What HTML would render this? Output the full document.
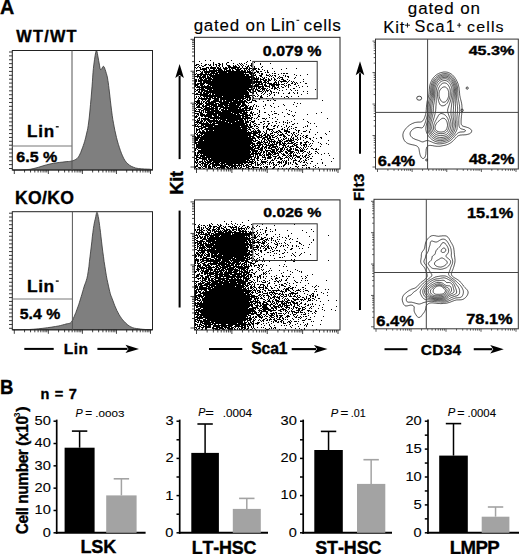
<!DOCTYPE html>
<html><head><meta charset="utf-8"><style>
html,body{margin:0;padding:0;background:#fff;width:520px;height:554px;overflow:hidden}
svg{display:block}
text{font-family:"Liberation Sans", sans-serif;fill:#000;font-kerning:none}
</style></head><body>
<svg width="520" height="554" viewBox="0 0 520 554">
<rect width="520" height="554" fill="#fff"/>
<path d="M205 60h1v1h-1zM210 60h1v1h-1zM231 60h1v1h-1zM250 60h1v1h-1zM199 61h1v1h-1zM247 61h1v1h-1zM213 62h1v1h-1zM227 62h2v1h-2zM246 62h1v1h-1zM254 62h1v1h-1zM201 63h1v1h-1zM213 63h1v1h-1zM218 63h2v1h-2zM222 63h1v1h-1zM226 63h1v1h-1zM233 63h1v1h-1zM239 63h1v1h-1zM241 63h1v1h-1zM244 63h1v1h-1zM251 63h1v1h-1zM260 63h1v1h-1zM270 63h1v1h-1zM196 64h3v1h-3zM205 64h2v1h-2zM208 64h1v1h-1zM210 64h1v1h-1zM213 64h1v1h-1zM215 64h2v1h-2zM219 64h2v1h-2zM222 64h1v1h-1zM226 64h1v1h-1zM237 64h1v1h-1zM240 64h1v1h-1zM242 64h1v1h-1zM246 64h1v1h-1zM251 64h1v1h-1zM260 64h1v1h-1zM195 65h2v1h-2zM199 65h1v1h-1zM201 65h1v1h-1zM204 65h2v1h-2zM209 65h2v1h-2zM213 65h1v1h-1zM216 65h1v1h-1zM218 65h2v1h-2zM222 65h1v1h-1zM227 65h3v1h-3zM233 65h1v1h-1zM235 65h1v1h-1zM238 65h1v1h-1zM241 65h1v1h-1zM243 65h1v1h-1zM248 65h1v1h-1zM250 65h2v1h-2zM198 66h1v1h-1zM202 66h2v1h-2zM211 66h1v1h-1zM216 66h1v1h-1zM219 66h1v1h-1zM222 66h1v1h-1zM228 66h3v1h-3zM233 66h4v1h-4zM239 66h1v1h-1zM242 66h1v1h-1zM245 66h1v1h-1zM247 66h2v1h-2zM251 66h1v1h-1zM254 66h1v1h-1zM262 66h1v1h-1zM195 67h1v1h-1zM197 67h1v1h-1zM199 67h2v1h-2zM206 67h3v1h-3zM210 67h6v1h-6zM217 67h2v1h-2zM220 67h1v1h-1zM223 67h1v1h-1zM225 67h2v1h-2zM228 67h12v1h-12zM242 67h1v1h-1zM246 67h2v1h-2zM249 67h1v1h-1zM254 67h1v1h-1zM261 67h1v1h-1zM196 68h1v1h-1zM200 68h1v1h-1zM202 68h5v1h-5zM208 68h1v1h-1zM210 68h6v1h-6zM217 68h4v1h-4zM223 68h5v1h-5zM229 68h1v1h-1zM231 68h5v1h-5zM237 68h2v1h-2zM240 68h2v1h-2zM243 68h5v1h-5zM249 68h3v1h-3zM253 68h4v1h-4zM258 68h1v1h-1zM272 68h1v1h-1zM286 68h1v1h-1zM296 68h1v1h-1zM200 69h7v1h-7zM209 69h1v1h-1zM213 69h2v1h-2zM216 69h1v1h-1zM218 69h4v1h-4zM224 69h3v1h-3zM229 69h2v1h-2zM232 69h1v1h-1zM235 69h6v1h-6zM244 69h1v1h-1zM246 69h1v1h-1zM248 69h2v1h-2zM252 69h4v1h-4zM258 69h2v1h-2zM262 69h1v1h-1zM281 69h1v1h-1zM196 70h4v1h-4zM203 70h2v1h-2zM206 70h1v1h-1zM209 70h14v1h-14zM224 70h1v1h-1zM226 70h5v1h-5zM232 70h2v1h-2zM236 70h4v1h-4zM241 70h2v1h-2zM244 70h2v1h-2zM247 70h1v1h-1zM249 70h1v1h-1zM251 70h1v1h-1zM253 70h1v1h-1zM256 70h1v1h-1zM264 70h1v1h-1zM267 70h1v1h-1zM196 71h1v1h-1zM200 71h1v1h-1zM202 71h1v1h-1zM204 71h13v1h-13zM218 71h28v1h-28zM247 71h4v1h-4zM256 71h3v1h-3zM260 71h2v1h-2zM267 71h1v1h-1zM274 71h1v1h-1zM201 72h2v1h-2zM204 72h6v1h-6zM211 72h4v1h-4zM216 72h11v1h-11zM228 72h25v1h-25zM254 72h2v1h-2zM257 72h2v1h-2zM265 72h1v1h-1zM267 72h2v1h-2zM196 73h1v1h-1zM200 73h3v1h-3zM205 73h2v1h-2zM208 73h1v1h-1zM210 73h8v1h-8zM219 73h25v1h-25zM245 73h1v1h-1zM249 73h6v1h-6zM259 73h1v1h-1zM261 73h2v1h-2zM272 73h1v1h-1zM274 73h2v1h-2zM281 73h1v1h-1zM283 73h2v1h-2zM286 73h2v1h-2zM195 74h1v1h-1zM197 74h15v1h-15zM213 74h1v1h-1zM215 74h34v1h-34zM250 74h2v1h-2zM253 74h1v1h-1zM255 74h1v1h-1zM261 74h2v1h-2zM266 74h1v1h-1zM269 74h1v1h-1zM278 74h1v1h-1zM294 74h1v1h-1zM307 74h1v1h-1zM197 75h2v1h-2zM200 75h2v1h-2zM203 75h3v1h-3zM207 75h1v1h-1zM209 75h36v1h-36zM246 75h3v1h-3zM251 75h5v1h-5zM259 75h3v1h-3zM266 75h3v1h-3zM270 75h1v1h-1zM272 75h1v1h-1zM274 75h2v1h-2zM283 75h1v1h-1zM285 75h1v1h-1zM296 75h1v1h-1zM300 75h1v1h-1zM195 76h6v1h-6zM202 76h4v1h-4zM207 76h2v1h-2zM210 76h44v1h-44zM256 76h1v1h-1zM260 76h2v1h-2zM269 76h1v1h-1zM271 76h1v1h-1zM275 76h1v1h-1zM279 76h1v1h-1zM285 76h1v1h-1zM287 76h2v1h-2zM197 77h1v1h-1zM199 77h7v1h-7zM207 77h4v1h-4zM212 77h43v1h-43zM256 77h1v1h-1zM258 77h1v1h-1zM262 77h1v1h-1zM264 77h1v1h-1zM266 77h1v1h-1zM273 77h1v1h-1zM278 77h1v1h-1zM280 77h3v1h-3zM288 77h1v1h-1zM295 77h1v1h-1zM199 78h3v1h-3zM203 78h1v1h-1zM205 78h7v1h-7zM213 78h37v1h-37zM251 78h8v1h-8zM260 78h1v1h-1zM263 78h2v1h-2zM268 78h1v1h-1zM271 78h1v1h-1zM274 78h1v1h-1zM277 78h1v1h-1zM279 78h1v1h-1zM282 78h1v1h-1zM294 78h1v1h-1zM195 79h2v1h-2zM198 79h1v1h-1zM200 79h3v1h-3zM204 79h3v1h-3zM208 79h51v1h-51zM260 79h4v1h-4zM265 79h2v1h-2zM268 79h2v1h-2zM271 79h1v1h-1zM274 79h2v1h-2zM281 79h3v1h-3zM287 79h1v1h-1zM303 79h1v1h-1zM195 80h2v1h-2zM198 80h13v1h-13zM212 80h41v1h-41zM254 80h1v1h-1zM256 80h2v1h-2zM260 80h1v1h-1zM263 80h4v1h-4zM268 80h3v1h-3zM274 80h1v1h-1zM276 80h1v1h-1zM279 80h1v1h-1zM283 80h3v1h-3zM289 80h1v1h-1zM195 81h2v1h-2zM198 81h4v1h-4zM203 81h59v1h-59zM264 81h2v1h-2zM267 81h2v1h-2zM275 81h1v1h-1zM278 81h1v1h-1zM280 81h7v1h-7zM288 81h1v1h-1zM291 81h1v1h-1zM293 81h1v1h-1zM303 81h1v1h-1zM195 82h1v1h-1zM200 82h2v1h-2zM203 82h59v1h-59zM263 82h4v1h-4zM268 82h1v1h-1zM274 82h3v1h-3zM278 82h1v1h-1zM281 82h1v1h-1zM287 82h1v1h-1zM292 82h1v1h-1zM294 82h1v1h-1zM296 82h1v1h-1zM300 82h1v1h-1zM195 83h1v1h-1zM197 83h8v1h-8zM206 83h49v1h-49zM256 83h1v1h-1zM258 83h2v1h-2zM261 83h2v1h-2zM265 83h1v1h-1zM267 83h5v1h-5zM273 83h2v1h-2zM276 83h1v1h-1zM278 83h1v1h-1zM284 83h1v1h-1zM286 83h1v1h-1zM291 83h2v1h-2zM295 83h1v1h-1zM297 83h1v1h-1zM305 83h2v1h-2zM195 84h4v1h-4zM200 84h4v1h-4zM208 84h43v1h-43zM252 84h1v1h-1zM255 84h8v1h-8zM264 84h2v1h-2zM269 84h11v1h-11zM281 84h3v1h-3zM288 84h2v1h-2zM294 84h2v1h-2zM195 85h3v1h-3zM200 85h3v1h-3zM204 85h1v1h-1zM207 85h2v1h-2zM210 85h43v1h-43zM254 85h5v1h-5zM262 85h1v1h-1zM264 85h3v1h-3zM269 85h1v1h-1zM271 85h4v1h-4zM276 85h3v1h-3zM284 85h1v1h-1zM286 85h1v1h-1zM288 85h1v1h-1zM290 85h1v1h-1zM298 85h1v1h-1zM195 86h1v1h-1zM197 86h3v1h-3zM201 86h10v1h-10zM212 86h52v1h-52zM265 86h5v1h-5zM272 86h3v1h-3zM278 86h1v1h-1zM281 86h1v1h-1zM285 86h1v1h-1zM288 86h1v1h-1zM296 86h1v1h-1zM302 86h1v1h-1zM307 86h1v1h-1zM196 87h57v1h-57zM254 87h1v1h-1zM256 87h1v1h-1zM258 87h3v1h-3zM262 87h2v1h-2zM269 87h1v1h-1zM272 87h1v1h-1zM274 87h2v1h-2zM277 87h2v1h-2zM282 87h2v1h-2zM288 87h1v1h-1zM299 87h1v1h-1zM199 88h1v1h-1zM201 88h3v1h-3zM205 88h44v1h-44zM251 88h1v1h-1zM253 88h2v1h-2zM256 88h1v1h-1zM258 88h2v1h-2zM261 88h5v1h-5zM267 88h1v1h-1zM271 88h2v1h-2zM274 88h3v1h-3zM279 88h1v1h-1zM293 88h2v1h-2zM195 89h1v1h-1zM197 89h8v1h-8zM207 89h5v1h-5zM213 89h41v1h-41zM255 89h3v1h-3zM260 89h1v1h-1zM262 89h3v1h-3zM266 89h1v1h-1zM269 89h1v1h-1zM274 89h1v1h-1zM277 89h1v1h-1zM286 89h1v1h-1zM290 89h1v1h-1zM315 89h1v1h-1zM196 90h2v1h-2zM199 90h1v1h-1zM201 90h7v1h-7zM209 90h38v1h-38zM248 90h3v1h-3zM252 90h2v1h-2zM255 90h1v1h-1zM257 90h3v1h-3zM262 90h1v1h-1zM264 90h1v1h-1zM266 90h3v1h-3zM270 90h1v1h-1zM279 90h1v1h-1zM282 90h1v1h-1zM291 90h1v1h-1zM295 90h1v1h-1zM297 90h1v1h-1zM195 91h1v1h-1zM198 91h2v1h-2zM201 91h2v1h-2zM204 91h44v1h-44zM249 91h2v1h-2zM253 91h3v1h-3zM258 91h4v1h-4zM263 91h1v1h-1zM265 91h1v1h-1zM267 91h1v1h-1zM270 91h2v1h-2zM303 91h1v1h-1zM307 91h1v1h-1zM198 92h4v1h-4zM203 92h2v1h-2zM206 92h43v1h-43zM250 92h4v1h-4zM256 92h1v1h-1zM262 92h1v1h-1zM265 92h1v1h-1zM271 92h1v1h-1zM273 92h2v1h-2zM276 92h1v1h-1zM278 92h1v1h-1zM289 92h1v1h-1zM293 92h1v1h-1zM297 92h1v1h-1zM196 93h2v1h-2zM200 93h2v1h-2zM203 93h6v1h-6zM210 93h1v1h-1zM212 93h37v1h-37zM252 93h2v1h-2zM256 93h1v1h-1zM261 93h1v1h-1zM264 93h1v1h-1zM269 93h1v1h-1zM271 93h1v1h-1zM278 93h1v1h-1zM283 93h1v1h-1zM288 93h2v1h-2zM294 93h1v1h-1zM297 93h1v1h-1zM307 93h1v1h-1zM195 94h13v1h-13zM209 94h2v1h-2zM212 94h2v1h-2zM215 94h34v1h-34zM257 94h1v1h-1zM263 94h1v1h-1zM267 94h1v1h-1zM270 94h1v1h-1zM274 94h1v1h-1zM301 94h1v1h-1zM200 95h44v1h-44zM245 95h7v1h-7zM253 95h2v1h-2zM258 95h1v1h-1zM261 95h1v1h-1zM269 95h1v1h-1zM274 95h1v1h-1zM196 96h1v1h-1zM198 96h1v1h-1zM200 96h1v1h-1zM203 96h19v1h-19zM223 96h27v1h-27zM252 96h1v1h-1zM255 96h1v1h-1zM257 96h1v1h-1zM260 96h2v1h-2zM267 96h1v1h-1zM281 96h1v1h-1zM286 96h2v1h-2zM291 96h1v1h-1zM298 96h1v1h-1zM196 97h1v1h-1zM199 97h1v1h-1zM201 97h1v1h-1zM204 97h1v1h-1zM206 97h2v1h-2zM209 97h4v1h-4zM214 97h2v1h-2zM217 97h27v1h-27zM245 97h6v1h-6zM253 97h1v1h-1zM260 97h3v1h-3zM272 97h1v1h-1zM284 97h1v1h-1zM288 97h1v1h-1zM195 98h1v1h-1zM198 98h13v1h-13zM212 98h7v1h-7zM220 98h26v1h-26zM247 98h1v1h-1zM249 98h2v1h-2zM253 98h1v1h-1zM259 98h1v1h-1zM266 98h1v1h-1zM198 99h1v1h-1zM201 99h6v1h-6zM208 99h3v1h-3zM214 99h5v1h-5zM220 99h14v1h-14zM235 99h6v1h-6zM242 99h2v1h-2zM246 99h2v1h-2zM249 99h2v1h-2zM252 99h1v1h-1zM259 99h1v1h-1zM273 99h1v1h-1zM197 100h3v1h-3zM202 100h1v1h-1zM205 100h1v1h-1zM207 100h3v1h-3zM213 100h6v1h-6zM220 100h2v1h-2zM223 100h2v1h-2zM226 100h12v1h-12zM239 100h4v1h-4zM244 100h2v1h-2zM247 100h3v1h-3zM252 100h4v1h-4zM267 100h2v1h-2zM270 100h1v1h-1zM274 100h2v1h-2zM322 100h1v1h-1zM195 101h5v1h-5zM201 101h1v1h-1zM203 101h2v1h-2zM206 101h4v1h-4zM211 101h11v1h-11zM223 101h9v1h-9zM233 101h14v1h-14zM251 101h1v1h-1zM255 101h2v1h-2zM263 101h1v1h-1zM196 102h4v1h-4zM201 102h1v1h-1zM203 102h1v1h-1zM205 102h2v1h-2zM208 102h8v1h-8zM219 102h10v1h-10zM230 102h15v1h-15zM246 102h2v1h-2zM249 102h3v1h-3zM294 102h1v1h-1zM195 103h1v1h-1zM197 103h6v1h-6zM205 103h9v1h-9zM215 103h4v1h-4zM220 103h21v1h-21zM242 103h3v1h-3zM248 103h1v1h-1zM273 103h1v1h-1zM297 103h1v1h-1zM300 103h1v1h-1zM196 104h2v1h-2zM199 104h3v1h-3zM203 104h1v1h-1zM206 104h11v1h-11zM218 104h10v1h-10zM229 104h7v1h-7zM237 104h4v1h-4zM242 104h4v1h-4zM254 104h1v1h-1zM265 104h1v1h-1zM283 104h1v1h-1zM293 104h1v1h-1zM196 105h1v1h-1zM198 105h2v1h-2zM202 105h2v1h-2zM205 105h5v1h-5zM211 105h6v1h-6zM218 105h5v1h-5zM224 105h16v1h-16zM241 105h6v1h-6zM248 105h1v1h-1zM253 105h1v1h-1zM256 105h1v1h-1zM265 105h1v1h-1zM270 105h1v1h-1zM284 105h1v1h-1zM197 106h3v1h-3zM202 106h5v1h-5zM209 106h3v1h-3zM213 106h11v1h-11zM225 106h3v1h-3zM229 106h10v1h-10zM240 106h4v1h-4zM245 106h3v1h-3zM250 106h2v1h-2zM253 106h1v1h-1zM256 106h1v1h-1zM258 106h1v1h-1zM263 106h1v1h-1zM271 106h1v1h-1zM278 106h1v1h-1zM296 106h1v1h-1zM196 107h6v1h-6zM203 107h1v1h-1zM205 107h5v1h-5zM211 107h3v1h-3zM215 107h3v1h-3zM220 107h21v1h-21zM244 107h4v1h-4zM249 107h2v1h-2zM252 107h1v1h-1zM274 107h1v1h-1zM195 108h1v1h-1zM201 108h2v1h-2zM204 108h14v1h-14zM219 108h2v1h-2zM223 108h15v1h-15zM239 108h2v1h-2zM242 108h9v1h-9zM252 108h1v1h-1zM255 108h1v1h-1zM264 108h1v1h-1zM196 109h1v1h-1zM198 109h3v1h-3zM203 109h11v1h-11zM215 109h3v1h-3zM219 109h1v1h-1zM221 109h3v1h-3zM225 109h2v1h-2zM228 109h16v1h-16zM245 109h2v1h-2zM249 109h4v1h-4zM257 109h1v1h-1zM286 109h1v1h-1zM195 110h1v1h-1zM199 110h1v1h-1zM201 110h3v1h-3zM205 110h5v1h-5zM211 110h8v1h-8zM221 110h29v1h-29zM259 110h1v1h-1zM289 110h1v1h-1zM195 111h5v1h-5zM201 111h1v1h-1zM203 111h1v1h-1zM205 111h1v1h-1zM207 111h14v1h-14zM222 111h23v1h-23zM246 111h1v1h-1zM251 111h1v1h-1zM259 111h1v1h-1zM271 111h1v1h-1zM274 111h1v1h-1zM291 111h1v1h-1zM199 112h3v1h-3zM203 112h1v1h-1zM205 112h9v1h-9zM215 112h16v1h-16zM232 112h10v1h-10zM243 112h5v1h-5zM250 112h2v1h-2zM253 112h1v1h-1zM259 112h1v1h-1zM264 112h2v1h-2zM282 112h1v1h-1zM295 112h1v1h-1zM321 112h1v1h-1zM195 113h4v1h-4zM200 113h3v1h-3zM207 113h26v1h-26zM234 113h5v1h-5zM240 113h7v1h-7zM250 113h3v1h-3zM257 113h1v1h-1zM274 113h3v1h-3zM287 113h1v1h-1zM316 113h1v1h-1zM197 114h2v1h-2zM200 114h5v1h-5zM206 114h11v1h-11zM218 114h18v1h-18zM237 114h3v1h-3zM242 114h6v1h-6zM249 114h1v1h-1zM252 114h1v1h-1zM254 114h2v1h-2zM259 114h1v1h-1zM268 114h1v1h-1zM272 114h1v1h-1zM278 114h1v1h-1zM288 114h2v1h-2zM307 114h1v1h-1zM196 115h1v1h-1zM198 115h1v1h-1zM200 115h12v1h-12zM213 115h4v1h-4zM218 115h26v1h-26zM245 115h6v1h-6zM252 115h1v1h-1zM258 115h1v1h-1zM269 115h1v1h-1zM292 115h1v1h-1zM294 115h1v1h-1zM195 116h3v1h-3zM201 116h2v1h-2zM204 116h8v1h-8zM214 116h5v1h-5zM220 116h21v1h-21zM242 116h6v1h-6zM250 116h1v1h-1zM258 116h2v1h-2zM284 116h1v1h-1zM293 116h1v1h-1zM195 117h2v1h-2zM199 117h1v1h-1zM205 117h1v1h-1zM208 117h33v1h-33zM242 117h2v1h-2zM245 117h5v1h-5zM251 117h2v1h-2zM257 117h1v1h-1zM269 117h1v1h-1zM275 117h1v1h-1zM198 118h2v1h-2zM201 118h8v1h-8zM210 118h42v1h-42zM254 118h1v1h-1zM256 118h1v1h-1zM262 118h3v1h-3zM266 118h1v1h-1zM272 118h1v1h-1zM327 118h1v1h-1zM197 119h1v1h-1zM199 119h1v1h-1zM201 119h1v1h-1zM203 119h7v1h-7zM213 119h2v1h-2zM216 119h1v1h-1zM218 119h1v1h-1zM220 119h6v1h-6zM227 119h16v1h-16zM244 119h2v1h-2zM247 119h1v1h-1zM251 119h1v1h-1zM258 119h1v1h-1zM265 119h1v1h-1zM277 119h1v1h-1zM294 119h1v1h-1zM303 119h1v1h-1zM195 120h1v1h-1zM197 120h3v1h-3zM201 120h2v1h-2zM204 120h2v1h-2zM207 120h11v1h-11zM219 120h2v1h-2zM222 120h16v1h-16zM239 120h5v1h-5zM245 120h1v1h-1zM247 120h1v1h-1zM249 120h2v1h-2zM254 120h1v1h-1zM287 120h1v1h-1zM196 121h3v1h-3zM200 121h3v1h-3zM204 121h1v1h-1zM206 121h1v1h-1zM208 121h17v1h-17zM226 121h9v1h-9zM236 121h8v1h-8zM245 121h4v1h-4zM251 121h4v1h-4zM263 121h2v1h-2zM267 121h2v1h-2zM275 121h2v1h-2zM283 121h1v1h-1zM291 121h1v1h-1zM307 121h1v1h-1zM195 122h7v1h-7zM203 122h1v1h-1zM206 122h2v1h-2zM209 122h3v1h-3zM213 122h2v1h-2zM216 122h12v1h-12zM229 122h15v1h-15zM245 122h4v1h-4zM250 122h1v1h-1zM252 122h2v1h-2zM260 122h2v1h-2zM272 122h1v1h-1zM279 122h1v1h-1zM283 122h1v1h-1zM285 122h1v1h-1zM287 122h1v1h-1zM289 122h1v1h-1zM308 122h1v1h-1zM197 123h1v1h-1zM199 123h10v1h-10zM210 123h1v1h-1zM212 123h19v1h-19zM232 123h15v1h-15zM250 123h1v1h-1zM254 123h2v1h-2zM264 123h1v1h-1zM268 123h2v1h-2zM276 123h1v1h-1zM287 123h1v1h-1zM294 123h1v1h-1zM297 123h1v1h-1zM310 123h1v1h-1zM314 123h1v1h-1zM195 124h2v1h-2zM198 124h1v1h-1zM201 124h14v1h-14zM218 124h27v1h-27zM246 124h2v1h-2zM249 124h2v1h-2zM253 124h1v1h-1zM256 124h1v1h-1zM258 124h2v1h-2zM263 124h1v1h-1zM268 124h1v1h-1zM283 124h1v1h-1zM292 124h2v1h-2zM195 125h1v1h-1zM197 125h1v1h-1zM201 125h3v1h-3zM205 125h43v1h-43zM249 125h2v1h-2zM254 125h2v1h-2zM267 125h1v1h-1zM271 125h1v1h-1zM274 125h2v1h-2zM278 125h1v1h-1zM286 125h1v1h-1zM307 125h1v1h-1zM195 126h7v1h-7zM203 126h10v1h-10zM214 126h26v1h-26zM241 126h8v1h-8zM250 126h3v1h-3zM254 126h1v1h-1zM256 126h2v1h-2zM263 126h2v1h-2zM266 126h2v1h-2zM273 126h2v1h-2zM277 126h1v1h-1zM281 126h1v1h-1zM286 126h1v1h-1zM289 126h1v1h-1zM291 126h1v1h-1zM305 126h1v1h-1zM307 126h1v1h-1zM316 126h1v1h-1zM198 127h1v1h-1zM201 127h5v1h-5zM208 127h39v1h-39zM248 127h4v1h-4zM258 127h1v1h-1zM263 127h1v1h-1zM266 127h1v1h-1zM277 127h1v1h-1zM284 127h1v1h-1zM288 127h1v1h-1zM295 127h2v1h-2zM303 127h1v1h-1zM196 128h1v1h-1zM199 128h4v1h-4zM205 128h36v1h-36zM242 128h6v1h-6zM249 128h1v1h-1zM252 128h2v1h-2zM256 128h2v1h-2zM263 128h1v1h-1zM267 128h2v1h-2zM273 128h2v1h-2zM282 128h1v1h-1zM287 128h1v1h-1zM291 128h1v1h-1zM293 128h1v1h-1zM196 129h4v1h-4zM201 129h1v1h-1zM204 129h43v1h-43zM248 129h3v1h-3zM254 129h1v1h-1zM258 129h1v1h-1zM267 129h6v1h-6zM281 129h2v1h-2zM284 129h1v1h-1zM287 129h1v1h-1zM289 129h1v1h-1zM295 129h1v1h-1zM310 129h1v1h-1zM196 130h2v1h-2zM199 130h1v1h-1zM202 130h2v1h-2zM206 130h2v1h-2zM209 130h4v1h-4zM214 130h34v1h-34zM250 130h1v1h-1zM253 130h1v1h-1zM255 130h1v1h-1zM257 130h3v1h-3zM266 130h1v1h-1zM269 130h1v1h-1zM272 130h1v1h-1zM278 130h2v1h-2zM284 130h4v1h-4zM296 130h1v1h-1zM298 130h2v1h-2zM306 130h1v1h-1zM196 131h1v1h-1zM199 131h2v1h-2zM202 131h3v1h-3zM206 131h41v1h-41zM248 131h1v1h-1zM251 131h6v1h-6zM258 131h3v1h-3zM263 131h1v1h-1zM266 131h1v1h-1zM271 131h1v1h-1zM273 131h1v1h-1zM276 131h2v1h-2zM279 131h2v1h-2zM284 131h6v1h-6zM298 131h1v1h-1zM303 131h3v1h-3zM309 131h1v1h-1zM329 131h1v1h-1zM196 132h1v1h-1zM198 132h54v1h-54zM253 132h8v1h-8zM264 132h1v1h-1zM266 132h1v1h-1zM272 132h1v1h-1zM274 132h3v1h-3zM278 132h1v1h-1zM280 132h2v1h-2zM286 132h1v1h-1zM288 132h2v1h-2zM293 132h2v1h-2zM298 132h1v1h-1zM309 132h1v1h-1zM317 132h1v1h-1zM195 133h1v1h-1zM197 133h1v1h-1zM200 133h58v1h-58zM259 133h1v1h-1zM262 133h1v1h-1zM265 133h2v1h-2zM270 133h3v1h-3zM277 133h1v1h-1zM282 133h1v1h-1zM285 133h2v1h-2zM291 133h1v1h-1zM293 133h1v1h-1zM296 133h1v1h-1zM301 133h1v1h-1zM325 133h1v1h-1zM196 134h2v1h-2zM199 134h1v1h-1zM201 134h2v1h-2zM204 134h47v1h-47zM253 134h3v1h-3zM258 134h2v1h-2zM261 134h1v1h-1zM264 134h2v1h-2zM267 134h2v1h-2zM270 134h1v1h-1zM274 134h1v1h-1zM278 134h1v1h-1zM280 134h4v1h-4zM287 134h1v1h-1zM292 134h1v1h-1zM294 134h1v1h-1zM298 134h1v1h-1zM315 134h1v1h-1zM326 134h1v1h-1zM197 135h5v1h-5zM203 135h48v1h-48zM253 135h4v1h-4zM259 135h3v1h-3zM263 135h3v1h-3zM267 135h3v1h-3zM271 135h3v1h-3zM277 135h1v1h-1zM279 135h3v1h-3zM283 135h2v1h-2zM288 135h2v1h-2zM292 135h1v1h-1zM295 135h1v1h-1zM297 135h1v1h-1zM300 135h1v1h-1zM303 135h1v1h-1zM306 135h2v1h-2zM195 136h1v1h-1zM197 136h3v1h-3zM201 136h47v1h-47zM249 136h5v1h-5zM256 136h4v1h-4zM261 136h2v1h-2zM265 136h3v1h-3zM269 136h2v1h-2zM272 136h1v1h-1zM275 136h2v1h-2zM283 136h3v1h-3zM291 136h1v1h-1zM295 136h2v1h-2zM302 136h1v1h-1zM305 136h2v1h-2zM195 137h56v1h-56zM252 137h3v1h-3zM257 137h5v1h-5zM263 137h5v1h-5zM269 137h2v1h-2zM272 137h3v1h-3zM277 137h1v1h-1zM280 137h1v1h-1zM284 137h1v1h-1zM286 137h1v1h-1zM291 137h1v1h-1zM293 137h1v1h-1zM297 137h1v1h-1zM300 137h1v1h-1zM303 137h1v1h-1zM306 137h2v1h-2zM313 137h1v1h-1zM320 137h2v1h-2zM195 138h4v1h-4zM200 138h56v1h-56zM258 138h1v1h-1zM262 138h3v1h-3zM267 138h4v1h-4zM276 138h1v1h-1zM278 138h1v1h-1zM283 138h1v1h-1zM285 138h2v1h-2zM288 138h1v1h-1zM290 138h1v1h-1zM292 138h2v1h-2zM297 138h1v1h-1zM300 138h1v1h-1zM305 138h1v1h-1zM309 138h2v1h-2zM316 138h1v1h-1zM321 138h1v1h-1zM195 139h3v1h-3zM199 139h54v1h-54zM255 139h1v1h-1zM259 139h1v1h-1zM262 139h1v1h-1zM264 139h2v1h-2zM267 139h2v1h-2zM270 139h4v1h-4zM278 139h1v1h-1zM281 139h1v1h-1zM283 139h2v1h-2zM288 139h1v1h-1zM290 139h2v1h-2zM293 139h1v1h-1zM295 139h2v1h-2zM298 139h1v1h-1zM300 139h1v1h-1zM310 139h1v1h-1zM195 140h3v1h-3zM199 140h4v1h-4zM204 140h50v1h-50zM255 140h3v1h-3zM261 140h1v1h-1zM264 140h1v1h-1zM266 140h1v1h-1zM268 140h2v1h-2zM271 140h1v1h-1zM274 140h1v1h-1zM278 140h3v1h-3zM282 140h1v1h-1zM286 140h8v1h-8zM297 140h1v1h-1zM303 140h1v1h-1zM312 140h1v1h-1zM328 140h1v1h-1zM195 141h1v1h-1zM198 141h54v1h-54zM253 141h3v1h-3zM258 141h2v1h-2zM261 141h1v1h-1zM263 141h2v1h-2zM267 141h1v1h-1zM269 141h7v1h-7zM277 141h1v1h-1zM279 141h3v1h-3zM284 141h4v1h-4zM289 141h3v1h-3zM294 141h1v1h-1zM306 141h2v1h-2zM313 141h1v1h-1zM195 142h58v1h-58zM257 142h6v1h-6zM264 142h4v1h-4zM269 142h1v1h-1zM271 142h1v1h-1zM273 142h2v1h-2zM276 142h5v1h-5zM282 142h1v1h-1zM284 142h1v1h-1zM288 142h1v1h-1zM291 142h3v1h-3zM296 142h2v1h-2zM300 142h2v1h-2zM304 142h3v1h-3zM308 142h1v1h-1zM318 142h1v1h-1zM195 143h2v1h-2zM198 143h57v1h-57zM256 143h5v1h-5zM263 143h1v1h-1zM265 143h1v1h-1zM268 143h2v1h-2zM272 143h1v1h-1zM274 143h1v1h-1zM276 143h2v1h-2zM279 143h2v1h-2zM282 143h4v1h-4zM287 143h6v1h-6zM294 143h2v1h-2zM300 143h2v1h-2zM305 143h1v1h-1zM310 143h1v1h-1zM312 143h1v1h-1zM320 143h1v1h-1zM326 143h1v1h-1zM196 144h55v1h-55zM252 144h3v1h-3zM257 144h1v1h-1zM259 144h4v1h-4zM264 144h3v1h-3zM268 144h1v1h-1zM270 144h7v1h-7zM279 144h3v1h-3zM283 144h2v1h-2zM286 144h1v1h-1zM293 144h2v1h-2zM296 144h2v1h-2zM300 144h1v1h-1zM303 144h4v1h-4zM309 144h1v1h-1zM321 144h1v1h-1zM328 144h1v1h-1zM196 145h54v1h-54zM251 145h2v1h-2zM254 145h7v1h-7zM262 145h1v1h-1zM266 145h8v1h-8zM276 145h1v1h-1zM279 145h1v1h-1zM282 145h4v1h-4zM288 145h1v1h-1zM292 145h1v1h-1zM294 145h3v1h-3zM301 145h1v1h-1zM303 145h2v1h-2zM306 145h1v1h-1zM311 145h1v1h-1zM196 146h55v1h-55zM252 146h4v1h-4zM258 146h2v1h-2zM262 146h2v1h-2zM265 146h2v1h-2zM269 146h2v1h-2zM272 146h6v1h-6zM283 146h1v1h-1zM285 146h1v1h-1zM287 146h2v1h-2zM290 146h4v1h-4zM296 146h2v1h-2zM304 146h1v1h-1zM306 146h1v1h-1zM308 146h1v1h-1zM310 146h1v1h-1zM320 146h1v1h-1zM196 147h58v1h-58zM255 147h1v1h-1zM257 147h3v1h-3zM261 147h2v1h-2zM264 147h3v1h-3zM268 147h2v1h-2zM271 147h5v1h-5zM277 147h1v1h-1zM279 147h1v1h-1zM282 147h2v1h-2zM285 147h2v1h-2zM289 147h2v1h-2zM296 147h3v1h-3zM300 147h1v1h-1zM303 147h1v1h-1zM305 147h1v1h-1zM195 148h2v1h-2zM198 148h55v1h-55zM254 148h5v1h-5zM260 148h3v1h-3zM264 148h1v1h-1zM266 148h1v1h-1zM268 148h4v1h-4zM275 148h2v1h-2zM278 148h1v1h-1zM280 148h3v1h-3zM284 148h1v1h-1zM287 148h1v1h-1zM290 148h2v1h-2zM293 148h1v1h-1zM295 148h1v1h-1zM299 148h1v1h-1zM301 148h1v1h-1zM303 148h1v1h-1zM307 148h1v1h-1zM311 148h2v1h-2zM316 148h1v1h-1zM195 149h1v1h-1zM197 149h1v1h-1zM201 149h54v1h-54zM258 149h5v1h-5zM265 149h1v1h-1zM271 149h4v1h-4zM276 149h3v1h-3zM280 149h3v1h-3zM284 149h1v1h-1zM286 149h2v1h-2zM289 149h3v1h-3zM293 149h1v1h-1zM295 149h3v1h-3zM300 149h1v1h-1zM302 149h1v1h-1zM304 149h1v1h-1zM306 149h1v1h-1zM313 149h1v1h-1zM315 149h2v1h-2zM318 149h1v1h-1zM195 150h1v1h-1zM198 150h52v1h-52zM251 150h7v1h-7zM260 150h3v1h-3zM265 150h6v1h-6zM272 150h3v1h-3zM276 150h2v1h-2zM280 150h2v1h-2zM283 150h1v1h-1zM287 150h4v1h-4zM295 150h4v1h-4zM300 150h4v1h-4zM198 151h53v1h-53zM252 151h6v1h-6zM259 151h1v1h-1zM261 151h1v1h-1zM263 151h2v1h-2zM266 151h2v1h-2zM270 151h5v1h-5zM276 151h1v1h-1zM278 151h5v1h-5zM285 151h2v1h-2zM288 151h6v1h-6zM298 151h1v1h-1zM300 151h3v1h-3zM304 151h2v1h-2zM309 151h1v1h-1zM315 151h2v1h-2zM195 152h1v1h-1zM197 152h54v1h-54zM252 152h2v1h-2zM255 152h2v1h-2zM258 152h1v1h-1zM260 152h2v1h-2zM263 152h2v1h-2zM266 152h1v1h-1zM268 152h2v1h-2zM271 152h5v1h-5zM277 152h1v1h-1zM279 152h2v1h-2zM285 152h3v1h-3zM290 152h3v1h-3zM294 152h1v1h-1zM296 152h1v1h-1zM298 152h1v1h-1zM303 152h1v1h-1zM307 152h1v1h-1zM309 152h1v1h-1zM317 152h1v1h-1zM195 153h1v1h-1zM197 153h2v1h-2zM200 153h50v1h-50zM251 153h10v1h-10zM263 153h1v1h-1zM266 153h1v1h-1zM268 153h3v1h-3zM272 153h1v1h-1zM274 153h5v1h-5zM281 153h1v1h-1zM283 153h1v1h-1zM286 153h2v1h-2zM289 153h3v1h-3zM293 153h1v1h-1zM297 153h1v1h-1zM299 153h1v1h-1zM302 153h1v1h-1zM308 153h1v1h-1zM311 153h1v1h-1zM315 153h1v1h-1zM318 153h1v1h-1zM324 153h1v1h-1zM328 153h1v1h-1zM195 154h1v1h-1zM197 154h1v1h-1zM199 154h1v1h-1zM201 154h1v1h-1zM203 154h51v1h-51zM255 154h3v1h-3zM259 154h2v1h-2zM262 154h1v1h-1zM264 154h1v1h-1zM266 154h6v1h-6zM273 154h3v1h-3zM278 154h1v1h-1zM282 154h3v1h-3zM288 154h1v1h-1zM290 154h1v1h-1zM293 154h1v1h-1zM295 154h1v1h-1zM306 154h1v1h-1zM309 154h2v1h-2zM321 154h1v1h-1zM195 155h4v1h-4zM200 155h51v1h-51zM253 155h1v1h-1zM255 155h1v1h-1zM257 155h1v1h-1zM259 155h3v1h-3zM263 155h2v1h-2zM266 155h3v1h-3zM270 155h1v1h-1zM272 155h1v1h-1zM277 155h2v1h-2zM283 155h3v1h-3zM287 155h1v1h-1zM289 155h3v1h-3zM293 155h4v1h-4zM300 155h1v1h-1zM302 155h1v1h-1zM305 155h2v1h-2zM308 155h1v1h-1zM329 155h1v1h-1zM196 156h2v1h-2zM200 156h5v1h-5zM206 156h48v1h-48zM255 156h1v1h-1zM257 156h2v1h-2zM262 156h1v1h-1zM264 156h1v1h-1zM268 156h3v1h-3zM273 156h4v1h-4zM279 156h1v1h-1zM282 156h1v1h-1zM286 156h1v1h-1zM288 156h1v1h-1zM290 156h2v1h-2zM293 156h1v1h-1zM296 156h4v1h-4zM302 156h1v1h-1zM304 156h2v1h-2zM309 156h1v1h-1zM312 156h1v1h-1zM196 157h5v1h-5zM202 157h50v1h-50zM254 157h2v1h-2zM257 157h2v1h-2zM262 157h4v1h-4zM267 157h5v1h-5zM275 157h1v1h-1zM278 157h3v1h-3zM285 157h3v1h-3zM289 157h1v1h-1zM292 157h1v1h-1zM295 157h1v1h-1zM297 157h3v1h-3zM303 157h1v1h-1zM305 157h1v1h-1zM307 157h2v1h-2zM195 158h2v1h-2zM199 158h8v1h-8zM208 158h2v1h-2zM211 158h39v1h-39zM251 158h1v1h-1zM254 158h1v1h-1zM256 158h3v1h-3zM265 158h1v1h-1zM267 158h4v1h-4zM274 158h2v1h-2zM277 158h2v1h-2zM280 158h3v1h-3zM284 158h1v1h-1zM288 158h1v1h-1zM290 158h1v1h-1zM292 158h1v1h-1zM294 158h1v1h-1zM300 158h2v1h-2zM306 158h1v1h-1zM310 158h2v1h-2zM333 158h1v1h-1zM196 159h3v1h-3zM202 159h5v1h-5zM208 159h41v1h-41zM250 159h5v1h-5zM257 159h1v1h-1zM260 159h1v1h-1zM262 159h1v1h-1zM264 159h2v1h-2zM272 159h1v1h-1zM274 159h1v1h-1zM280 159h2v1h-2zM288 159h1v1h-1zM291 159h1v1h-1zM295 159h1v1h-1zM300 159h1v1h-1zM305 159h1v1h-1zM308 159h1v1h-1zM321 159h1v1h-1zM196 160h2v1h-2zM202 160h1v1h-1zM204 160h1v1h-1zM206 160h2v1h-2zM209 160h37v1h-37zM247 160h3v1h-3zM252 160h1v1h-1zM254 160h1v1h-1zM257 160h2v1h-2zM261 160h1v1h-1zM267 160h1v1h-1zM271 160h3v1h-3zM276 160h1v1h-1zM282 160h1v1h-1zM284 160h1v1h-1zM286 160h1v1h-1zM288 160h1v1h-1zM293 160h4v1h-4zM299 160h1v1h-1zM303 160h1v1h-1zM305 160h2v1h-2zM195 161h1v1h-1zM197 161h1v1h-1zM199 161h4v1h-4zM204 161h2v1h-2zM207 161h5v1h-5zM213 161h35v1h-35zM249 161h5v1h-5zM255 161h1v1h-1zM261 161h6v1h-6zM270 161h1v1h-1zM278 161h2v1h-2zM281 161h1v1h-1zM283 161h1v1h-1zM285 161h2v1h-2zM293 161h1v1h-1zM298 161h2v1h-2zM301 161h1v1h-1zM304 161h1v1h-1zM311 161h2v1h-2zM331 161h1v1h-1zM195 162h3v1h-3zM199 162h2v1h-2zM202 162h2v1h-2zM205 162h6v1h-6zM212 162h8v1h-8zM221 162h32v1h-32zM254 162h2v1h-2zM257 162h1v1h-1zM261 162h5v1h-5zM267 162h1v1h-1zM269 162h2v1h-2zM272 162h2v1h-2zM277 162h5v1h-5zM283 162h1v1h-1zM285 162h2v1h-2zM288 162h1v1h-1zM290 162h1v1h-1zM293 162h1v1h-1zM295 162h1v1h-1zM300 162h1v1h-1zM303 162h2v1h-2zM306 162h1v1h-1zM322 162h1v1h-1zM196 163h1v1h-1zM198 163h1v1h-1zM201 163h5v1h-5zM207 163h2v1h-2zM210 163h4v1h-4zM215 163h4v1h-4zM220 163h5v1h-5zM226 163h17v1h-17zM244 163h2v1h-2zM248 163h1v1h-1zM251 163h3v1h-3zM255 163h1v1h-1zM257 163h1v1h-1zM260 163h1v1h-1zM262 163h1v1h-1zM265 163h1v1h-1zM269 163h1v1h-1zM271 163h1v1h-1zM273 163h1v1h-1zM279 163h1v1h-1zM281 163h1v1h-1zM285 163h2v1h-2zM288 163h1v1h-1zM290 163h1v1h-1zM295 163h2v1h-2zM307 163h1v1h-1zM310 163h1v1h-1zM317 163h1v1h-1zM322 163h1v1h-1zM197 164h1v1h-1zM199 164h2v1h-2zM202 164h1v1h-1zM204 164h4v1h-4zM209 164h2v1h-2zM212 164h8v1h-8zM221 164h2v1h-2zM224 164h9v1h-9zM234 164h2v1h-2zM238 164h2v1h-2zM241 164h3v1h-3zM246 164h2v1h-2zM249 164h3v1h-3zM255 164h1v1h-1zM257 164h3v1h-3zM261 164h1v1h-1zM263 164h1v1h-1zM267 164h1v1h-1zM269 164h1v1h-1zM273 164h2v1h-2zM276 164h1v1h-1zM278 164h1v1h-1zM284 164h2v1h-2zM288 164h1v1h-1zM292 164h1v1h-1zM296 164h2v1h-2zM305 164h1v1h-1zM196 165h2v1h-2zM200 165h1v1h-1zM202 165h1v1h-1zM204 165h3v1h-3zM208 165h2v1h-2zM212 165h14v1h-14zM228 165h14v1h-14zM243 165h1v1h-1zM245 165h4v1h-4zM251 165h1v1h-1zM255 165h1v1h-1zM257 165h2v1h-2zM260 165h1v1h-1zM273 165h1v1h-1zM275 165h2v1h-2zM283 165h2v1h-2zM302 165h3v1h-3zM306 165h1v1h-1zM315 165h1v1h-1zM325 165h1v1h-1zM195 166h3v1h-3zM201 166h1v1h-1zM203 166h4v1h-4zM208 166h3v1h-3zM212 166h3v1h-3zM216 166h1v1h-1zM220 166h8v1h-8zM229 166h1v1h-1zM231 166h5v1h-5zM237 166h1v1h-1zM239 166h1v1h-1zM241 166h1v1h-1zM243 166h2v1h-2zM246 166h1v1h-1zM248 166h3v1h-3zM252 166h2v1h-2zM263 166h1v1h-1zM265 166h3v1h-3zM270 166h1v1h-1zM274 166h1v1h-1zM279 166h1v1h-1zM281 166h1v1h-1zM283 166h1v1h-1zM295 166h2v1h-2zM298 166h1v1h-1zM313 166h1v1h-1zM195 167h1v1h-1zM198 167h3v1h-3zM202 167h1v1h-1zM205 167h2v1h-2zM208 167h3v1h-3zM212 167h1v1h-1zM214 167h2v1h-2zM217 167h8v1h-8zM226 167h3v1h-3zM230 167h3v1h-3zM234 167h3v1h-3zM238 167h1v1h-1zM240 167h2v1h-2zM246 167h3v1h-3zM252 167h7v1h-7zM260 167h2v1h-2zM264 167h1v1h-1zM266 167h2v1h-2zM273 167h2v1h-2zM290 167h1v1h-1zM297 167h1v1h-1zM302 167h1v1h-1zM306 167h1v1h-1zM308 167h2v1h-2zM315 167h1v1h-1zM318 167h1v1h-1zM196 168h1v1h-1zM199 168h2v1h-2zM203 168h2v1h-2zM208 168h5v1h-5zM216 168h2v1h-2zM219 168h1v1h-1zM221 168h4v1h-4zM227 168h4v1h-4zM232 168h1v1h-1zM234 168h3v1h-3zM238 168h3v1h-3zM242 168h2v1h-2zM245 168h1v1h-1zM248 168h2v1h-2zM251 168h1v1h-1zM253 168h1v1h-1zM260 168h2v1h-2zM266 168h1v1h-1zM272 168h2v1h-2zM278 168h1v1h-1zM282 168h1v1h-1zM286 168h1v1h-1zM289 168h1v1h-1zM292 168h2v1h-2zM298 168h1v1h-1zM306 168h1v1h-1zM309 168h1v1h-1z" fill="#000" shape-rendering="crispEdges"/>
<path d="M248 220h1v1h-1zM224 221h1v1h-1zM231 221h1v1h-1zM242 222h1v1h-1zM211 223h1v1h-1zM226 223h1v1h-1zM231 223h1v1h-1zM235 223h1v1h-1zM195 224h1v1h-1zM199 224h1v1h-1zM209 224h1v1h-1zM212 224h1v1h-1zM217 224h1v1h-1zM220 224h1v1h-1zM226 224h1v1h-1zM228 224h1v1h-1zM232 224h1v1h-1zM237 224h1v1h-1zM240 224h1v1h-1zM251 224h1v1h-1zM262 224h1v1h-1zM294 224h1v1h-1zM198 225h1v1h-1zM201 225h1v1h-1zM203 225h2v1h-2zM207 225h1v1h-1zM209 225h2v1h-2zM218 225h1v1h-1zM220 225h2v1h-2zM234 225h1v1h-1zM243 225h2v1h-2zM257 225h1v1h-1zM274 225h1v1h-1zM198 226h2v1h-2zM205 226h1v1h-1zM209 226h3v1h-3zM213 226h4v1h-4zM219 226h2v1h-2zM223 226h1v1h-1zM225 226h1v1h-1zM228 226h3v1h-3zM232 226h1v1h-1zM235 226h2v1h-2zM239 226h1v1h-1zM242 226h1v1h-1zM247 226h2v1h-2zM252 226h1v1h-1zM256 226h1v1h-1zM259 226h1v1h-1zM197 227h3v1h-3zM201 227h1v1h-1zM203 227h1v1h-1zM205 227h1v1h-1zM208 227h1v1h-1zM210 227h1v1h-1zM213 227h2v1h-2zM217 227h3v1h-3zM221 227h1v1h-1zM224 227h2v1h-2zM230 227h7v1h-7zM238 227h1v1h-1zM241 227h1v1h-1zM245 227h1v1h-1zM247 227h1v1h-1zM249 227h1v1h-1zM252 227h2v1h-2zM266 227h1v1h-1zM199 228h1v1h-1zM201 228h1v1h-1zM203 228h1v1h-1zM206 228h2v1h-2zM209 228h2v1h-2zM213 228h1v1h-1zM216 228h1v1h-1zM218 228h2v1h-2zM221 228h3v1h-3zM226 228h1v1h-1zM231 228h1v1h-1zM233 228h1v1h-1zM236 228h1v1h-1zM238 228h7v1h-7zM246 228h1v1h-1zM248 228h1v1h-1zM251 228h1v1h-1zM254 228h1v1h-1zM266 228h1v1h-1zM195 229h1v1h-1zM197 229h3v1h-3zM201 229h2v1h-2zM207 229h3v1h-3zM212 229h4v1h-4zM217 229h3v1h-3zM223 229h2v1h-2zM226 229h4v1h-4zM232 229h5v1h-5zM238 229h2v1h-2zM241 229h1v1h-1zM244 229h1v1h-1zM246 229h1v1h-1zM251 229h1v1h-1zM260 229h1v1h-1zM262 229h1v1h-1zM270 229h1v1h-1zM275 229h1v1h-1zM311 229h1v1h-1zM195 230h1v1h-1zM197 230h1v1h-1zM199 230h3v1h-3zM203 230h2v1h-2zM206 230h1v1h-1zM208 230h3v1h-3zM212 230h3v1h-3zM216 230h1v1h-1zM218 230h1v1h-1zM220 230h1v1h-1zM222 230h1v1h-1zM224 230h4v1h-4zM229 230h2v1h-2zM232 230h2v1h-2zM236 230h1v1h-1zM238 230h3v1h-3zM242 230h2v1h-2zM245 230h1v1h-1zM257 230h1v1h-1zM265 230h2v1h-2zM275 230h1v1h-1zM287 230h1v1h-1zM302 230h1v1h-1zM196 231h1v1h-1zM199 231h1v1h-1zM201 231h2v1h-2zM207 231h1v1h-1zM210 231h1v1h-1zM212 231h1v1h-1zM214 231h8v1h-8zM223 231h4v1h-4zM228 231h4v1h-4zM234 231h2v1h-2zM239 231h8v1h-8zM248 231h1v1h-1zM250 231h1v1h-1zM256 231h1v1h-1zM265 231h1v1h-1zM270 231h1v1h-1zM272 231h1v1h-1zM313 231h1v1h-1zM196 232h8v1h-8zM207 232h4v1h-4zM214 232h2v1h-2zM218 232h6v1h-6zM225 232h16v1h-16zM242 232h2v1h-2zM245 232h2v1h-2zM249 232h6v1h-6zM257 232h1v1h-1zM260 232h1v1h-1zM265 232h1v1h-1zM306 232h1v1h-1zM198 233h2v1h-2zM201 233h1v1h-1zM203 233h1v1h-1zM205 233h2v1h-2zM208 233h2v1h-2zM211 233h3v1h-3zM215 233h16v1h-16zM232 233h1v1h-1zM234 233h18v1h-18zM253 233h1v1h-1zM257 233h1v1h-1zM263 233h1v1h-1zM291 233h1v1h-1zM196 234h1v1h-1zM198 234h1v1h-1zM200 234h10v1h-10zM211 234h1v1h-1zM213 234h18v1h-18zM232 234h20v1h-20zM254 234h1v1h-1zM256 234h1v1h-1zM259 234h1v1h-1zM261 234h1v1h-1zM266 234h2v1h-2zM275 234h1v1h-1zM279 234h1v1h-1zM195 235h3v1h-3zM199 235h1v1h-1zM205 235h3v1h-3zM209 235h11v1h-11zM221 235h29v1h-29zM251 235h1v1h-1zM254 235h2v1h-2zM258 235h1v1h-1zM266 235h1v1h-1zM288 235h1v1h-1zM328 235h1v1h-1zM197 236h1v1h-1zM199 236h2v1h-2zM202 236h1v1h-1zM204 236h2v1h-2zM207 236h2v1h-2zM210 236h4v1h-4zM215 236h4v1h-4zM220 236h25v1h-25zM246 236h1v1h-1zM248 236h2v1h-2zM254 236h2v1h-2zM257 236h1v1h-1zM259 236h1v1h-1zM273 236h1v1h-1zM279 236h1v1h-1zM288 236h1v1h-1zM309 236h1v1h-1zM195 237h1v1h-1zM197 237h2v1h-2zM200 237h3v1h-3zM204 237h2v1h-2zM207 237h1v1h-1zM209 237h39v1h-39zM249 237h1v1h-1zM251 237h6v1h-6zM261 237h1v1h-1zM264 237h2v1h-2zM271 237h1v1h-1zM277 237h1v1h-1zM282 237h1v1h-1zM285 237h1v1h-1zM196 238h2v1h-2zM200 238h2v1h-2zM203 238h3v1h-3zM207 238h44v1h-44zM254 238h2v1h-2zM261 238h3v1h-3zM267 238h1v1h-1zM269 238h1v1h-1zM271 238h2v1h-2zM286 238h1v1h-1zM290 238h1v1h-1zM297 238h1v1h-1zM195 239h1v1h-1zM202 239h5v1h-5zM208 239h42v1h-42zM251 239h3v1h-3zM257 239h2v1h-2zM260 239h3v1h-3zM265 239h3v1h-3zM271 239h1v1h-1zM277 239h1v1h-1zM279 239h1v1h-1zM289 239h1v1h-1zM292 239h1v1h-1zM313 239h1v1h-1zM196 240h2v1h-2zM200 240h3v1h-3zM206 240h9v1h-9zM216 240h31v1h-31zM248 240h3v1h-3zM252 240h1v1h-1zM254 240h1v1h-1zM256 240h1v1h-1zM259 240h1v1h-1zM263 240h2v1h-2zM266 240h1v1h-1zM268 240h1v1h-1zM271 240h1v1h-1zM273 240h1v1h-1zM275 240h1v1h-1zM285 240h1v1h-1zM313 240h1v1h-1zM197 241h8v1h-8zM206 241h42v1h-42zM249 241h2v1h-2zM252 241h3v1h-3zM257 241h2v1h-2zM262 241h1v1h-1zM264 241h2v1h-2zM275 241h1v1h-1zM278 241h1v1h-1zM296 241h2v1h-2zM195 242h3v1h-3zM199 242h3v1h-3zM203 242h1v1h-1zM205 242h1v1h-1zM208 242h3v1h-3zM212 242h33v1h-33zM246 242h2v1h-2zM249 242h12v1h-12zM262 242h3v1h-3zM266 242h1v1h-1zM271 242h1v1h-1zM276 242h1v1h-1zM284 242h1v1h-1zM290 242h1v1h-1zM299 242h1v1h-1zM311 242h1v1h-1zM195 243h1v1h-1zM197 243h5v1h-5zM203 243h4v1h-4zM208 243h1v1h-1zM210 243h39v1h-39zM250 243h1v1h-1zM252 243h3v1h-3zM258 243h1v1h-1zM261 243h4v1h-4zM268 243h1v1h-1zM274 243h1v1h-1zM277 243h1v1h-1zM279 243h1v1h-1zM281 243h1v1h-1zM285 243h1v1h-1zM299 243h2v1h-2zM197 244h2v1h-2zM200 244h4v1h-4zM205 244h9v1h-9zM215 244h37v1h-37zM259 244h1v1h-1zM263 244h1v1h-1zM267 244h1v1h-1zM275 244h3v1h-3zM287 244h1v1h-1zM301 244h1v1h-1zM309 244h1v1h-1zM195 245h1v1h-1zM197 245h1v1h-1zM199 245h5v1h-5zM205 245h43v1h-43zM249 245h3v1h-3zM253 245h2v1h-2zM256 245h2v1h-2zM259 245h1v1h-1zM261 245h1v1h-1zM264 245h1v1h-1zM266 245h1v1h-1zM268 245h1v1h-1zM277 245h1v1h-1zM281 245h1v1h-1zM283 245h1v1h-1zM285 245h1v1h-1zM288 245h1v1h-1zM292 245h1v1h-1zM296 245h1v1h-1zM303 245h1v1h-1zM197 246h2v1h-2zM200 246h1v1h-1zM202 246h3v1h-3zM206 246h6v1h-6zM213 246h33v1h-33zM247 246h2v1h-2zM250 246h3v1h-3zM256 246h3v1h-3zM261 246h3v1h-3zM265 246h1v1h-1zM267 246h2v1h-2zM270 246h1v1h-1zM276 246h1v1h-1zM280 246h1v1h-1zM283 246h1v1h-1zM292 246h1v1h-1zM296 246h1v1h-1zM298 246h1v1h-1zM195 247h1v1h-1zM197 247h1v1h-1zM199 247h7v1h-7zM207 247h42v1h-42zM250 247h2v1h-2zM253 247h6v1h-6zM260 247h1v1h-1zM264 247h1v1h-1zM267 247h2v1h-2zM271 247h1v1h-1zM273 247h1v1h-1zM276 247h1v1h-1zM287 247h1v1h-1zM308 247h1v1h-1zM197 248h1v1h-1zM199 248h6v1h-6zM206 248h1v1h-1zM209 248h1v1h-1zM211 248h37v1h-37zM250 248h2v1h-2zM253 248h1v1h-1zM257 248h1v1h-1zM260 248h1v1h-1zM263 248h1v1h-1zM265 248h2v1h-2zM268 248h2v1h-2zM271 248h1v1h-1zM275 248h1v1h-1zM291 248h2v1h-2zM299 248h1v1h-1zM302 248h1v1h-1zM195 249h2v1h-2zM199 249h1v1h-1zM201 249h2v1h-2zM204 249h2v1h-2zM207 249h8v1h-8zM216 249h32v1h-32zM253 249h4v1h-4zM258 249h1v1h-1zM265 249h2v1h-2zM272 249h1v1h-1zM284 249h1v1h-1zM290 249h2v1h-2zM197 250h53v1h-53zM251 250h1v1h-1zM254 250h1v1h-1zM258 250h1v1h-1zM260 250h2v1h-2zM264 250h2v1h-2zM270 250h1v1h-1zM274 250h1v1h-1zM276 250h2v1h-2zM279 250h1v1h-1zM285 250h1v1h-1zM198 251h1v1h-1zM201 251h4v1h-4zM207 251h41v1h-41zM249 251h4v1h-4zM255 251h1v1h-1zM260 251h2v1h-2zM272 251h2v1h-2zM279 251h1v1h-1zM196 252h2v1h-2zM199 252h6v1h-6zM207 252h2v1h-2zM210 252h37v1h-37zM248 252h2v1h-2zM251 252h2v1h-2zM261 252h1v1h-1zM267 252h2v1h-2zM270 252h1v1h-1zM284 252h1v1h-1zM287 252h1v1h-1zM295 252h1v1h-1zM304 252h1v1h-1zM196 253h3v1h-3zM200 253h1v1h-1zM202 253h2v1h-2zM205 253h1v1h-1zM208 253h2v1h-2zM211 253h7v1h-7zM219 253h31v1h-31zM255 253h1v1h-1zM258 253h1v1h-1zM274 253h1v1h-1zM276 253h1v1h-1zM282 253h2v1h-2zM292 253h1v1h-1zM301 253h1v1h-1zM195 254h1v1h-1zM197 254h3v1h-3zM201 254h2v1h-2zM204 254h1v1h-1zM206 254h4v1h-4zM211 254h2v1h-2zM214 254h3v1h-3zM218 254h35v1h-35zM256 254h2v1h-2zM264 254h1v1h-1zM279 254h1v1h-1zM293 254h1v1h-1zM300 254h1v1h-1zM310 254h1v1h-1zM195 255h2v1h-2zM198 255h5v1h-5zM204 255h2v1h-2zM207 255h3v1h-3zM211 255h11v1h-11zM223 255h26v1h-26zM250 255h2v1h-2zM258 255h1v1h-1zM270 255h1v1h-1zM273 255h1v1h-1zM291 255h1v1h-1zM294 255h1v1h-1zM299 255h1v1h-1zM195 256h2v1h-2zM198 256h1v1h-1zM200 256h2v1h-2zM203 256h1v1h-1zM206 256h4v1h-4zM211 256h33v1h-33zM245 256h3v1h-3zM249 256h1v1h-1zM254 256h1v1h-1zM261 256h1v1h-1zM284 256h1v1h-1zM295 256h1v1h-1zM195 257h1v1h-1zM200 257h2v1h-2zM203 257h4v1h-4zM211 257h4v1h-4zM216 257h17v1h-17zM234 257h12v1h-12zM247 257h3v1h-3zM251 257h1v1h-1zM259 257h1v1h-1zM279 257h2v1h-2zM282 257h1v1h-1zM196 258h1v1h-1zM202 258h9v1h-9zM214 258h3v1h-3zM218 258h17v1h-17zM236 258h12v1h-12zM249 258h3v1h-3zM253 258h1v1h-1zM257 258h1v1h-1zM263 258h1v1h-1zM274 258h1v1h-1zM195 259h4v1h-4zM200 259h4v1h-4zM206 259h3v1h-3zM210 259h4v1h-4zM215 259h6v1h-6zM222 259h9v1h-9zM232 259h13v1h-13zM246 259h4v1h-4zM254 259h1v1h-1zM256 259h1v1h-1zM259 259h1v1h-1zM263 259h1v1h-1zM291 259h1v1h-1zM294 259h1v1h-1zM195 260h4v1h-4zM200 260h1v1h-1zM202 260h19v1h-19zM222 260h7v1h-7zM230 260h18v1h-18zM251 260h2v1h-2zM258 260h1v1h-1zM266 260h1v1h-1zM269 260h2v1h-2zM280 260h1v1h-1zM286 260h1v1h-1zM328 260h1v1h-1zM195 261h1v1h-1zM197 261h2v1h-2zM201 261h3v1h-3zM206 261h14v1h-14zM221 261h9v1h-9zM231 261h1v1h-1zM233 261h7v1h-7zM241 261h3v1h-3zM245 261h4v1h-4zM252 261h1v1h-1zM255 261h3v1h-3zM262 261h1v1h-1zM264 261h1v1h-1zM269 261h1v1h-1zM285 261h1v1h-1zM293 261h2v1h-2zM195 262h1v1h-1zM197 262h1v1h-1zM200 262h2v1h-2zM204 262h3v1h-3zM210 262h1v1h-1zM213 262h5v1h-5zM219 262h6v1h-6zM226 262h5v1h-5zM232 262h7v1h-7zM240 262h1v1h-1zM244 262h3v1h-3zM248 262h4v1h-4zM255 262h1v1h-1zM195 263h1v1h-1zM197 263h3v1h-3zM202 263h3v1h-3zM208 263h19v1h-19zM228 263h7v1h-7zM236 263h5v1h-5zM242 263h3v1h-3zM246 263h1v1h-1zM250 263h5v1h-5zM198 264h1v1h-1zM200 264h1v1h-1zM203 264h3v1h-3zM207 264h2v1h-2zM210 264h7v1h-7zM218 264h12v1h-12zM231 264h3v1h-3zM235 264h5v1h-5zM241 264h2v1h-2zM244 264h3v1h-3zM248 264h1v1h-1zM250 264h1v1h-1zM253 264h1v1h-1zM258 264h1v1h-1zM260 264h2v1h-2zM263 264h1v1h-1zM284 264h1v1h-1zM195 265h1v1h-1zM197 265h4v1h-4zM203 265h7v1h-7zM211 265h1v1h-1zM216 265h4v1h-4zM221 265h4v1h-4zM226 265h8v1h-8zM235 265h2v1h-2zM238 265h1v1h-1zM241 265h1v1h-1zM243 265h2v1h-2zM246 265h1v1h-1zM248 265h1v1h-1zM250 265h2v1h-2zM254 265h3v1h-3zM258 265h2v1h-2zM262 265h1v1h-1zM266 265h1v1h-1zM279 265h1v1h-1zM197 266h4v1h-4zM202 266h1v1h-1zM205 266h2v1h-2zM208 266h3v1h-3zM213 266h1v1h-1zM215 266h3v1h-3zM219 266h2v1h-2zM222 266h9v1h-9zM233 266h10v1h-10zM244 266h6v1h-6zM251 266h1v1h-1zM254 266h1v1h-1zM259 266h1v1h-1zM262 266h1v1h-1zM283 266h1v1h-1zM286 266h1v1h-1zM197 267h1v1h-1zM199 267h6v1h-6zM206 267h9v1h-9zM216 267h3v1h-3zM220 267h8v1h-8zM229 267h6v1h-6zM236 267h13v1h-13zM257 267h2v1h-2zM261 267h1v1h-1zM197 268h2v1h-2zM200 268h7v1h-7zM208 268h4v1h-4zM215 268h2v1h-2zM218 268h3v1h-3zM222 268h4v1h-4zM227 268h7v1h-7zM235 268h1v1h-1zM238 268h8v1h-8zM247 268h2v1h-2zM259 268h1v1h-1zM270 268h1v1h-1zM196 269h4v1h-4zM201 269h1v1h-1zM203 269h1v1h-1zM206 269h7v1h-7zM214 269h6v1h-6zM221 269h3v1h-3zM225 269h13v1h-13zM239 269h1v1h-1zM241 269h4v1h-4zM246 269h2v1h-2zM251 269h2v1h-2zM258 269h1v1h-1zM261 269h1v1h-1zM263 269h1v1h-1zM295 269h1v1h-1zM197 270h2v1h-2zM201 270h3v1h-3zM205 270h4v1h-4zM210 270h3v1h-3zM214 270h2v1h-2zM217 270h1v1h-1zM219 270h6v1h-6zM226 270h1v1h-1zM228 270h5v1h-5zM234 270h6v1h-6zM241 270h1v1h-1zM243 270h3v1h-3zM247 270h1v1h-1zM249 270h2v1h-2zM252 270h1v1h-1zM259 270h1v1h-1zM262 270h1v1h-1zM269 270h1v1h-1zM271 270h1v1h-1zM279 270h1v1h-1zM287 270h1v1h-1zM297 270h1v1h-1zM195 271h2v1h-2zM198 271h1v1h-1zM200 271h1v1h-1zM202 271h7v1h-7zM210 271h1v1h-1zM213 271h9v1h-9zM223 271h1v1h-1zM225 271h2v1h-2zM228 271h4v1h-4zM233 271h5v1h-5zM239 271h4v1h-4zM244 271h4v1h-4zM249 271h1v1h-1zM256 271h1v1h-1zM266 271h1v1h-1zM268 271h1v1h-1zM290 271h1v1h-1zM299 271h1v1h-1zM301 271h1v1h-1zM195 272h1v1h-1zM201 272h2v1h-2zM204 272h4v1h-4zM209 272h5v1h-5zM215 272h4v1h-4zM220 272h3v1h-3zM224 272h13v1h-13zM239 272h1v1h-1zM241 272h9v1h-9zM251 272h2v1h-2zM255 272h1v1h-1zM263 272h1v1h-1zM265 272h1v1h-1zM283 272h1v1h-1zM292 272h1v1h-1zM301 272h1v1h-1zM199 273h1v1h-1zM201 273h2v1h-2zM204 273h14v1h-14zM219 273h4v1h-4zM224 273h8v1h-8zM234 273h8v1h-8zM243 273h2v1h-2zM246 273h3v1h-3zM253 273h2v1h-2zM263 273h2v1h-2zM266 273h1v1h-1zM269 273h1v1h-1zM281 273h1v1h-1zM197 274h3v1h-3zM204 274h2v1h-2zM207 274h1v1h-1zM209 274h5v1h-5zM215 274h14v1h-14zM230 274h12v1h-12zM243 274h4v1h-4zM248 274h4v1h-4zM254 274h1v1h-1zM261 274h1v1h-1zM263 274h1v1h-1zM265 274h1v1h-1zM290 274h1v1h-1zM312 274h1v1h-1zM196 275h3v1h-3zM200 275h3v1h-3zM207 275h4v1h-4zM214 275h4v1h-4zM219 275h4v1h-4zM224 275h6v1h-6zM232 275h4v1h-4zM237 275h3v1h-3zM241 275h5v1h-5zM247 275h2v1h-2zM250 275h2v1h-2zM259 275h2v1h-2zM276 275h1v1h-1zM282 275h1v1h-1zM307 275h1v1h-1zM196 276h3v1h-3zM201 276h2v1h-2zM205 276h4v1h-4zM210 276h4v1h-4zM215 276h3v1h-3zM219 276h26v1h-26zM246 276h3v1h-3zM250 276h2v1h-2zM254 276h2v1h-2zM257 276h1v1h-1zM259 276h2v1h-2zM263 276h1v1h-1zM266 276h1v1h-1zM271 276h1v1h-1zM274 276h1v1h-1zM282 276h2v1h-2zM286 276h1v1h-1zM288 276h2v1h-2zM301 276h1v1h-1zM305 276h1v1h-1zM195 277h2v1h-2zM200 277h1v1h-1zM202 277h2v1h-2zM205 277h4v1h-4zM210 277h1v1h-1zM214 277h7v1h-7zM223 277h1v1h-1zM226 277h9v1h-9zM236 277h6v1h-6zM243 277h4v1h-4zM248 277h1v1h-1zM250 277h1v1h-1zM252 277h1v1h-1zM257 277h2v1h-2zM260 277h1v1h-1zM263 277h1v1h-1zM276 277h1v1h-1zM279 277h1v1h-1zM293 277h1v1h-1zM306 277h1v1h-1zM197 278h4v1h-4zM202 278h5v1h-5zM208 278h2v1h-2zM211 278h3v1h-3zM215 278h14v1h-14zM231 278h2v1h-2zM234 278h2v1h-2zM237 278h2v1h-2zM240 278h1v1h-1zM243 278h7v1h-7zM257 278h1v1h-1zM260 278h1v1h-1zM265 278h1v1h-1zM271 278h1v1h-1zM275 278h3v1h-3zM287 278h1v1h-1zM302 278h1v1h-1zM305 278h1v1h-1zM198 279h1v1h-1zM202 279h1v1h-1zM204 279h3v1h-3zM208 279h2v1h-2zM211 279h2v1h-2zM214 279h2v1h-2zM218 279h7v1h-7zM226 279h16v1h-16zM243 279h1v1h-1zM245 279h4v1h-4zM253 279h1v1h-1zM257 279h1v1h-1zM272 279h1v1h-1zM275 279h1v1h-1zM281 279h1v1h-1zM286 279h1v1h-1zM200 280h1v1h-1zM202 280h4v1h-4zM208 280h6v1h-6zM215 280h6v1h-6zM222 280h6v1h-6zM229 280h15v1h-15zM245 280h3v1h-3zM249 280h2v1h-2zM254 280h1v1h-1zM257 280h1v1h-1zM263 280h2v1h-2zM269 280h1v1h-1zM276 280h1v1h-1zM279 280h1v1h-1zM281 280h1v1h-1zM285 280h2v1h-2zM294 280h1v1h-1zM301 280h1v1h-1zM305 280h1v1h-1zM307 280h1v1h-1zM326 280h1v1h-1zM195 281h4v1h-4zM201 281h2v1h-2zM205 281h3v1h-3zM209 281h1v1h-1zM211 281h12v1h-12zM224 281h12v1h-12zM237 281h11v1h-11zM251 281h2v1h-2zM257 281h1v1h-1zM259 281h1v1h-1zM261 281h1v1h-1zM265 281h1v1h-1zM267 281h1v1h-1zM274 281h2v1h-2zM277 281h2v1h-2zM280 281h1v1h-1zM295 281h1v1h-1zM196 282h1v1h-1zM200 282h1v1h-1zM202 282h3v1h-3zM207 282h4v1h-4zM212 282h6v1h-6zM219 282h10v1h-10zM230 282h16v1h-16zM248 282h4v1h-4zM253 282h1v1h-1zM255 282h1v1h-1zM262 282h4v1h-4zM269 282h1v1h-1zM278 282h1v1h-1zM287 282h1v1h-1zM296 282h2v1h-2zM300 282h1v1h-1zM195 283h1v1h-1zM198 283h6v1h-6zM205 283h5v1h-5zM211 283h26v1h-26zM238 283h8v1h-8zM247 283h3v1h-3zM254 283h1v1h-1zM268 283h2v1h-2zM274 283h1v1h-1zM284 283h2v1h-2zM289 283h1v1h-1zM293 283h1v1h-1zM308 283h1v1h-1zM196 284h1v1h-1zM198 284h4v1h-4zM204 284h18v1h-18zM223 284h18v1h-18zM242 284h4v1h-4zM247 284h1v1h-1zM249 284h2v1h-2zM252 284h1v1h-1zM254 284h1v1h-1zM257 284h2v1h-2zM260 284h4v1h-4zM267 284h1v1h-1zM279 284h1v1h-1zM281 284h2v1h-2zM286 284h1v1h-1zM195 285h2v1h-2zM198 285h1v1h-1zM200 285h8v1h-8zM209 285h6v1h-6zM216 285h28v1h-28zM245 285h4v1h-4zM251 285h1v1h-1zM254 285h1v1h-1zM260 285h1v1h-1zM263 285h2v1h-2zM267 285h1v1h-1zM275 285h2v1h-2zM281 285h3v1h-3zM289 285h1v1h-1zM296 285h1v1h-1zM305 285h1v1h-1zM316 285h1v1h-1zM195 286h3v1h-3zM199 286h4v1h-4zM206 286h4v1h-4zM211 286h24v1h-24zM236 286h9v1h-9zM246 286h2v1h-2zM250 286h2v1h-2zM253 286h2v1h-2zM259 286h1v1h-1zM263 286h1v1h-1zM265 286h1v1h-1zM267 286h1v1h-1zM270 286h1v1h-1zM279 286h1v1h-1zM284 286h2v1h-2zM290 286h1v1h-1zM312 286h1v1h-1zM315 286h1v1h-1zM318 286h1v1h-1zM195 287h3v1h-3zM199 287h8v1h-8zM208 287h5v1h-5zM214 287h30v1h-30zM245 287h1v1h-1zM248 287h1v1h-1zM250 287h3v1h-3zM254 287h2v1h-2zM258 287h6v1h-6zM265 287h2v1h-2zM271 287h1v1h-1zM274 287h1v1h-1zM279 287h1v1h-1zM288 287h2v1h-2zM292 287h2v1h-2zM295 287h1v1h-1zM302 287h2v1h-2zM314 287h1v1h-1zM195 288h1v1h-1zM197 288h1v1h-1zM199 288h12v1h-12zM212 288h30v1h-30zM243 288h3v1h-3zM247 288h2v1h-2zM250 288h2v1h-2zM253 288h1v1h-1zM256 288h1v1h-1zM259 288h1v1h-1zM263 288h1v1h-1zM265 288h3v1h-3zM271 288h2v1h-2zM277 288h1v1h-1zM284 288h1v1h-1zM286 288h3v1h-3zM290 288h3v1h-3zM305 288h1v1h-1zM196 289h11v1h-11zM208 289h39v1h-39zM248 289h1v1h-1zM252 289h1v1h-1zM254 289h1v1h-1zM256 289h1v1h-1zM260 289h1v1h-1zM262 289h2v1h-2zM268 289h1v1h-1zM278 289h1v1h-1zM283 289h1v1h-1zM285 289h4v1h-4zM292 289h1v1h-1zM298 289h1v1h-1zM300 289h1v1h-1zM303 289h1v1h-1zM315 289h2v1h-2zM325 289h1v1h-1zM328 289h1v1h-1zM195 290h2v1h-2zM198 290h1v1h-1zM201 290h1v1h-1zM204 290h3v1h-3zM209 290h43v1h-43zM253 290h3v1h-3zM257 290h3v1h-3zM264 290h2v1h-2zM268 290h3v1h-3zM272 290h8v1h-8zM281 290h1v1h-1zM285 290h2v1h-2zM288 290h2v1h-2zM293 290h1v1h-1zM296 290h4v1h-4zM305 290h3v1h-3zM195 291h2v1h-2zM198 291h3v1h-3zM203 291h1v1h-1zM205 291h46v1h-46zM252 291h1v1h-1zM255 291h1v1h-1zM257 291h1v1h-1zM259 291h2v1h-2zM262 291h1v1h-1zM265 291h1v1h-1zM271 291h1v1h-1zM273 291h1v1h-1zM276 291h1v1h-1zM280 291h4v1h-4zM285 291h2v1h-2zM290 291h1v1h-1zM295 291h1v1h-1zM300 291h1v1h-1zM303 291h1v1h-1zM308 291h1v1h-1zM314 291h1v1h-1zM316 291h1v1h-1zM195 292h3v1h-3zM199 292h2v1h-2zM202 292h42v1h-42zM245 292h5v1h-5zM251 292h3v1h-3zM255 292h1v1h-1zM258 292h3v1h-3zM262 292h1v1h-1zM267 292h1v1h-1zM269 292h6v1h-6zM282 292h1v1h-1zM284 292h1v1h-1zM291 292h3v1h-3zM297 292h1v1h-1zM321 292h1v1h-1zM327 292h1v1h-1zM195 293h2v1h-2zM200 293h49v1h-49zM250 293h1v1h-1zM252 293h1v1h-1zM256 293h2v1h-2zM263 293h5v1h-5zM269 293h1v1h-1zM272 293h1v1h-1zM274 293h4v1h-4zM279 293h2v1h-2zM282 293h1v1h-1zM289 293h9v1h-9zM304 293h1v1h-1zM312 293h2v1h-2zM323 293h1v1h-1zM195 294h1v1h-1zM198 294h3v1h-3zM203 294h43v1h-43zM247 294h5v1h-5zM259 294h2v1h-2zM262 294h1v1h-1zM267 294h1v1h-1zM270 294h2v1h-2zM273 294h1v1h-1zM275 294h1v1h-1zM278 294h2v1h-2zM281 294h3v1h-3zM285 294h2v1h-2zM288 294h1v1h-1zM290 294h1v1h-1zM292 294h1v1h-1zM295 294h1v1h-1zM307 294h1v1h-1zM311 294h1v1h-1zM313 294h1v1h-1zM317 294h1v1h-1zM195 295h7v1h-7zM203 295h47v1h-47zM251 295h4v1h-4zM258 295h2v1h-2zM261 295h1v1h-1zM263 295h2v1h-2zM266 295h3v1h-3zM271 295h1v1h-1zM274 295h1v1h-1zM280 295h1v1h-1zM283 295h1v1h-1zM286 295h1v1h-1zM288 295h1v1h-1zM290 295h1v1h-1zM294 295h1v1h-1zM297 295h1v1h-1zM299 295h1v1h-1zM309 295h2v1h-2zM312 295h2v1h-2zM317 295h1v1h-1zM327 295h1v1h-1zM195 296h2v1h-2zM198 296h6v1h-6zM205 296h53v1h-53zM260 296h1v1h-1zM263 296h1v1h-1zM268 296h2v1h-2zM273 296h3v1h-3zM277 296h1v1h-1zM279 296h1v1h-1zM281 296h2v1h-2zM284 296h3v1h-3zM289 296h3v1h-3zM293 296h3v1h-3zM297 296h1v1h-1zM300 296h1v1h-1zM306 296h1v1h-1zM310 296h1v1h-1zM312 296h2v1h-2zM315 296h1v1h-1zM195 297h3v1h-3zM199 297h1v1h-1zM201 297h2v1h-2zM204 297h46v1h-46zM251 297h4v1h-4zM256 297h1v1h-1zM258 297h1v1h-1zM261 297h1v1h-1zM264 297h1v1h-1zM268 297h1v1h-1zM270 297h1v1h-1zM272 297h3v1h-3zM276 297h4v1h-4zM283 297h1v1h-1zM296 297h1v1h-1zM298 297h2v1h-2zM302 297h2v1h-2zM306 297h1v1h-1zM310 297h1v1h-1zM315 297h1v1h-1zM195 298h1v1h-1zM197 298h3v1h-3zM202 298h50v1h-50zM254 298h5v1h-5zM260 298h3v1h-3zM268 298h1v1h-1zM270 298h2v1h-2zM274 298h1v1h-1zM278 298h2v1h-2zM282 298h1v1h-1zM285 298h1v1h-1zM287 298h1v1h-1zM292 298h2v1h-2zM297 298h1v1h-1zM304 298h1v1h-1zM306 298h1v1h-1zM308 298h2v1h-2zM312 298h2v1h-2zM318 298h2v1h-2zM195 299h3v1h-3zM200 299h1v1h-1zM202 299h50v1h-50zM254 299h2v1h-2zM257 299h1v1h-1zM263 299h2v1h-2zM267 299h1v1h-1zM269 299h1v1h-1zM273 299h1v1h-1zM275 299h2v1h-2zM279 299h1v1h-1zM284 299h1v1h-1zM286 299h1v1h-1zM288 299h1v1h-1zM293 299h6v1h-6zM300 299h3v1h-3zM304 299h2v1h-2zM308 299h1v1h-1zM310 299h1v1h-1zM314 299h1v1h-1zM195 300h1v1h-1zM197 300h4v1h-4zM202 300h49v1h-49zM253 300h1v1h-1zM255 300h1v1h-1zM257 300h2v1h-2zM265 300h1v1h-1zM268 300h2v1h-2zM272 300h1v1h-1zM275 300h4v1h-4zM282 300h1v1h-1zM284 300h1v1h-1zM287 300h3v1h-3zM291 300h1v1h-1zM294 300h2v1h-2zM301 300h1v1h-1zM303 300h1v1h-1zM308 300h3v1h-3zM312 300h1v1h-1zM316 300h1v1h-1zM328 300h1v1h-1zM336 300h1v1h-1zM199 301h1v1h-1zM201 301h1v1h-1zM203 301h46v1h-46zM250 301h8v1h-8zM259 301h1v1h-1zM263 301h2v1h-2zM267 301h4v1h-4zM272 301h2v1h-2zM276 301h8v1h-8zM285 301h3v1h-3zM291 301h3v1h-3zM299 301h1v1h-1zM307 301h1v1h-1zM320 301h1v1h-1zM195 302h1v1h-1zM197 302h2v1h-2zM200 302h2v1h-2zM203 302h50v1h-50zM255 302h6v1h-6zM263 302h4v1h-4zM270 302h1v1h-1zM272 302h1v1h-1zM274 302h1v1h-1zM276 302h1v1h-1zM278 302h1v1h-1zM281 302h2v1h-2zM284 302h1v1h-1zM286 302h5v1h-5zM292 302h3v1h-3zM296 302h2v1h-2zM301 302h1v1h-1zM195 303h55v1h-55zM251 303h1v1h-1zM253 303h3v1h-3zM257 303h1v1h-1zM259 303h2v1h-2zM262 303h2v1h-2zM266 303h2v1h-2zM271 303h1v1h-1zM273 303h2v1h-2zM276 303h2v1h-2zM281 303h6v1h-6zM288 303h1v1h-1zM290 303h1v1h-1zM293 303h5v1h-5zM300 303h2v1h-2zM305 303h1v1h-1zM312 303h1v1h-1zM195 304h1v1h-1zM197 304h56v1h-56zM254 304h1v1h-1zM257 304h1v1h-1zM260 304h1v1h-1zM262 304h7v1h-7zM270 304h3v1h-3zM275 304h1v1h-1zM277 304h1v1h-1zM279 304h2v1h-2zM282 304h3v1h-3zM286 304h1v1h-1zM290 304h2v1h-2zM294 304h1v1h-1zM297 304h1v1h-1zM299 304h1v1h-1zM304 304h2v1h-2zM308 304h1v1h-1zM310 304h1v1h-1zM312 304h1v1h-1zM315 304h1v1h-1zM323 304h1v1h-1zM195 305h3v1h-3zM199 305h54v1h-54zM255 305h4v1h-4zM260 305h2v1h-2zM263 305h4v1h-4zM269 305h2v1h-2zM273 305h2v1h-2zM278 305h3v1h-3zM282 305h1v1h-1zM284 305h6v1h-6zM291 305h1v1h-1zM294 305h1v1h-1zM297 305h2v1h-2zM307 305h2v1h-2zM319 305h1v1h-1zM196 306h54v1h-54zM251 306h2v1h-2zM256 306h2v1h-2zM259 306h2v1h-2zM262 306h5v1h-5zM270 306h1v1h-1zM273 306h6v1h-6zM280 306h3v1h-3zM284 306h1v1h-1zM286 306h2v1h-2zM293 306h2v1h-2zM299 306h1v1h-1zM301 306h1v1h-1zM305 306h1v1h-1zM311 306h1v1h-1zM313 306h1v1h-1zM336 306h1v1h-1zM196 307h2v1h-2zM200 307h49v1h-49zM252 307h6v1h-6zM262 307h6v1h-6zM271 307h2v1h-2zM274 307h3v1h-3zM278 307h2v1h-2zM281 307h1v1h-1zM285 307h5v1h-5zM293 307h1v1h-1zM295 307h3v1h-3zM302 307h3v1h-3zM310 307h1v1h-1zM322 307h1v1h-1zM198 308h3v1h-3zM203 308h45v1h-45zM249 308h7v1h-7zM257 308h2v1h-2zM260 308h2v1h-2zM263 308h6v1h-6zM271 308h3v1h-3zM275 308h2v1h-2zM282 308h2v1h-2zM286 308h1v1h-1zM289 308h1v1h-1zM291 308h1v1h-1zM293 308h1v1h-1zM296 308h1v1h-1zM298 308h3v1h-3zM302 308h1v1h-1zM305 308h1v1h-1zM309 308h1v1h-1zM311 308h1v1h-1zM318 308h1v1h-1zM196 309h4v1h-4zM201 309h53v1h-53zM255 309h1v1h-1zM259 309h1v1h-1zM262 309h9v1h-9zM273 309h1v1h-1zM276 309h1v1h-1zM280 309h6v1h-6zM288 309h1v1h-1zM292 309h1v1h-1zM298 309h2v1h-2zM302 309h3v1h-3zM322 309h1v1h-1zM331 309h1v1h-1zM195 310h60v1h-60zM258 310h4v1h-4zM263 310h3v1h-3zM268 310h8v1h-8zM278 310h3v1h-3zM283 310h1v1h-1zM285 310h2v1h-2zM291 310h1v1h-1zM296 310h4v1h-4zM301 310h2v1h-2zM307 310h3v1h-3zM315 310h1v1h-1zM324 310h1v1h-1zM335 310h1v1h-1zM196 311h1v1h-1zM198 311h58v1h-58zM259 311h1v1h-1zM261 311h7v1h-7zM270 311h2v1h-2zM280 311h2v1h-2zM285 311h1v1h-1zM287 311h1v1h-1zM289 311h1v1h-1zM291 311h4v1h-4zM298 311h1v1h-1zM300 311h1v1h-1zM308 311h1v1h-1zM310 311h2v1h-2zM315 311h2v1h-2zM195 312h4v1h-4zM200 312h51v1h-51zM252 312h1v1h-1zM254 312h3v1h-3zM258 312h1v1h-1zM260 312h2v1h-2zM266 312h2v1h-2zM273 312h1v1h-1zM275 312h2v1h-2zM286 312h1v1h-1zM288 312h1v1h-1zM292 312h1v1h-1zM294 312h5v1h-5zM300 312h3v1h-3zM304 312h1v1h-1zM314 312h1v1h-1zM195 313h1v1h-1zM197 313h2v1h-2zM201 313h56v1h-56zM260 313h2v1h-2zM266 313h2v1h-2zM270 313h5v1h-5zM276 313h1v1h-1zM278 313h4v1h-4zM283 313h1v1h-1zM285 313h1v1h-1zM288 313h1v1h-1zM292 313h1v1h-1zM296 313h1v1h-1zM305 313h1v1h-1zM308 313h1v1h-1zM312 313h1v1h-1zM315 313h1v1h-1zM195 314h54v1h-54zM251 314h3v1h-3zM256 314h5v1h-5zM263 314h2v1h-2zM266 314h1v1h-1zM268 314h1v1h-1zM271 314h2v1h-2zM274 314h1v1h-1zM276 314h1v1h-1zM284 314h1v1h-1zM290 314h1v1h-1zM293 314h3v1h-3zM301 314h1v1h-1zM303 314h3v1h-3zM197 315h2v1h-2zM200 315h47v1h-47zM248 315h3v1h-3zM257 315h3v1h-3zM261 315h1v1h-1zM265 315h1v1h-1zM269 315h5v1h-5zM276 315h2v1h-2zM279 315h4v1h-4zM287 315h2v1h-2zM293 315h1v1h-1zM297 315h1v1h-1zM308 315h1v1h-1zM196 316h2v1h-2zM199 316h3v1h-3zM203 316h45v1h-45zM250 316h1v1h-1zM253 316h1v1h-1zM255 316h2v1h-2zM258 316h3v1h-3zM262 316h1v1h-1zM264 316h1v1h-1zM266 316h2v1h-2zM270 316h2v1h-2zM274 316h1v1h-1zM276 316h2v1h-2zM280 316h2v1h-2zM286 316h4v1h-4zM294 316h1v1h-1zM296 316h1v1h-1zM300 316h1v1h-1zM303 316h1v1h-1zM305 316h2v1h-2zM314 316h1v1h-1zM323 316h1v1h-1zM195 317h51v1h-51zM247 317h1v1h-1zM249 317h2v1h-2zM252 317h2v1h-2zM255 317h2v1h-2zM259 317h4v1h-4zM269 317h1v1h-1zM271 317h3v1h-3zM277 317h1v1h-1zM279 317h2v1h-2zM282 317h1v1h-1zM285 317h1v1h-1zM287 317h1v1h-1zM295 317h2v1h-2zM298 317h2v1h-2zM301 317h1v1h-1zM310 317h1v1h-1zM197 318h6v1h-6zM205 318h47v1h-47zM254 318h1v1h-1zM261 318h1v1h-1zM265 318h2v1h-2zM270 318h1v1h-1zM274 318h1v1h-1zM276 318h1v1h-1zM279 318h1v1h-1zM282 318h2v1h-2zM292 318h1v1h-1zM300 318h1v1h-1zM306 318h1v1h-1zM195 319h3v1h-3zM199 319h1v1h-1zM203 319h3v1h-3zM207 319h41v1h-41zM249 319h3v1h-3zM253 319h1v1h-1zM255 319h1v1h-1zM259 319h1v1h-1zM263 319h2v1h-2zM267 319h1v1h-1zM269 319h3v1h-3zM273 319h2v1h-2zM277 319h4v1h-4zM283 319h1v1h-1zM285 319h1v1h-1zM287 319h1v1h-1zM293 319h1v1h-1zM298 319h1v1h-1zM305 319h1v1h-1zM308 319h3v1h-3zM195 320h1v1h-1zM197 320h5v1h-5zM203 320h43v1h-43zM247 320h4v1h-4zM253 320h2v1h-2zM258 320h1v1h-1zM260 320h1v1h-1zM262 320h2v1h-2zM266 320h2v1h-2zM269 320h1v1h-1zM274 320h3v1h-3zM281 320h2v1h-2zM290 320h1v1h-1zM302 320h3v1h-3zM321 320h1v1h-1zM195 321h2v1h-2zM198 321h1v1h-1zM200 321h10v1h-10zM211 321h32v1h-32zM244 321h1v1h-1zM247 321h1v1h-1zM250 321h1v1h-1zM252 321h2v1h-2zM261 321h1v1h-1zM263 321h1v1h-1zM271 321h1v1h-1zM273 321h1v1h-1zM275 321h2v1h-2zM278 321h1v1h-1zM280 321h2v1h-2zM283 321h1v1h-1zM288 321h2v1h-2zM291 321h1v1h-1zM294 321h3v1h-3zM298 321h1v1h-1zM311 321h1v1h-1zM313 321h1v1h-1zM197 322h2v1h-2zM200 322h3v1h-3zM204 322h10v1h-10zM215 322h28v1h-28zM244 322h3v1h-3zM248 322h1v1h-1zM250 322h2v1h-2zM253 322h1v1h-1zM257 322h3v1h-3zM268 322h1v1h-1zM273 322h1v1h-1zM277 322h2v1h-2zM281 322h1v1h-1zM283 322h1v1h-1zM287 322h1v1h-1zM289 322h2v1h-2zM303 322h1v1h-1zM195 323h1v1h-1zM200 323h1v1h-1zM202 323h9v1h-9zM212 323h25v1h-25zM238 323h8v1h-8zM248 323h2v1h-2zM251 323h3v1h-3zM255 323h4v1h-4zM263 323h1v1h-1zM266 323h1v1h-1zM271 323h1v1h-1zM283 323h3v1h-3zM290 323h1v1h-1zM297 323h1v1h-1zM307 323h1v1h-1zM195 324h3v1h-3zM199 324h3v1h-3zM204 324h9v1h-9zM214 324h2v1h-2zM218 324h1v1h-1zM221 324h5v1h-5zM228 324h23v1h-23zM252 324h2v1h-2zM257 324h1v1h-1zM261 324h1v1h-1zM269 324h1v1h-1zM289 324h1v1h-1zM295 324h1v1h-1zM300 324h1v1h-1zM305 324h1v1h-1zM307 324h1v1h-1zM320 324h1v1h-1zM195 325h1v1h-1zM197 325h1v1h-1zM199 325h1v1h-1zM201 325h3v1h-3zM205 325h2v1h-2zM208 325h3v1h-3zM213 325h20v1h-20zM235 325h5v1h-5zM241 325h5v1h-5zM247 325h1v1h-1zM249 325h2v1h-2zM253 325h1v1h-1zM264 325h1v1h-1zM269 325h1v1h-1zM274 325h1v1h-1zM281 325h1v1h-1zM284 325h1v1h-1zM286 325h1v1h-1zM292 325h1v1h-1zM304 325h1v1h-1zM306 325h1v1h-1zM312 325h1v1h-1zM197 326h4v1h-4zM203 326h8v1h-8zM213 326h7v1h-7zM221 326h6v1h-6zM228 326h4v1h-4zM234 326h9v1h-9zM244 326h2v1h-2zM247 326h2v1h-2zM251 326h1v1h-1zM253 326h1v1h-1zM270 326h1v1h-1zM290 326h1v1h-1zM298 326h1v1h-1zM306 326h1v1h-1zM195 327h2v1h-2zM199 327h1v1h-1zM201 327h3v1h-3zM205 327h6v1h-6zM212 327h2v1h-2zM216 327h7v1h-7zM224 327h6v1h-6zM231 327h3v1h-3zM235 327h1v1h-1zM238 327h1v1h-1zM241 327h5v1h-5zM248 327h1v1h-1zM251 327h1v1h-1zM253 327h1v1h-1zM257 327h1v1h-1zM261 327h1v1h-1zM263 327h1v1h-1zM271 327h1v1h-1zM274 327h2v1h-2zM291 327h1v1h-1zM196 328h1v1h-1zM198 328h2v1h-2zM202 328h1v1h-1zM205 328h2v1h-2zM212 328h6v1h-6zM219 328h5v1h-5zM225 328h1v1h-1zM227 328h6v1h-6zM234 328h1v1h-1zM237 328h1v1h-1zM239 328h1v1h-1zM241 328h2v1h-2zM244 328h2v1h-2zM247 328h2v1h-2zM252 328h1v1h-1zM254 328h1v1h-1zM265 328h1v1h-1zM269 328h1v1h-1zM271 328h1v1h-1zM273 328h1v1h-1zM275 328h1v1h-1zM285 328h1v1h-1zM295 328h1v1h-1zM299 328h1v1h-1zM304 328h1v1h-1zM195 329h1v1h-1zM197 329h1v1h-1zM201 329h2v1h-2zM205 329h2v1h-2zM213 329h1v1h-1zM215 329h5v1h-5zM222 329h3v1h-3zM228 329h5v1h-5zM234 329h2v1h-2zM237 329h1v1h-1zM239 329h3v1h-3zM243 329h2v1h-2zM246 329h2v1h-2zM250 329h2v1h-2zM255 329h1v1h-1zM266 329h3v1h-3zM279 329h1v1h-1zM301 329h1v1h-1zM304 329h1v1h-1zM316 329h1v1h-1z" fill="#000" shape-rendering="crispEdges"/>
<path d="M423.6 158.4 422.8 158.5 422.4 158.3 421.9 158.0 421.5 157.6 421.2 157.2 420.8 156.5 420.6 156.0 420.4 155.6 420.1 154.8 420.0 154.4 419.8 153.6 419.6 152.8 419.6 152.4 419.4 151.6 419.3 150.8 419.2 150.2 419.1 149.6 418.9 148.8 418.8 148.4 418.4 147.6 418.1 147.2 417.8 146.8 417.4 146.4 416.8 146.0 416.4 145.8 415.9 145.6 415.2 145.4 414.5 145.2 414.0 145.1 413.2 144.9 412.7 144.8 412.0 144.7 411.2 144.5 410.8 144.4 410.0 144.2 409.4 144.0 408.8 143.8 408.2 143.6 407.6 143.3 407.2 143.1 406.7 142.8 406.2 142.4 405.7 142.0 405.3 141.6 404.9 141.2 404.6 140.8 404.3 140.4 404.0 139.8 403.7 139.2 403.5 138.8 403.3 138.0 403.2 137.6 403.0 136.8 402.9 136.0 402.9 135.2 402.9 134.4 403.1 133.6 403.2 133.1 403.4 132.4 403.6 132.0 404.0 131.2 404.2 130.8 404.5 130.4 404.8 130.0 405.2 129.4 405.6 128.9 406.0 128.4 406.4 128.0 406.7 127.6 407.1 127.2 407.5 126.8 407.9 126.4 408.4 126.0 408.8 125.7 409.2 125.4 409.6 125.1 410.0 124.8 410.7 124.4 411.2 124.1 411.6 123.9 412.2 123.6 412.8 123.3 413.2 123.2 414.0 122.9 414.4 122.7 415.2 122.5 415.7 122.4 416.4 122.3 417.2 122.2 418.0 122.1 418.8 122.1 419.6 122.1 420.4 122.0 420.8 122.0 421.6 121.7 422.0 121.5 422.4 121.2 422.8 120.8 423.2 120.3 423.6 119.7 423.9 119.2 424.1 118.8 424.4 118.1 424.6 117.6 424.8 117.1 425.0 116.4 425.2 116.0 425.4 115.2 425.6 114.6 425.7 114.0 425.9 113.2 426.0 112.6 426.1 112.0 426.2 111.2 426.2 110.4 426.3 109.6 426.3 108.8 426.4 108.0 426.4 107.6 426.5 106.8 426.5 106.0 426.6 105.2 426.7 104.4 426.8 103.6 426.8 103.2 427.0 102.4 427.1 101.6 427.2 101.2 427.4 100.4 427.6 99.7 427.7 99.2 428.0 98.4 428.1 98.0 428.3 97.2 428.4 96.8 428.6 96.0 428.8 95.2 428.8 94.8 429.0 94.0 429.1 93.2 429.1 92.4 429.2 91.8 429.2 91.2 429.3 90.4 429.3 89.6 429.4 88.8 429.5 88.0 429.5 87.2 429.6 86.8 429.7 86.0 429.9 85.2 430.0 84.7 430.2 84.0 430.4 83.4 430.6 82.8 430.8 82.3 431.1 81.6 431.3 81.2 431.6 80.6 431.9 80.0 432.1 79.6 432.4 79.2 432.8 78.6 433.2 78.0 433.5 77.6 433.8 77.2 434.2 76.8 434.6 76.4 435.0 76.0 435.4 75.6 435.9 75.2 436.4 74.8 436.8 74.6 437.2 74.3 437.7 74.0 438.4 73.7 438.8 73.5 439.4 73.2 440.0 72.9 440.4 72.8 441.2 72.6 441.8 72.4 442.4 72.3 443.2 72.1 444.0 72.0 444.8 72.0 444.9 72.0 445.6 72.0 446.4 72.1 447.2 72.2 447.8 72.4 448.4 72.6 449.0 72.8 449.6 73.1 450.0 73.3 450.6 73.6 451.2 74.0 451.6 74.3 452.0 74.6 452.4 74.9 452.8 75.3 453.2 75.7 453.6 76.2 454.0 76.6 454.4 77.1 454.8 77.6 455.0 78.0 455.3 78.4 455.6 78.9 456.0 79.5 456.3 80.0 456.5 80.4 456.8 81.0 457.1 81.6 457.3 82.0 457.6 82.8 457.8 83.2 458.0 83.8 458.2 84.4 458.4 85.1 458.5 85.6 458.7 86.4 458.8 86.8 459.0 87.6 459.1 88.4 459.2 89.2 459.2 89.6 459.3 90.4 459.4 91.2 459.5 92.0 459.5 92.8 459.6 93.6 459.6 94.0 459.7 94.8 459.8 95.6 460.0 96.4 460.0 96.8 460.2 97.6 460.4 98.4 460.5 98.8 460.7 99.6 460.8 100.0 461.0 100.8 461.2 101.5 461.3 102.0 461.5 102.8 461.6 103.4 461.7 104.0 461.8 104.8 461.9 105.6 461.9 106.4 462.0 107.2 462.0 107.6 462.0 108.4 462.0 109.2 462.0 109.8 462.0 110.4 461.9 111.2 461.9 112.0 461.8 112.8 461.7 113.6 461.7 114.4 461.6 114.9 461.5 115.6 461.4 116.4 461.4 117.2 461.3 118.0 461.2 118.8 461.2 119.2 461.1 120.0 461.1 120.8 461.1 121.6 461.1 122.4 461.1 123.2 461.2 123.8 461.3 124.4 461.6 125.0 462.0 125.5 462.4 125.8 462.8 126.0 463.6 126.4 464.0 126.5 464.8 126.7 465.2 126.8 466.0 127.0 466.5 127.2 467.2 127.4 467.8 127.6 468.4 127.8 468.8 128.0 469.5 128.4 470.0 128.7 470.4 129.0 470.8 129.3 471.2 129.8 471.6 130.4 471.7 130.8 471.6 131.6 471.5 132.0 471.2 132.5 470.8 132.9 470.4 133.2 469.8 133.6 469.2 133.9 468.8 134.0 468.0 134.3 467.5 134.4 466.8 134.6 466.0 134.7 465.2 134.8 464.8 134.8 464.0 134.9 463.2 134.9 462.4 134.9 461.6 135.0 460.8 135.0 460.0 135.2 459.6 135.3 458.8 135.5 458.4 135.7 457.9 136.0 457.4 136.4 456.9 136.8 456.5 137.2 456.1 137.6 455.8 138.0 455.4 138.4 455.0 138.8 454.7 139.2 454.3 139.6 453.9 140.0 453.5 140.4 453.1 140.8 452.7 141.2 452.3 141.6 451.8 142.0 451.3 142.4 450.8 142.7 450.4 143.0 450.0 143.3 449.4 143.6 448.8 143.9 448.4 144.1 447.7 144.4 447.2 144.6 446.6 144.8 446.0 145.0 445.2 145.2 444.8 145.3 444.0 145.5 443.3 145.6 442.8 145.7 442.0 145.9 441.2 146.0 440.8 146.1 440.0 146.2 439.2 146.3 438.4 146.3 437.6 146.3 436.8 146.3 436.0 146.2 435.2 146.1 434.4 146.0 434.0 145.9 433.2 145.8 432.4 145.6 432.0 145.6 431.2 145.5 430.4 145.4 429.6 145.4 428.8 145.6 428.4 145.7 427.9 146.0 427.4 146.4 427.1 146.8 426.8 147.2 426.5 148.0 426.4 148.4 426.2 149.2 426.1 150.0 426.1 150.8 426.0 151.6 426.0 152.0 425.9 152.8 425.9 153.6 425.8 154.4 425.6 155.2 425.5 155.6 425.3 156.4 425.1 156.8 424.8 157.4 424.4 157.9 424.0 158.2 423.6 158.4Z M442.0 143.6 441.2 143.8 440.4 143.8 439.6 143.9 438.8 143.9 438.0 143.8 437.2 143.8 436.4 143.6 436.0 143.5 435.2 143.3 434.8 143.2 434.0 142.9 433.6 142.8 432.8 142.5 432.4 142.3 431.8 142.0 431.2 141.7 430.8 141.6 430.0 141.2 429.6 141.1 428.8 140.8 428.4 140.7 427.6 140.6 426.8 140.6 426.0 140.7 425.6 140.9 424.8 141.2 424.4 141.4 423.9 141.6 423.2 141.8 422.4 141.9 421.6 141.7 421.2 141.6 420.4 141.2 420.0 141.0 419.5 140.8 418.8 140.5 418.4 140.4 417.6 140.1 417.2 140.0 416.4 139.7 416.0 139.6 415.2 139.3 414.8 139.1 414.1 138.8 413.6 138.6 413.2 138.3 412.7 138.0 412.1 137.6 411.7 137.2 411.3 136.8 411.0 136.4 410.7 136.0 410.4 135.4 410.2 134.8 410.1 134.0 410.1 133.2 410.3 132.4 410.5 132.0 410.8 131.5 411.2 130.9 411.6 130.4 412.0 130.0 412.4 129.7 412.8 129.3 413.2 129.1 413.6 128.8 414.3 128.4 414.8 128.1 415.2 128.0 416.0 127.7 416.6 127.6 417.2 127.5 418.0 127.5 418.8 127.5 419.3 127.6 420.0 127.7 420.8 127.8 421.6 127.9 422.4 127.6 422.8 127.4 423.2 127.0 423.6 126.4 423.8 126.0 424.0 125.6 424.4 124.8 424.6 124.4 424.8 123.8 425.0 123.2 425.2 122.7 425.4 122.0 425.6 121.5 425.8 120.8 426.0 120.1 426.1 119.6 426.4 118.8 426.5 118.4 426.7 117.6 426.8 117.2 427.0 116.4 427.2 115.6 427.3 115.2 427.4 114.4 427.5 113.6 427.6 113.0 427.7 112.4 427.7 111.6 427.8 110.8 427.8 110.0 427.9 109.2 427.9 108.4 427.9 107.6 428.0 106.8 428.0 106.4 428.1 105.6 428.1 104.8 428.3 104.0 428.4 103.2 428.5 102.8 428.6 102.0 428.8 101.2 428.9 100.8 429.1 100.0 429.2 99.6 429.4 98.8 429.6 98.2 429.7 97.6 429.9 96.8 430.0 96.4 430.1 95.6 430.3 94.8 430.4 94.0 430.4 93.6 430.5 92.8 430.5 92.0 430.6 91.2 430.6 90.4 430.7 89.6 430.7 88.8 430.8 88.0 430.8 87.6 430.9 86.8 431.1 86.0 431.2 85.5 431.4 84.8 431.6 84.0 431.7 83.6 432.0 82.9 432.2 82.4 432.4 82.0 432.8 81.2 433.0 80.8 433.3 80.4 433.6 79.9 434.0 79.3 434.4 78.8 434.7 78.4 435.1 78.0 435.5 77.6 435.9 77.2 436.4 76.8 436.8 76.5 437.2 76.2 437.6 75.9 438.1 75.6 438.8 75.2 439.2 75.0 439.7 74.8 440.4 74.5 440.8 74.4 441.6 74.1 442.0 74.0 442.8 73.8 443.6 73.7 444.4 73.6 445.2 73.6 446.0 73.6 446.8 73.8 447.6 73.9 448.0 74.1 448.8 74.3 449.2 74.5 449.7 74.8 450.4 75.2 450.8 75.5 451.2 75.8 451.6 76.1 452.0 76.5 452.4 76.9 452.8 77.3 453.2 77.8 453.6 78.3 453.9 78.8 454.2 79.2 454.5 79.6 454.8 80.1 455.2 80.8 455.4 81.2 455.6 81.6 456.0 82.4 456.2 82.8 456.4 83.4 456.6 84.0 456.8 84.6 457.0 85.2 457.2 86.0 457.3 86.4 457.5 87.2 457.6 88.0 457.6 88.4 457.7 89.2 457.8 90.0 457.8 90.8 457.8 91.6 457.9 92.4 457.9 93.2 457.9 94.0 457.9 94.8 457.9 95.6 458.0 96.4 458.0 96.8 458.1 97.6 458.2 98.4 458.3 99.2 458.4 99.6 458.6 100.4 458.7 101.2 458.8 101.6 459.0 102.4 459.1 103.2 459.2 103.6 459.3 104.4 459.5 105.2 459.5 106.0 459.6 106.7 459.6 107.2 459.7 108.0 459.7 108.8 459.7 109.6 459.7 110.4 459.6 111.2 459.6 111.8 459.5 112.4 459.5 113.2 459.4 114.0 459.3 114.8 459.2 115.4 459.1 116.0 459.0 116.8 458.9 117.6 458.9 118.4 458.8 119.2 458.8 119.6 458.8 120.4 458.8 121.2 458.8 122.0 458.8 122.8 458.8 123.6 458.8 124.0 458.9 124.8 459.0 125.6 459.2 126.4 459.3 126.8 459.6 127.5 460.0 128.0 460.4 128.4 460.8 128.6 461.2 128.8 462.0 129.1 462.5 129.2 463.2 129.4 464.0 129.6 464.4 129.7 464.9 130.0 465.4 130.4 465.3 131.2 464.8 131.5 464.4 131.7 463.6 131.9 462.8 131.9 462.0 132.0 461.2 132.0 460.8 132.0 460.0 132.1 459.2 132.4 458.8 132.5 458.3 132.8 457.7 133.2 457.2 133.6 456.8 133.9 456.4 134.3 456.0 134.7 455.6 135.2 455.2 135.6 454.9 136.0 454.5 136.4 454.2 136.8 453.9 137.2 453.5 137.6 453.1 138.0 452.7 138.4 452.3 138.8 451.9 139.2 451.5 139.6 451.0 140.0 450.5 140.4 450.0 140.7 449.6 141.0 449.2 141.3 448.6 141.6 448.0 141.9 447.6 142.1 446.9 142.4 446.4 142.6 445.8 142.8 445.2 143.0 444.4 143.2 444.0 143.3 443.2 143.4 442.4 143.6 442.0 143.6Z M442.0 142.0 441.2 142.1 440.4 142.2 439.6 142.2 438.8 142.2 438.0 142.1 437.4 142.0 436.8 141.9 436.0 141.6 435.6 141.5 434.8 141.2 434.4 141.0 434.0 140.8 433.3 140.4 432.8 140.1 432.4 139.8 432.0 139.5 431.5 139.2 431.1 138.8 430.6 138.4 430.2 138.0 429.8 137.6 429.4 137.2 429.1 136.8 428.8 136.4 428.4 135.9 428.0 135.3 427.7 134.8 427.5 134.4 427.2 133.9 426.9 133.2 426.7 132.8 426.4 132.0 426.3 131.6 426.1 130.8 426.0 130.1 425.9 129.6 425.9 128.8 425.9 128.0 426.0 127.2 426.0 126.8 426.2 126.0 426.3 125.2 426.4 124.8 426.6 124.0 426.8 123.2 426.9 122.8 427.1 122.0 427.2 121.5 427.4 120.8 427.6 120.0 427.7 119.6 427.8 118.8 428.0 118.2 428.1 117.6 428.3 116.8 428.4 116.3 428.5 115.6 428.7 114.8 428.8 114.0 428.8 113.6 428.9 112.8 429.0 112.0 429.0 111.2 429.1 110.4 429.1 109.6 429.1 108.8 429.2 108.0 429.2 107.6 429.2 106.8 429.3 106.0 429.4 105.2 429.5 104.4 429.6 103.6 429.7 103.2 429.8 102.4 430.0 101.6 430.1 101.2 430.3 100.4 430.4 100.0 430.6 99.2 430.8 98.4 430.9 98.0 431.1 97.2 431.2 96.4 431.3 96.0 431.4 95.2 431.4 94.4 431.5 93.6 431.6 92.8 431.6 92.4 431.6 91.6 431.7 90.8 431.7 90.0 431.8 89.2 431.8 88.4 431.9 87.6 432.0 87.1 432.1 86.4 432.3 85.6 432.4 85.2 432.6 84.4 432.8 83.9 433.1 83.2 433.3 82.8 433.6 82.1 433.9 81.6 434.1 81.2 434.4 80.8 434.8 80.2 435.2 79.7 435.6 79.2 436.0 78.8 436.4 78.4 436.8 78.0 437.2 77.7 437.6 77.4 438.0 77.1 438.5 76.8 439.2 76.4 439.6 76.2 440.1 76.0 440.8 75.7 441.2 75.6 442.0 75.3 442.5 75.2 443.2 75.1 444.0 74.9 444.8 74.9 445.6 74.9 446.4 75.0 447.2 75.1 447.6 75.2 448.4 75.5 448.8 75.7 449.4 76.0 450.0 76.4 450.4 76.7 450.8 77.0 451.2 77.3 451.6 77.7 452.0 78.1 452.4 78.6 452.8 79.1 453.2 79.6 453.4 80.0 453.7 80.4 454.0 80.9 454.4 81.6 454.6 82.0 454.8 82.4 455.1 83.2 455.3 83.6 455.6 84.4 455.7 84.8 456.0 85.6 456.1 86.0 456.3 86.8 456.4 87.6 456.5 88.0 456.6 88.8 456.6 89.6 456.6 90.4 456.7 91.2 456.7 92.0 456.6 92.8 456.6 93.6 456.6 94.4 456.6 95.2 456.6 96.0 456.6 96.8 456.6 97.6 456.6 98.4 456.7 99.2 456.7 100.0 456.8 100.6 456.9 101.2 457.0 102.0 457.1 102.8 457.2 103.6 457.2 104.0 457.3 104.8 457.4 105.6 457.5 106.4 457.5 107.2 457.6 108.0 457.6 108.8 457.6 109.6 457.6 110.4 457.5 111.2 457.5 112.0 457.4 112.8 457.3 113.6 457.2 114.4 457.2 114.8 457.1 115.6 457.0 116.4 457.0 117.2 456.9 118.0 456.9 118.8 456.9 119.6 456.9 120.4 457.0 121.2 457.0 122.0 457.0 122.8 457.1 123.6 457.1 124.4 457.1 125.2 457.1 126.0 457.1 126.8 457.1 127.6 457.1 128.4 457.0 129.2 456.8 129.9 456.6 130.4 456.4 130.9 456.0 131.6 455.8 132.0 455.6 132.4 455.2 132.9 454.8 133.5 454.5 134.0 454.2 134.4 453.9 134.8 453.6 135.2 453.2 135.7 452.8 136.2 452.4 136.6 452.0 137.1 451.6 137.5 451.2 137.9 450.8 138.2 450.4 138.6 450.0 138.9 449.6 139.2 449.0 139.6 448.4 140.0 448.0 140.2 447.6 140.4 446.8 140.8 446.4 140.9 445.6 141.2 445.2 141.3 444.4 141.6 444.0 141.7 443.2 141.8 442.4 142.0 442.0 142.0Z M442.8 140.4 442.0 140.5 441.2 140.6 440.4 140.6 439.6 140.6 438.8 140.6 438.0 140.5 437.6 140.4 436.8 140.2 436.2 140.0 435.6 139.8 435.2 139.6 434.5 139.2 434.0 138.9 433.6 138.6 433.2 138.3 432.8 138.0 432.3 137.6 431.9 137.2 431.5 136.8 431.1 136.4 430.8 136.0 430.4 135.5 430.0 135.0 429.6 134.4 429.4 134.0 429.2 133.6 428.8 132.9 428.6 132.4 428.4 132.0 428.1 131.2 428.0 130.8 427.8 130.0 427.6 129.2 427.6 128.8 427.5 128.0 427.5 127.2 427.6 126.4 427.6 126.0 427.8 125.2 427.9 124.4 428.0 123.9 428.1 123.2 428.3 122.4 428.4 122.0 428.6 121.2 428.8 120.4 428.9 120.0 429.1 119.2 429.2 118.6 429.3 118.0 429.5 117.2 429.6 116.7 429.7 116.0 429.9 115.2 430.0 114.4 430.1 114.0 430.1 113.2 430.2 112.4 430.3 111.6 430.3 110.8 430.3 110.0 430.4 109.2 430.4 108.8 430.4 108.0 430.5 107.2 430.5 106.4 430.6 105.6 430.7 104.8 430.8 104.1 430.9 103.6 431.0 102.8 431.2 102.0 431.3 101.6 431.5 100.8 431.6 100.3 431.8 99.6 431.9 98.8 432.0 98.4 432.1 97.6 432.3 96.8 432.4 96.0 432.4 95.6 432.5 94.8 432.5 94.0 432.6 93.2 432.6 92.4 432.6 91.6 432.7 90.8 432.7 90.0 432.8 89.2 432.8 88.8 432.9 88.0 433.0 87.2 433.2 86.4 433.3 86.0 433.5 85.2 433.6 84.8 433.9 84.0 434.1 83.6 434.4 83.0 434.7 82.4 434.9 82.0 435.2 81.6 435.6 81.0 436.0 80.5 436.4 80.0 436.8 79.6 437.2 79.2 437.6 78.9 438.0 78.5 438.4 78.3 438.8 78.0 439.5 77.6 440.0 77.3 440.4 77.2 441.2 76.8 441.6 76.7 442.4 76.5 442.8 76.4 443.6 76.2 444.4 76.1 445.2 76.1 446.0 76.2 446.8 76.3 447.2 76.4 448.0 76.6 448.4 76.8 449.1 77.2 449.6 77.5 450.0 77.8 450.4 78.1 450.8 78.5 451.2 78.9 451.6 79.3 452.0 79.8 452.4 80.4 452.7 80.8 452.9 81.2 453.2 81.6 453.6 82.4 453.8 82.8 454.0 83.2 454.3 84.0 454.5 84.4 454.8 85.2 454.9 85.6 455.1 86.4 455.2 86.9 455.3 87.6 455.5 88.4 455.5 89.2 455.6 90.0 455.6 90.8 455.6 91.6 455.5 92.4 455.5 93.2 455.4 94.0 455.4 94.8 455.3 95.6 455.3 96.4 455.3 97.2 455.2 98.0 455.2 98.8 455.2 99.6 455.2 100.4 455.2 101.2 455.3 102.0 455.3 102.8 455.3 103.6 455.4 104.4 455.4 105.2 455.5 106.0 455.5 106.8 455.5 107.6 455.5 108.4 455.5 109.2 455.5 110.0 455.5 110.8 455.4 111.6 455.3 112.4 455.3 113.2 455.2 113.7 455.1 114.4 455.1 115.2 455.1 116.0 455.0 116.8 455.1 117.6 455.1 118.4 455.2 119.2 455.2 119.6 455.3 120.4 455.4 121.2 455.5 122.0 455.5 122.8 455.6 123.6 455.6 124.4 455.6 125.2 455.5 126.0 455.5 126.8 455.4 127.6 455.2 128.4 455.1 128.8 454.9 129.6 454.8 130.0 454.5 130.8 454.3 131.2 454.0 131.9 453.7 132.4 453.5 132.8 453.2 133.3 452.8 133.9 452.5 134.4 452.2 134.8 451.9 135.2 451.5 135.6 451.2 136.0 450.8 136.4 450.4 136.8 449.9 137.2 449.5 137.6 448.9 138.0 448.4 138.4 448.0 138.6 447.6 138.8 446.9 139.2 446.4 139.4 445.9 139.6 445.2 139.9 444.7 140.0 444.0 140.2 443.2 140.3 442.8 140.4Z M443.6 138.8 442.8 138.9 442.0 139.0 441.2 139.1 440.4 139.1 439.6 139.1 438.8 139.0 438.0 138.9 437.6 138.8 436.8 138.6 436.4 138.4 435.6 138.0 435.2 137.8 434.8 137.6 434.2 137.2 433.7 136.8 433.2 136.4 432.8 136.0 432.4 135.6 432.0 135.2 431.7 134.8 431.4 134.4 431.1 134.0 430.8 133.6 430.4 133.0 430.1 132.4 429.9 132.0 429.6 131.3 429.4 130.8 429.2 130.1 429.1 129.6 429.0 128.8 428.9 128.0 428.9 127.2 428.9 126.4 429.0 125.6 429.1 124.8 429.2 124.3 429.3 123.6 429.5 122.8 429.6 122.4 429.8 121.6 430.0 120.8 430.1 120.4 430.2 119.6 430.4 118.9 430.5 118.4 430.7 117.6 430.8 117.2 431.0 116.4 431.1 115.6 431.2 115.1 431.3 114.4 431.4 113.6 431.5 112.8 431.6 112.0 431.6 111.6 431.7 110.8 431.7 110.0 431.7 109.2 431.8 108.4 431.8 107.6 431.9 106.8 431.9 106.0 432.0 105.3 432.1 104.8 432.2 104.0 432.3 103.2 432.4 102.8 432.6 102.0 432.7 101.2 432.8 100.8 433.0 100.0 433.1 99.2 433.2 98.6 433.3 98.0 433.4 97.2 433.4 96.4 433.5 95.6 433.5 94.8 433.6 94.0 433.6 93.2 433.6 92.8 433.6 92.0 433.7 91.2 433.7 90.4 433.8 89.6 433.9 88.8 434.0 88.0 434.0 87.6 434.2 86.8 434.4 86.1 434.5 85.6 434.8 84.9 435.0 84.4 435.2 83.9 435.6 83.2 435.8 82.8 436.0 82.4 436.4 81.9 436.8 81.4 437.2 80.9 437.6 80.5 438.0 80.1 438.4 79.7 438.8 79.4 439.2 79.2 439.8 78.8 440.4 78.5 440.8 78.3 441.5 78.0 442.0 77.8 442.8 77.6 443.2 77.5 444.0 77.4 444.8 77.4 445.6 77.4 446.4 77.5 446.9 77.6 447.6 77.8 448.0 78.0 448.8 78.4 449.2 78.7 449.6 79.0 450.0 79.3 450.4 79.7 450.8 80.1 451.2 80.6 451.6 81.2 451.9 81.6 452.1 82.0 452.4 82.4 452.8 83.2 453.0 83.6 453.2 84.0 453.5 84.8 453.6 85.2 453.9 86.0 454.0 86.4 454.2 87.2 454.3 88.0 454.4 88.5 454.5 89.2 454.5 90.0 454.5 90.8 454.5 91.6 454.5 92.4 454.4 93.2 454.4 93.6 454.3 94.4 454.2 95.2 454.2 96.0 454.1 96.8 454.0 97.6 454.0 98.0 453.9 98.8 453.8 99.6 453.8 100.4 453.7 101.2 453.7 102.0 453.6 102.8 453.6 103.5 453.6 104.0 453.6 104.8 453.6 105.6 453.5 106.4 453.5 107.2 453.5 108.0 453.5 108.8 453.4 109.6 453.4 110.4 453.3 111.2 453.3 112.0 453.2 112.7 453.2 113.2 453.1 114.0 453.1 114.8 453.1 115.6 453.2 116.4 453.2 116.8 453.3 117.6 453.4 118.4 453.6 119.2 453.6 119.6 453.8 120.4 453.9 121.2 454.0 122.0 454.0 122.4 454.1 123.2 454.2 124.0 454.2 124.8 454.1 125.6 454.0 126.4 454.0 126.8 453.8 127.6 453.7 128.4 453.6 128.8 453.3 129.6 453.2 130.0 452.9 130.8 452.7 131.2 452.4 131.9 452.1 132.4 451.9 132.8 451.6 133.3 451.2 133.9 450.8 134.4 450.5 134.8 450.1 135.2 449.8 135.6 449.3 136.0 448.9 136.4 448.4 136.8 448.0 137.0 447.6 137.3 447.0 137.6 446.4 137.9 446.0 138.1 445.2 138.4 444.8 138.5 444.0 138.7 443.6 138.8Z M443.6 137.2 442.8 137.4 442.0 137.4 441.2 137.5 440.4 137.5 439.6 137.4 438.8 137.3 438.1 137.2 437.6 137.1 436.8 136.8 436.4 136.6 435.9 136.4 435.2 136.0 434.8 135.8 434.4 135.5 434.0 135.2 433.6 134.8 433.2 134.4 432.8 134.0 432.4 133.5 432.0 133.0 431.6 132.4 431.4 132.0 431.2 131.6 430.8 130.8 430.7 130.4 430.5 129.6 430.4 129.2 430.2 128.4 430.2 127.6 430.2 126.8 430.3 126.0 430.4 125.2 430.4 124.8 430.6 124.0 430.8 123.2 430.9 122.8 431.1 122.0 431.2 121.4 431.4 120.8 431.6 120.0 431.7 119.6 431.9 118.8 432.0 118.2 432.1 117.6 432.3 116.8 432.4 116.4 432.6 115.6 432.7 114.8 432.8 114.4 433.0 113.6 433.1 112.8 433.2 112.0 433.2 111.5 433.3 110.8 433.3 110.0 433.4 109.2 433.4 108.4 433.5 107.6 433.5 106.8 433.6 106.0 433.6 105.6 433.7 104.8 433.8 104.0 434.0 103.2 434.0 102.8 434.2 102.0 434.3 101.2 434.4 100.4 434.4 100.0 434.5 99.2 434.6 98.4 434.6 97.6 434.6 96.8 434.6 96.0 434.6 95.2 434.6 94.4 434.7 93.6 434.7 92.8 434.7 92.0 434.8 91.2 434.8 90.8 434.9 90.0 435.0 89.2 435.1 88.4 435.2 87.9 435.3 87.2 435.6 86.4 435.7 86.0 436.0 85.2 436.2 84.8 436.4 84.4 436.8 83.6 437.1 83.2 437.3 82.8 437.6 82.4 438.0 82.0 438.4 81.5 438.8 81.1 439.2 80.8 439.7 80.4 440.4 80.0 440.8 79.8 441.2 79.6 442.0 79.2 442.4 79.1 443.2 78.9 443.9 78.8 444.4 78.8 445.2 78.7 445.8 78.8 446.4 78.9 447.2 79.2 447.6 79.3 448.1 79.6 448.7 80.0 449.2 80.4 449.6 80.8 450.0 81.2 450.3 81.6 450.7 82.0 450.9 82.4 451.2 82.8 451.6 83.5 451.8 84.0 452.0 84.4 452.4 85.2 452.5 85.6 452.8 86.4 452.9 86.8 453.1 87.6 453.2 88.2 453.3 88.8 453.3 89.6 453.4 90.4 453.4 91.2 453.3 92.0 453.3 92.8 453.2 93.6 453.2 94.0 453.1 94.8 453.0 95.6 452.9 96.4 452.8 97.1 452.7 97.6 452.6 98.4 452.5 99.2 452.4 99.7 452.3 100.4 452.2 101.2 452.0 102.0 452.0 102.4 451.8 103.2 451.7 104.0 451.6 104.8 451.6 105.2 451.5 106.0 451.4 106.8 451.3 107.6 451.2 108.4 451.2 108.8 451.1 109.6 451.0 110.4 451.0 111.2 450.9 112.0 450.9 112.8 451.0 113.6 451.0 114.4 451.1 115.2 451.2 115.6 451.3 116.4 451.5 117.2 451.6 117.7 451.8 118.4 452.0 119.2 452.0 119.6 452.2 120.4 452.4 121.2 452.4 121.6 452.6 122.4 452.7 123.2 452.7 124.0 452.7 124.8 452.6 125.6 452.5 126.4 452.4 127.2 452.3 127.6 452.1 128.4 452.0 128.8 451.8 129.6 451.6 130.0 451.3 130.8 451.1 131.2 450.8 131.8 450.5 132.4 450.2 132.8 450.0 133.2 449.6 133.7 449.2 134.2 448.8 134.6 448.4 135.0 448.0 135.3 447.6 135.6 447.0 136.0 446.4 136.3 446.0 136.5 445.2 136.8 444.8 136.9 444.0 137.1 443.6 137.2Z M444.4 135.2 443.6 135.4 442.8 135.5 442.0 135.6 441.2 135.6 440.4 135.6 439.6 135.5 438.8 135.4 438.0 135.2 437.6 135.1 436.8 134.8 436.4 134.7 435.9 134.4 435.2 134.0 434.8 133.7 434.4 133.4 434.0 133.0 433.6 132.5 433.2 132.0 432.9 131.6 432.7 131.2 432.4 130.6 432.1 130.0 432.0 129.5 431.8 128.8 431.7 128.0 431.7 127.2 431.8 126.4 431.9 125.6 432.0 124.9 432.1 124.4 432.3 123.6 432.4 123.2 432.6 122.4 432.8 121.8 433.0 121.2 433.2 120.5 433.4 120.0 433.6 119.2 433.7 118.8 434.0 118.0 434.1 117.6 434.3 116.8 434.4 116.4 434.6 115.6 434.8 115.0 434.9 114.4 435.1 113.6 435.2 113.2 435.4 112.4 435.5 111.6 435.6 110.9 435.7 110.4 435.7 109.6 435.8 108.8 435.8 108.0 435.9 107.2 435.9 106.4 436.0 105.6 436.0 105.2 436.1 104.4 436.1 103.6 436.2 102.8 436.2 102.0 436.3 101.2 436.2 100.4 436.2 99.6 436.2 98.8 436.1 98.0 436.1 97.2 436.0 96.4 436.0 95.6 436.0 95.2 436.0 94.4 436.0 93.6 436.0 92.8 436.0 92.4 436.1 91.6 436.1 90.8 436.3 90.0 436.4 89.2 436.5 88.8 436.7 88.0 436.8 87.6 437.1 86.8 437.2 86.4 437.6 85.6 437.8 85.2 438.0 84.8 438.4 84.2 438.8 83.6 439.1 83.2 439.5 82.8 439.9 82.4 440.4 82.0 440.8 81.7 441.2 81.5 441.7 81.2 442.4 80.9 442.8 80.8 443.6 80.6 444.4 80.5 445.2 80.5 446.0 80.7 446.5 80.8 447.2 81.1 447.6 81.3 448.0 81.6 448.4 82.0 448.9 82.4 449.2 82.8 449.6 83.3 450.0 83.9 450.3 84.4 450.5 84.8 450.8 85.4 451.1 86.0 451.2 86.4 451.5 87.2 451.6 87.6 451.8 88.4 451.9 89.2 452.0 90.0 452.0 90.8 452.0 91.6 451.9 92.4 451.9 93.2 451.8 94.0 451.7 94.8 451.6 95.6 451.5 96.0 451.4 96.8 451.3 97.6 451.2 98.0 451.0 98.8 450.8 99.6 450.7 100.0 450.5 100.8 450.4 101.2 450.1 102.0 450.0 102.4 449.7 103.2 449.6 103.6 449.3 104.4 449.2 104.8 448.9 105.6 448.8 106.0 448.5 106.8 448.4 107.2 448.1 108.0 448.0 108.4 447.8 109.2 447.7 110.0 447.6 110.8 447.7 111.6 447.9 112.4 448.0 112.9 448.2 113.6 448.4 114.1 448.6 114.8 448.8 115.3 449.1 116.0 449.2 116.4 449.5 117.2 449.6 117.6 449.9 118.4 450.0 118.8 450.3 119.6 450.4 120.1 450.6 120.8 450.7 121.6 450.8 122.0 450.9 122.8 451.0 123.6 451.0 124.4 451.0 125.2 450.9 126.0 450.8 126.8 450.7 127.2 450.5 128.0 450.4 128.4 450.2 129.2 450.0 129.6 449.7 130.4 449.5 130.8 449.2 131.4 448.8 132.0 448.5 132.4 448.2 132.8 447.9 133.2 447.4 133.6 446.9 134.0 446.4 134.4 446.0 134.6 445.6 134.8 444.8 135.1 444.4 135.2Z M443.6 105.7 442.8 105.8 442.0 105.8 441.3 105.6 440.8 105.3 440.4 105.0 440.0 104.5 439.7 104.0 439.5 103.6 439.2 102.8 439.0 102.4 438.8 101.7 438.7 101.2 438.4 100.4 438.3 100.0 438.2 99.2 438.0 98.5 437.9 98.0 437.8 97.2 437.6 96.4 437.6 96.0 437.5 95.2 437.5 94.4 437.5 93.6 437.5 92.8 437.6 92.0 437.6 91.6 437.8 90.8 438.0 90.0 438.1 89.6 438.4 88.8 438.5 88.4 438.8 87.8 439.1 87.2 439.3 86.8 439.6 86.3 440.0 85.7 440.4 85.2 440.7 84.8 441.1 84.4 441.6 84.0 442.0 83.7 442.4 83.4 442.9 83.2 443.6 83.0 444.4 82.9 445.2 83.0 445.9 83.2 446.4 83.4 446.8 83.7 447.2 84.0 447.6 84.4 448.0 84.8 448.4 85.4 448.8 86.0 449.0 86.4 449.2 86.8 449.6 87.6 449.7 88.0 450.0 88.8 450.1 89.2 450.2 90.0 450.3 90.8 450.3 91.6 450.3 92.4 450.3 93.2 450.2 94.0 450.2 94.8 450.1 95.6 450.0 96.0 449.8 96.8 449.7 97.6 449.6 98.0 449.3 98.8 449.2 99.2 448.9 100.0 448.7 100.4 448.4 101.1 448.1 101.6 447.9 102.0 447.6 102.5 447.2 103.1 446.8 103.6 446.4 104.0 446.0 104.4 445.6 104.7 445.2 105.0 444.8 105.2 444.0 105.6 443.6 105.7Z M442.0 133.6 441.2 133.7 440.4 133.6 440.0 133.6 439.2 133.5 438.4 133.4 437.8 133.2 437.2 133.0 436.8 132.8 436.1 132.4 435.6 132.1 435.2 131.7 434.8 131.3 434.4 130.8 434.2 130.4 433.9 130.0 433.6 129.2 433.5 128.8 433.4 128.0 433.4 127.2 433.5 126.4 433.6 125.7 433.7 125.2 434.0 124.4 434.1 124.0 434.4 123.2 434.6 122.8 434.8 122.3 435.1 121.6 435.3 121.2 435.6 120.7 436.0 120.0 436.2 119.6 436.4 119.2 436.8 118.4 437.0 118.0 437.2 117.6 437.6 116.9 437.9 116.4 438.1 116.0 438.4 115.5 438.8 115.0 439.2 114.5 439.6 114.1 440.0 113.9 440.7 113.6 441.2 113.5 442.0 113.6 442.4 113.7 443.2 114.0 443.6 114.1 444.1 114.4 444.7 114.8 445.2 115.2 445.6 115.5 446.0 115.9 446.4 116.4 446.7 116.8 447.0 117.2 447.2 117.6 447.6 118.3 447.9 118.8 448.0 119.2 448.3 120.0 448.5 120.4 448.7 121.2 448.8 121.6 449.0 122.4 449.1 123.2 449.2 124.0 449.2 124.4 449.2 125.0 449.2 125.6 449.1 126.4 448.9 127.2 448.8 127.6 448.6 128.4 448.4 128.9 448.1 129.6 447.9 130.0 447.6 130.6 447.2 131.2 446.8 131.6 446.4 132.0 446.0 132.3 445.6 132.6 445.2 132.8 444.4 133.2 444.0 133.3 443.2 133.5 442.4 133.6 442.0 133.6Z M444.8 102.0 444.0 102.3 443.2 102.2 442.5 102.0 442.0 101.7 441.6 101.4 441.2 101.0 440.8 100.5 440.5 100.0 440.3 99.6 440.0 99.0 439.7 98.4 439.6 98.0 439.4 97.2 439.2 96.5 439.1 96.0 439.0 95.2 439.0 94.4 439.0 93.6 439.1 92.8 439.2 92.1 439.3 91.6 439.6 90.9 439.8 90.4 440.1 90.0 440.4 89.5 440.8 89.0 441.2 88.5 441.6 88.1 442.0 87.8 442.4 87.5 443.0 87.2 443.6 87.0 444.4 86.9 445.2 87.0 445.7 87.2 446.3 87.6 446.8 88.0 447.2 88.4 447.5 88.8 447.7 89.2 448.0 89.8 448.2 90.4 448.4 90.9 448.6 91.6 448.7 92.4 448.7 93.2 448.7 94.0 448.7 94.8 448.6 95.6 448.5 96.4 448.4 96.8 448.2 97.6 448.0 98.1 447.7 98.8 447.5 99.2 447.2 99.8 446.8 100.4 446.5 100.8 446.1 101.2 445.6 101.6 445.2 101.9 444.8 102.0Z M441.2 132.0 440.5 132.0 440.0 132.0 439.2 131.9 438.4 131.7 438.0 131.5 437.2 131.2 436.8 130.9 436.4 130.6 436.0 130.2 435.6 129.7 435.4 129.2 435.2 128.8 435.0 128.0 435.0 127.2 435.1 126.4 435.2 126.0 435.5 125.2 435.7 124.8 436.0 124.2 436.4 123.6 436.7 123.2 437.0 122.8 437.3 122.4 437.7 122.0 438.1 121.6 438.6 121.2 439.0 120.8 439.5 120.4 439.9 120.0 440.4 119.6 440.8 119.3 441.2 119.0 441.6 118.7 442.2 118.4 442.8 118.3 443.6 118.3 444.1 118.4 444.8 118.7 445.2 119.1 445.6 119.5 446.0 120.0 446.3 120.4 446.5 120.8 446.8 121.5 447.0 122.0 447.2 122.7 447.3 123.2 447.4 124.0 447.5 124.8 447.5 125.6 447.4 126.4 447.2 127.2 447.1 127.6 446.9 128.4 446.7 128.8 446.4 129.4 446.0 130.0 445.6 130.4 445.2 130.8 444.8 131.1 444.4 131.3 443.7 131.6 443.2 131.8 442.4 131.9 441.6 132.0 441.2 132.0Z" fill="none" stroke="#1a1a1a" stroke-width="0.8" stroke-linejoin="round"/>
<path d="M420.0 317.2 419.2 317.4 418.4 317.4 418.0 317.2 417.4 316.8 417.1 316.4 416.7 316.0 416.4 315.5 416.0 314.9 415.7 314.4 415.4 314.0 415.2 313.6 414.8 312.8 414.6 312.4 414.4 311.8 414.2 311.2 414.1 310.4 414.1 309.6 414.1 308.8 414.2 308.0 414.2 307.2 414.0 306.6 413.6 306.1 413.2 305.8 412.8 305.5 412.0 305.2 411.6 305.2 410.8 305.1 410.0 305.2 409.6 305.3 408.8 305.5 408.3 305.6 407.6 305.8 406.8 305.9 406.0 306.0 405.2 305.8 404.8 305.6 404.4 305.2 404.0 304.8 403.6 304.1 403.3 303.6 403.2 303.2 402.9 302.4 402.7 302.0 402.5 301.2 402.4 300.7 402.3 300.0 402.2 299.2 402.3 298.4 402.4 297.8 402.6 297.2 402.8 296.5 403.1 296.0 403.3 295.6 403.6 295.1 404.0 294.6 404.4 294.2 404.8 293.8 405.2 293.4 405.6 293.1 406.0 292.8 406.5 292.4 407.0 292.0 407.5 291.6 408.0 291.3 408.4 291.0 408.8 290.7 409.3 290.4 409.9 290.0 410.4 289.8 410.8 289.6 411.6 289.2 412.0 289.1 412.8 288.8 413.2 288.7 414.0 288.4 414.4 288.3 415.0 288.0 415.6 287.7 416.0 287.4 416.4 287.1 416.8 286.8 417.3 286.4 417.7 286.0 418.0 285.6 418.4 285.2 418.8 284.7 419.2 284.3 419.6 283.8 420.0 283.4 420.4 283.0 420.8 282.6 421.2 282.3 421.6 282.0 422.1 281.6 422.7 281.2 423.2 280.8 423.6 280.5 424.0 280.2 424.4 279.9 424.8 279.5 425.2 279.2 425.6 278.7 426.0 278.3 426.4 277.8 426.8 277.2 427.0 276.8 427.2 276.0 427.2 275.6 427.2 275.2 427.0 274.4 426.8 273.6 426.7 273.2 426.4 272.4 426.3 272.0 426.0 271.2 425.8 270.8 425.6 270.1 425.4 269.6 425.2 269.1 424.9 268.4 424.6 268.0 424.4 267.6 424.0 267.0 423.6 266.5 423.2 266.1 422.8 265.7 422.4 265.3 422.0 264.8 421.7 264.4 421.4 264.0 421.2 263.6 420.9 262.8 420.8 262.4 420.7 261.6 420.7 260.8 420.8 260.2 420.9 259.6 421.0 258.8 421.1 258.0 421.2 257.6 421.3 256.8 421.3 256.0 421.3 255.2 421.4 254.4 421.5 253.6 421.6 253.2 421.9 252.4 422.1 252.0 422.4 251.6 422.8 251.0 423.2 250.6 423.6 250.0 423.9 249.6 424.1 249.2 424.4 248.5 424.6 248.0 424.8 247.2 424.8 246.8 425.0 246.0 425.1 245.2 425.2 244.7 425.3 244.0 425.5 243.2 425.6 242.8 425.9 242.0 426.1 241.6 426.4 241.0 426.7 240.4 427.0 240.0 427.2 239.6 427.6 239.1 428.0 238.6 428.4 238.1 428.8 237.7 429.2 237.3 429.6 237.0 430.0 236.6 430.4 236.4 431.1 236.0 431.6 235.8 432.4 235.6 432.8 235.6 433.6 235.5 434.4 235.6 434.8 235.7 435.6 235.8 436.3 236.0 436.8 236.1 437.6 236.2 438.4 236.3 439.2 236.2 440.0 236.1 440.8 236.0 441.3 236.0 442.0 235.9 442.8 235.8 443.6 235.8 444.4 235.8 445.2 235.8 446.0 236.0 446.4 236.1 447.0 236.4 447.5 236.8 448.0 237.2 448.3 237.6 448.6 238.0 448.9 238.4 449.2 239.0 449.5 239.6 449.8 240.0 450.0 240.4 450.4 241.2 450.6 241.6 450.9 242.0 451.2 242.6 451.6 243.2 451.8 243.6 452.0 244.0 452.4 244.7 452.7 245.2 452.9 245.6 453.2 246.4 453.3 246.8 453.6 247.6 453.7 248.0 453.8 248.8 453.9 249.6 454.0 250.1 454.1 250.8 454.2 251.6 454.2 252.4 454.3 253.2 454.4 254.0 454.4 254.4 454.5 255.2 454.6 256.0 454.7 256.8 454.8 257.6 454.8 258.0 454.9 258.8 455.0 259.6 455.0 260.4 455.0 261.2 454.9 262.0 454.8 262.8 454.7 263.2 454.5 264.0 454.4 264.6 454.2 265.2 454.0 266.0 453.9 266.4 453.6 267.2 453.5 267.6 453.2 268.4 453.1 268.8 452.8 269.6 452.6 270.0 452.4 270.5 452.1 271.2 451.9 271.6 451.6 272.4 451.5 272.8 451.4 273.6 451.4 274.4 451.6 275.1 451.9 275.6 452.2 276.0 452.6 276.4 453.1 276.8 453.6 277.2 454.0 277.5 454.4 277.7 454.8 278.0 455.5 278.4 456.0 278.7 456.4 278.9 456.8 279.2 457.5 279.6 458.0 280.0 458.4 280.2 458.8 280.5 459.2 280.8 459.6 281.2 460.0 281.6 460.4 282.0 460.8 282.4 461.2 282.9 461.6 283.4 462.0 283.9 462.4 284.4 462.7 284.8 463.0 285.2 463.3 285.6 463.6 286.0 464.0 286.4 464.4 286.9 464.8 287.4 465.2 287.8 465.6 288.2 466.0 288.7 466.4 289.1 466.8 289.5 467.2 290.0 467.5 290.4 467.7 290.8 468.0 291.6 468.1 292.0 468.1 292.8 468.0 293.4 467.8 294.0 467.6 294.6 467.3 295.2 467.1 295.6 466.8 296.0 466.4 296.6 466.0 297.0 465.6 297.5 465.2 297.9 464.8 298.2 464.4 298.5 464.0 298.8 463.2 299.2 462.8 299.4 462.1 299.6 461.6 299.7 460.8 299.8 460.0 299.8 459.2 299.9 458.4 299.9 457.6 299.9 456.8 299.9 456.3 300.0 455.6 300.2 454.8 300.4 454.4 300.5 453.6 300.8 453.2 301.0 452.6 301.2 452.0 301.5 451.6 301.6 450.8 301.9 450.4 302.1 449.6 302.4 449.2 302.5 448.4 302.7 448.0 302.8 447.2 303.0 446.4 303.2 446.0 303.2 445.2 303.3 444.4 303.4 443.6 303.4 442.8 303.5 442.0 303.5 441.2 303.6 440.4 303.6 439.6 303.5 438.8 303.5 438.0 303.4 437.2 303.4 436.4 303.3 435.6 303.2 435.2 303.2 434.4 303.1 433.6 303.0 432.8 302.9 432.0 302.9 431.2 302.9 430.4 303.0 429.6 303.2 429.2 303.3 428.5 303.6 428.0 303.9 427.6 304.2 427.2 304.6 426.8 305.1 426.5 305.6 426.3 306.0 426.0 306.8 426.0 307.2 425.8 308.0 425.7 308.8 425.6 309.2 425.3 310.0 425.2 310.4 424.8 311.2 424.6 311.6 424.3 312.0 424.0 312.5 423.6 313.0 423.2 313.5 422.8 314.0 422.5 314.4 422.2 314.8 421.9 315.2 421.6 315.6 421.2 316.2 420.8 316.6 420.4 317.0 420.0 317.2Z M419.2 304.0 418.8 304.0 418.0 303.9 417.2 303.7 416.8 303.6 416.0 303.4 415.4 303.2 414.8 303.0 414.0 302.8 413.6 302.7 412.8 302.5 412.4 302.4 411.6 302.2 410.8 302.2 410.0 302.1 409.2 302.2 408.4 302.2 407.6 302.0 407.2 301.8 406.8 301.3 406.5 300.8 406.4 300.4 406.3 299.6 406.3 298.8 406.4 298.3 406.7 297.6 407.0 297.2 407.3 296.8 407.9 296.4 408.4 296.1 408.8 295.9 409.6 295.6 410.0 295.4 410.5 295.2 411.1 294.8 411.6 294.4 412.0 294.0 412.4 293.6 412.7 293.2 413.0 292.8 413.4 292.4 413.8 292.0 414.4 291.6 414.8 291.4 415.2 291.1 415.7 290.8 416.3 290.4 416.8 290.0 417.2 289.7 417.6 289.3 418.0 288.9 418.4 288.5 418.8 288.1 419.2 287.6 419.5 287.2 419.9 286.8 420.2 286.4 420.5 286.0 420.9 285.6 421.2 285.2 421.6 284.8 422.0 284.4 422.5 284.0 422.9 283.6 423.4 283.2 423.8 282.8 424.3 282.4 424.8 282.0 425.2 281.6 425.6 281.3 426.0 280.9 426.4 280.6 426.8 280.2 427.2 279.9 427.6 279.5 428.0 279.2 428.5 278.8 429.0 278.4 429.6 278.0 430.0 277.7 430.4 277.3 430.8 277.0 431.2 276.6 431.6 276.0 431.8 275.6 431.8 274.8 431.6 274.2 431.2 273.6 431.0 273.2 430.7 272.8 430.4 272.4 430.0 271.7 429.7 271.2 429.5 270.8 429.2 270.3 428.8 269.6 428.6 269.2 428.4 268.8 428.0 268.2 427.6 267.6 427.4 267.2 427.1 266.8 426.8 266.4 426.4 265.8 426.0 265.3 425.6 264.8 425.2 264.4 424.9 264.0 424.6 263.6 424.4 263.2 424.1 262.4 424.0 262.0 423.9 261.2 424.0 260.8 424.3 260.0 424.4 259.6 424.8 258.9 425.1 258.4 425.2 258.0 425.5 257.2 425.6 256.6 425.7 256.0 426.0 255.2 426.1 254.8 426.4 254.3 426.8 253.7 427.1 253.2 427.4 252.8 427.6 252.4 428.0 251.7 428.2 251.2 428.4 250.8 428.6 250.0 428.8 249.2 428.9 248.8 429.0 248.0 429.2 247.3 429.4 246.8 429.6 246.1 429.8 245.6 430.0 244.9 430.1 244.4 430.2 243.6 430.3 242.8 430.4 242.2 430.7 241.6 431.2 241.2 431.6 241.1 432.4 241.1 432.9 241.2 433.6 241.5 434.0 241.6 434.8 241.9 435.6 242.0 436.0 242.0 436.4 242.0 437.2 241.8 437.6 241.6 438.3 241.2 438.8 240.9 439.2 240.6 439.6 240.4 440.2 240.0 440.8 239.7 441.2 239.5 442.0 239.2 442.4 239.2 443.2 239.1 443.7 239.2 444.4 239.3 445.1 239.6 445.6 239.9 446.0 240.2 446.4 240.5 446.8 241.0 447.2 241.5 447.5 242.0 447.8 242.4 448.0 242.8 448.4 243.4 448.8 244.0 449.0 244.4 449.2 244.8 449.6 245.5 449.9 246.0 450.1 246.4 450.4 247.2 450.6 247.6 450.8 248.4 450.9 248.8 451.1 249.6 451.2 250.4 451.2 250.8 451.3 251.6 451.4 252.4 451.4 253.2 451.4 254.0 451.3 254.8 451.3 255.6 451.4 256.4 451.6 257.2 451.7 257.6 452.0 258.4 452.1 258.8 452.4 259.6 452.5 260.0 452.6 260.8 452.7 261.6 452.6 262.4 452.5 263.2 452.4 263.6 452.1 264.4 451.9 264.8 451.6 265.4 451.3 266.0 451.2 266.4 450.9 267.2 450.7 267.6 450.5 268.4 450.3 268.8 450.1 269.6 450.0 270.0 449.6 270.8 449.5 271.2 449.2 271.8 448.9 272.4 448.7 272.8 448.6 273.6 448.6 274.4 448.8 274.8 449.2 275.5 449.6 276.0 449.9 276.4 450.3 276.8 450.8 277.2 451.2 277.5 451.6 277.8 452.0 278.1 452.4 278.4 453.0 278.8 453.5 279.2 454.0 279.5 454.4 279.8 454.8 280.1 455.2 280.5 455.6 280.8 456.1 281.2 456.5 281.6 457.0 282.0 457.4 282.4 457.8 282.8 458.2 283.2 458.6 283.6 459.0 284.0 459.4 284.4 459.8 284.8 460.2 285.2 460.5 285.6 460.9 286.0 461.2 286.5 461.6 287.0 461.9 287.6 462.2 288.0 462.4 288.5 462.7 289.2 462.9 289.6 463.2 290.4 463.3 290.8 463.4 291.6 463.4 292.4 463.3 293.2 463.2 293.6 463.0 294.4 462.8 294.9 462.5 295.6 462.3 296.0 462.0 296.4 461.6 296.8 461.0 297.2 460.4 297.4 459.7 297.6 459.2 297.7 458.4 297.7 457.6 297.8 456.8 297.8 456.0 298.0 455.6 298.0 454.8 298.3 454.4 298.4 453.6 298.7 453.2 298.9 452.5 299.2 452.0 299.4 451.6 299.6 450.8 300.0 450.4 300.2 449.9 300.4 449.2 300.7 448.8 300.9 448.0 301.2 447.6 301.3 446.8 301.6 446.4 301.7 445.6 301.9 444.8 302.0 444.4 302.0 443.6 302.1 442.8 302.1 442.0 302.1 441.2 302.1 440.4 302.0 440.0 302.0 439.2 301.9 438.4 301.9 437.6 301.9 436.8 301.8 436.0 301.8 435.2 301.7 434.4 301.6 434.0 301.6 433.2 301.5 432.4 301.4 431.6 301.3 430.8 301.3 430.0 301.3 429.2 301.4 428.4 301.5 427.6 301.6 427.2 301.7 426.4 301.9 426.0 302.0 425.2 302.2 424.4 302.4 424.0 302.5 423.2 302.7 422.8 302.9 422.0 303.2 421.6 303.4 421.1 303.6 420.4 303.8 419.6 304.0 419.2 304.0Z M441.6 269.2 440.8 269.3 440.0 269.3 439.2 269.2 438.8 269.1 438.0 269.0 437.2 268.9 436.4 268.8 436.0 268.8 435.2 268.7 434.4 268.7 433.6 268.6 432.8 268.4 432.4 268.3 431.9 268.0 431.3 267.6 430.8 267.2 430.4 266.8 430.0 266.4 429.7 266.0 429.4 265.6 429.1 265.2 428.8 264.7 428.5 264.0 428.4 263.6 428.4 263.2 428.8 262.4 429.2 262.1 429.6 261.8 430.0 261.5 430.4 261.1 430.8 260.7 431.2 260.2 431.5 259.6 431.7 259.2 431.9 258.4 432.0 257.8 432.1 257.2 432.3 256.4 432.6 256.0 433.1 255.6 433.6 255.3 434.0 255.1 434.4 254.8 434.8 254.4 435.2 253.7 435.3 253.2 435.5 252.4 435.6 252.0 435.9 251.2 436.0 250.8 436.4 250.2 436.8 249.7 437.2 249.2 437.6 248.8 438.0 248.5 438.4 248.1 438.8 247.7 439.2 247.3 439.6 246.8 439.9 246.4 440.2 246.0 440.5 245.6 440.8 245.0 441.2 244.4 441.4 244.0 441.7 243.6 442.0 243.2 442.6 242.8 443.2 242.6 444.0 242.7 444.4 242.9 444.8 243.2 445.3 243.6 445.6 244.0 446.0 244.4 446.4 245.0 446.8 245.6 447.1 246.0 447.3 246.4 447.6 246.9 447.9 247.6 448.1 248.0 448.3 248.8 448.4 249.2 448.6 250.0 448.6 250.8 448.5 251.6 448.4 252.2 448.2 252.8 447.9 253.2 447.6 253.7 447.2 254.1 446.8 254.6 446.4 255.1 446.1 255.6 446.1 256.4 446.4 256.9 446.8 257.4 447.2 257.8 447.6 258.1 448.0 258.4 448.6 258.8 449.1 259.2 449.6 259.6 449.9 260.0 450.2 260.4 450.4 260.9 450.6 261.6 450.6 262.4 450.4 263.1 450.2 263.6 450.0 264.0 449.6 264.6 449.2 265.2 448.8 265.6 448.5 266.0 448.1 266.4 447.7 266.8 447.2 267.2 446.8 267.5 446.4 267.7 445.7 268.0 445.2 268.2 444.6 268.4 444.0 268.6 443.3 268.8 442.8 269.0 442.0 269.1 441.6 269.2Z M444.4 300.8 443.6 300.9 442.8 300.9 442.0 300.9 441.2 300.8 440.8 300.8 440.0 300.7 439.2 300.7 438.4 300.6 437.6 300.6 436.8 300.6 436.0 300.6 435.2 300.6 434.4 300.5 433.8 300.4 433.2 300.3 432.4 300.2 431.6 300.1 430.8 300.0 430.4 300.0 429.6 299.9 428.8 299.9 428.0 299.8 427.2 299.8 426.4 299.7 425.6 299.6 425.2 299.5 424.6 299.2 424.0 298.9 423.6 298.6 423.2 298.2 422.8 297.7 422.4 297.2 422.1 296.8 421.9 296.4 421.6 295.9 421.2 295.2 421.0 294.8 420.8 294.3 420.5 293.6 420.4 293.2 420.2 292.4 420.2 291.6 420.4 290.8 420.5 290.4 420.8 289.7 421.1 289.2 421.3 288.8 421.6 288.3 422.0 287.7 422.4 287.2 422.7 286.8 423.0 286.4 423.3 286.0 423.7 285.6 424.1 285.2 424.4 284.8 424.8 284.4 425.2 284.0 425.6 283.6 426.0 283.2 426.4 282.8 426.8 282.4 427.2 282.0 427.6 281.6 428.1 281.2 428.6 280.8 429.2 280.4 429.6 280.2 430.0 279.9 430.6 279.6 431.2 279.3 431.6 279.0 432.1 278.8 432.8 278.4 433.2 278.1 433.6 277.9 434.2 277.6 434.8 277.3 435.2 277.1 436.0 276.9 436.4 276.8 437.2 276.6 438.0 276.5 438.5 276.4 439.2 276.3 440.0 276.1 440.8 276.0 441.2 276.0 442.0 275.9 442.8 275.9 443.6 275.9 444.4 275.9 444.9 276.0 445.6 276.1 446.4 276.4 446.8 276.5 447.4 276.8 448.0 277.2 448.4 277.4 448.8 277.7 449.3 278.0 449.9 278.4 450.4 278.8 450.8 279.0 451.2 279.3 451.7 279.6 452.2 280.0 452.8 280.4 453.2 280.8 453.6 281.1 454.0 281.5 454.4 282.0 454.8 282.4 455.1 282.8 455.4 283.2 455.7 283.6 456.0 284.0 456.4 284.6 456.8 285.1 457.2 285.6 457.5 286.0 457.8 286.4 458.0 286.8 458.4 287.3 458.8 288.0 459.0 288.4 459.2 288.9 459.4 289.6 459.6 290.4 459.6 290.8 459.6 291.6 459.6 292.4 459.6 292.8 459.4 293.6 459.2 294.0 458.8 294.6 458.4 294.9 458.0 295.2 457.2 295.6 456.8 295.8 456.1 296.0 455.6 296.1 454.8 296.4 454.4 296.5 453.6 296.7 453.2 296.9 452.4 297.2 452.0 297.3 451.3 297.6 450.8 297.8 450.4 298.1 449.8 298.4 449.2 298.8 448.8 299.0 448.4 299.3 447.9 299.6 447.2 300.0 446.8 300.1 446.2 300.4 445.6 300.6 444.8 300.8 444.4 300.8Z M443.6 252.4 442.8 252.5 442.2 252.4 441.6 252.1 441.3 251.6 441.1 251.2 441.2 250.5 441.4 250.0 441.6 249.6 442.0 249.1 442.4 248.7 442.8 248.4 443.6 248.0 444.0 248.0 444.4 248.1 444.9 248.4 445.3 248.8 445.6 249.3 445.8 250.0 445.7 250.8 445.5 251.2 445.2 251.6 444.7 252.0 444.0 252.3 443.6 252.4Z M442.0 266.9 441.2 267.0 440.4 267.1 439.6 267.0 438.8 266.9 438.4 266.8 437.6 266.6 437.1 266.4 436.4 266.1 436.0 265.9 435.6 265.6 435.1 265.2 434.8 264.8 434.5 264.0 434.5 263.2 434.8 262.5 435.1 262.0 435.4 261.6 435.8 261.2 436.3 260.8 436.8 260.5 437.2 260.3 437.8 260.0 438.4 259.7 438.8 259.4 439.2 259.2 439.8 258.8 440.4 258.4 440.8 258.2 441.4 258.0 442.0 258.0 442.4 258.0 443.2 258.4 443.6 258.6 444.0 258.9 444.5 259.2 445.0 259.6 445.5 260.0 445.9 260.4 446.4 260.8 446.7 261.2 447.0 261.6 447.2 262.0 447.2 262.8 447.1 263.2 446.8 263.7 446.4 264.2 446.0 264.6 445.6 264.9 445.2 265.2 444.7 265.6 444.0 266.0 443.6 266.2 443.2 266.4 442.4 266.7 442.0 266.9Z M444.4 299.6 443.6 299.8 442.8 299.8 442.0 299.8 441.2 299.7 440.4 299.6 439.6 299.6 439.2 299.6 438.4 299.6 438.0 299.6 437.2 299.6 436.4 299.6 435.7 299.6 435.2 299.6 434.4 299.5 433.6 299.4 432.8 299.3 432.4 299.2 431.6 299.0 430.8 298.9 430.4 298.8 429.6 298.6 428.8 298.4 428.4 298.3 427.6 298.1 427.2 298.0 426.4 297.6 426.0 297.4 425.6 297.2 425.2 296.8 424.8 296.4 424.4 296.0 424.0 295.4 423.7 294.8 423.5 294.4 423.2 293.8 423.0 293.2 422.8 292.4 422.8 292.0 422.8 291.2 422.8 290.8 423.0 290.0 423.2 289.6 423.6 288.8 423.8 288.4 424.0 288.0 424.4 287.5 424.8 287.0 425.2 286.5 425.6 286.1 426.0 285.7 426.4 285.3 426.8 284.9 427.2 284.4 427.6 284.0 428.0 283.6 428.4 283.2 428.8 282.8 429.2 282.5 429.6 282.2 430.0 281.9 430.5 281.6 431.1 281.2 431.6 280.9 432.0 280.7 432.5 280.4 433.2 280.0 433.6 279.8 434.0 279.6 434.8 279.3 435.2 279.2 436.0 279.0 436.8 278.9 437.5 278.8 438.0 278.8 438.8 278.7 439.6 278.6 440.4 278.4 440.8 278.3 441.6 278.1 442.2 278.0 442.8 277.9 443.6 277.8 444.4 277.9 445.0 278.0 445.6 278.2 446.2 278.4 446.8 278.7 447.2 278.9 447.8 279.2 448.4 279.5 448.8 279.7 449.3 280.0 450.0 280.4 450.4 280.6 450.8 280.8 451.4 281.2 451.9 281.6 452.4 282.0 452.7 282.4 453.1 282.8 453.4 283.2 453.7 283.6 454.0 284.2 454.3 284.8 454.5 285.2 454.8 286.0 455.0 286.4 455.2 287.0 455.4 287.6 455.6 288.1 455.9 288.8 456.0 289.2 456.3 290.0 456.4 290.4 456.6 291.2 456.6 292.0 456.5 292.8 456.3 293.2 456.0 293.6 455.6 294.0 454.9 294.4 454.4 294.6 454.0 294.8 453.2 295.1 452.7 295.2 452.0 295.4 451.4 295.6 450.8 295.8 450.4 296.0 449.6 296.4 449.2 296.7 448.8 296.9 448.4 297.2 448.0 297.6 447.5 298.0 446.9 298.4 446.4 298.8 446.0 299.0 445.6 299.2 444.8 299.5 444.4 299.6Z M444.4 298.4 443.6 298.7 442.8 298.7 442.0 298.8 441.2 298.7 440.4 298.7 439.6 298.7 438.8 298.7 438.0 298.7 437.2 298.8 436.4 298.8 435.6 298.7 434.8 298.7 434.0 298.6 433.2 298.4 432.8 298.4 432.0 298.2 431.4 298.0 430.8 297.8 430.2 297.6 429.6 297.4 429.2 297.2 428.4 296.8 428.0 296.6 427.6 296.3 427.1 296.0 426.6 295.6 426.2 295.2 425.9 294.8 425.6 294.4 425.2 293.8 424.9 293.2 424.8 292.8 424.6 292.0 424.6 291.2 424.7 290.4 424.8 290.0 425.1 289.2 425.4 288.8 425.6 288.4 426.0 287.9 426.4 287.5 426.8 287.1 427.2 286.7 427.6 286.3 428.0 285.9 428.4 285.6 428.8 285.2 429.3 284.8 429.8 284.4 430.3 284.0 430.8 283.6 431.2 283.4 431.6 283.1 432.1 282.8 432.7 282.4 433.2 282.0 433.6 281.8 434.0 281.5 434.7 281.2 435.2 281.0 435.9 280.8 436.4 280.7 437.2 280.7 438.0 280.7 438.8 280.6 439.6 280.6 440.4 280.5 441.2 280.4 441.6 280.4 442.4 280.3 443.2 280.3 444.0 280.4 444.4 280.6 444.8 280.8 445.2 281.2 445.6 281.7 446.0 282.1 446.4 282.4 447.2 282.6 448.0 282.5 448.8 282.5 449.6 282.6 450.3 282.8 450.8 283.0 451.2 283.3 451.6 283.7 452.0 284.2 452.4 284.8 452.6 285.2 452.8 285.8 453.0 286.4 453.2 287.2 453.3 287.6 453.5 288.4 453.6 288.8 453.8 289.6 454.0 290.4 454.0 290.8 454.0 291.6 453.9 292.0 453.6 292.5 453.2 292.9 452.7 293.2 452.0 293.6 451.6 293.7 451.0 294.0 450.4 294.3 450.0 294.5 449.5 294.8 448.9 295.2 448.4 295.6 448.0 295.9 447.6 296.2 447.2 296.6 446.8 296.9 446.4 297.3 446.0 297.6 445.4 298.0 444.8 298.3 444.4 298.4Z M443.2 297.6 442.4 297.7 441.6 297.8 440.8 297.8 440.0 297.8 439.2 297.8 438.4 297.8 437.6 297.9 436.8 297.9 436.0 297.9 435.2 297.9 434.4 297.8 433.6 297.7 433.2 297.6 432.4 297.3 432.0 297.2 431.2 296.9 430.8 296.7 430.2 296.4 429.6 296.1 429.2 295.8 428.8 295.5 428.4 295.2 428.0 294.8 427.6 294.4 427.2 293.9 426.8 293.3 426.6 292.8 426.4 292.3 426.2 291.6 426.3 290.8 426.4 290.2 426.7 289.6 426.9 289.2 427.2 288.7 427.6 288.3 428.0 287.8 428.4 287.5 428.8 287.1 429.2 286.8 429.7 286.4 430.2 286.0 430.8 285.6 431.2 285.3 431.6 285.1 432.1 284.8 432.8 284.4 433.2 284.2 433.6 283.9 434.2 283.6 434.8 283.3 435.2 283.1 435.9 282.8 436.4 282.7 437.2 282.5 438.0 282.5 438.8 282.4 439.6 282.5 440.4 282.5 441.2 282.6 441.7 282.8 442.4 283.1 442.8 283.3 443.2 283.6 443.8 284.0 444.3 284.4 444.8 284.8 445.2 285.0 445.6 285.2 446.4 285.5 446.8 285.6 447.6 285.7 448.4 285.8 449.2 285.8 449.8 286.0 450.4 286.4 450.7 286.8 450.9 287.2 451.2 287.9 451.4 288.4 451.5 289.2 451.5 290.0 451.4 290.8 451.2 291.3 450.8 291.9 450.4 292.4 450.0 292.7 449.6 293.1 449.2 293.4 448.8 293.7 448.4 294.1 448.0 294.4 447.6 294.8 447.1 295.2 446.7 295.6 446.2 296.0 445.7 296.4 445.2 296.8 444.8 297.0 444.4 297.3 443.6 297.5 443.2 297.6Z M438.4 296.8 437.6 296.9 436.8 296.9 436.0 297.0 435.2 296.9 434.4 296.8 434.0 296.7 433.2 296.5 432.8 296.4 432.0 296.1 431.6 295.9 431.1 295.6 430.5 295.2 430.0 294.8 429.6 294.4 429.3 294.0 429.0 293.6 428.7 293.2 428.4 292.6 428.2 292.0 428.1 291.2 428.2 290.4 428.4 290.0 428.8 289.3 429.2 288.8 429.6 288.4 430.0 288.0 430.4 287.7 430.8 287.4 431.2 287.1 431.6 286.8 432.2 286.4 432.8 286.1 433.2 285.8 433.6 285.6 434.4 285.2 434.8 285.0 435.2 284.8 436.0 284.4 436.4 284.3 437.2 284.0 437.6 284.0 438.4 283.9 439.2 283.8 440.0 283.9 440.6 284.0 441.2 284.2 441.8 284.4 442.4 284.7 442.8 285.0 443.2 285.3 443.7 285.6 444.3 286.0 444.8 286.3 445.2 286.6 445.7 286.8 446.4 287.1 446.8 287.3 447.5 287.6 448.0 287.9 448.4 288.2 448.8 288.6 449.1 289.2 449.2 290.0 449.1 290.8 448.8 291.4 448.5 292.0 448.2 292.4 447.8 292.8 447.5 293.2 447.1 293.6 446.7 294.0 446.3 294.4 445.9 294.8 445.4 295.2 444.9 295.6 444.4 295.9 444.0 296.1 443.3 296.4 442.8 296.5 442.0 296.6 441.2 296.7 440.4 296.7 439.6 296.7 438.8 296.8 438.4 296.8Z M438.4 295.6 437.6 295.7 436.8 295.7 436.0 295.8 435.2 295.7 434.6 295.6 434.0 295.5 433.3 295.2 432.8 295.0 432.4 294.7 432.0 294.4 431.5 294.0 431.2 293.6 430.8 293.0 430.5 292.4 430.4 291.9 430.4 291.2 430.4 290.8 430.8 290.0 431.0 289.6 431.3 289.2 431.7 288.8 432.1 288.4 432.5 288.0 433.1 287.6 433.6 287.2 434.0 286.9 434.4 286.7 434.8 286.4 435.5 286.0 436.0 285.8 436.4 285.6 437.2 285.3 437.6 285.2 438.4 285.0 439.2 285.0 440.0 285.0 440.7 285.2 441.2 285.4 441.7 285.6 442.3 286.0 442.8 286.3 443.2 286.6 443.6 286.9 444.0 287.2 444.6 287.6 445.1 288.0 445.6 288.3 446.0 288.6 446.4 289.0 446.8 289.5 447.0 290.0 447.1 290.8 446.8 291.6 446.6 292.0 446.4 292.4 446.0 292.9 445.6 293.4 445.2 293.8 444.8 294.1 444.4 294.4 443.8 294.8 443.2 295.0 442.7 295.2 442.0 295.3 441.2 295.4 440.4 295.4 439.6 295.5 438.8 295.6 438.4 295.6Z M442.0 294.1 441.2 294.2 440.4 294.2 439.6 294.3 438.8 294.3 438.0 294.3 437.2 294.3 436.4 294.3 435.6 294.2 435.0 294.0 434.4 293.7 434.0 293.4 433.6 292.9 433.3 292.4 433.2 292.0 433.1 291.2 433.2 290.4 433.3 290.0 433.6 289.3 433.9 288.8 434.3 288.4 434.6 288.0 435.1 287.6 435.6 287.2 436.0 286.9 436.4 286.7 436.9 286.4 437.6 286.1 438.0 286.0 438.8 285.9 439.6 285.9 440.3 286.0 440.8 286.2 441.3 286.4 441.9 286.8 442.4 287.1 442.8 287.5 443.2 287.8 443.6 288.2 444.0 288.5 444.4 288.9 444.8 289.4 445.2 289.9 445.4 290.4 445.4 291.2 445.2 291.7 444.8 292.4 444.5 292.8 444.0 293.2 443.6 293.5 443.2 293.7 442.4 294.0 442.0 294.1Z" fill="none" stroke="#1a1a1a" stroke-width="0.8" stroke-linejoin="round"/>
<text transform="translate(-0.12,14.42) scale(0.9535,1)" font-size="20.71" font-weight="bold" letter-spacing="0.000" fill="#000" stroke="#000" stroke-width="0.35" xml:space="preserve">A</text><text transform="translate(16.36,42.12) scale(1.0368,1)" font-size="15.77" font-weight="bold" letter-spacing="1.171" fill="#000" stroke="#000" stroke-width="0.35" xml:space="preserve">WT/WT</text><text transform="translate(14.90,203.55) scale(1.0106,1)" font-size="17.44" font-weight="bold" letter-spacing="0.343" fill="#000" stroke="#000" stroke-width="0.35" xml:space="preserve">KO/KO</text><path d="M12.5,170.0 L14.8,170.0 L18.1,170.0 L22.0,169.9 L26.1,169.7 L30.0,169.3 L33.9,168.5 L38.1,167.4 L42.2,166.1 L46.3,164.9 L50.0,164.0 L53.4,163.3 L56.7,162.8 L59.8,162.4 L62.6,162.1 L65.0,161.8 L66.9,161.6 L68.5,161.5 L69.7,161.4 L70.9,161.2 L72.0,161.0 L73.2,160.6 L74.2,160.2 L75.2,159.7 L76.2,159.2 L77.0,158.5 L77.7,157.8 L78.3,157.1 L78.8,156.3 L79.4,155.3 L80.0,154.0 L80.8,152.3 L81.6,150.1 L82.5,147.8 L83.3,145.5 L84.0,143.4 L84.6,141.5 L85.1,139.7 L85.6,137.9 L86.0,136.0 L86.5,134.0 L86.9,132.1 L87.4,130.3 L87.8,128.2 L88.2,125.6 L88.7,122.0 L89.3,117.0 L89.9,111.0 L90.5,104.4 L91.1,97.9 L91.6,92.0 L92.0,86.8 L92.4,81.8 L92.7,77.1 L93.0,72.6 L93.4,68.4 L93.9,64.1 L94.5,59.7 L95.1,55.7 L95.7,52.5 L96.2,50.7 L96.6,50.5 L97.0,51.6 L97.4,53.6 L97.8,55.9 L98.2,58.0 L98.6,60.3 L99.1,63.0 L99.6,65.8 L100.0,68.2 L100.5,69.6 L101.0,69.8 L101.5,69.2 L102.1,68.1 L102.6,67.1 L103.0,66.5 L103.4,66.4 L103.6,66.4 L103.9,66.6 L104.2,67.1 L104.6,68.0 L105.1,69.4 L105.7,71.2 L106.3,73.3 L107.0,75.6 L107.5,78.0 L107.9,80.4 L108.3,82.9 L108.6,85.5 L109.0,88.5 L109.4,92.0 L109.9,96.1 L110.4,100.9 L111.0,105.9 L111.6,110.8 L112.2,115.3 L112.8,119.4 L113.5,123.2 L114.2,126.9 L114.9,130.5 L115.7,134.0 L116.5,137.5 L117.4,141.0 L118.4,144.4 L119.4,147.5 L120.4,150.5 L121.4,153.2 L122.5,155.8 L123.6,158.2 L124.8,160.3 L126.2,162.2 L127.8,163.8 L129.5,165.2 L131.3,166.3 L133.4,167.2 L135.6,168.0 L138.3,168.5 L141.4,168.8 L144.6,169.0 L147.5,169.1 L149.7,169.2 L151.0,169.4 L151.8,169.6 L152.1,169.8 L152.3,169.9 L152.5,170.0 Z" fill="#7f7f7f" stroke="#333" stroke-width="0.8" stroke-linejoin="round"/><rect x="12.3" y="50.5" width="140.2" height="119.5" fill="none" stroke="#222" stroke-width="1"/><line x1="72" y1="50.5" x2="72" y2="170" stroke="#555" stroke-width="1"/><line x1="12.3" y1="146" x2="72" y2="146" stroke="#777" stroke-width="1"/><line x1="14.30" y1="170" x2="14.30" y2="174" stroke="#111" stroke-width="0.8"/><line x1="24.55" y1="170" x2="24.55" y2="172.5" stroke="#111" stroke-width="0.8"/><line x1="30.55" y1="170" x2="30.55" y2="172.5" stroke="#111" stroke-width="0.8"/><line x1="34.80" y1="170" x2="34.80" y2="172.5" stroke="#111" stroke-width="0.8"/><line x1="38.10" y1="170" x2="38.10" y2="172.5" stroke="#111" stroke-width="0.8"/><line x1="40.80" y1="170" x2="40.80" y2="172.5" stroke="#111" stroke-width="0.8"/><line x1="43.08" y1="170" x2="43.08" y2="172.5" stroke="#111" stroke-width="0.8"/><line x1="45.05" y1="170" x2="45.05" y2="172.5" stroke="#111" stroke-width="0.8"/><line x1="46.79" y1="170" x2="46.79" y2="172.5" stroke="#111" stroke-width="0.8"/><line x1="48.35" y1="170" x2="48.35" y2="174" stroke="#111" stroke-width="0.8"/><line x1="58.60" y1="170" x2="58.60" y2="172.5" stroke="#111" stroke-width="0.8"/><line x1="64.60" y1="170" x2="64.60" y2="172.5" stroke="#111" stroke-width="0.8"/><line x1="68.85" y1="170" x2="68.85" y2="172.5" stroke="#111" stroke-width="0.8"/><line x1="72.15" y1="170" x2="72.15" y2="172.5" stroke="#111" stroke-width="0.8"/><line x1="74.85" y1="170" x2="74.85" y2="172.5" stroke="#111" stroke-width="0.8"/><line x1="77.13" y1="170" x2="77.13" y2="172.5" stroke="#111" stroke-width="0.8"/><line x1="79.10" y1="170" x2="79.10" y2="172.5" stroke="#111" stroke-width="0.8"/><line x1="80.84" y1="170" x2="80.84" y2="172.5" stroke="#111" stroke-width="0.8"/><line x1="82.40" y1="170" x2="82.40" y2="174" stroke="#111" stroke-width="0.8"/><line x1="92.65" y1="170" x2="92.65" y2="172.5" stroke="#111" stroke-width="0.8"/><line x1="98.65" y1="170" x2="98.65" y2="172.5" stroke="#111" stroke-width="0.8"/><line x1="102.90" y1="170" x2="102.90" y2="172.5" stroke="#111" stroke-width="0.8"/><line x1="106.20" y1="170" x2="106.20" y2="172.5" stroke="#111" stroke-width="0.8"/><line x1="108.90" y1="170" x2="108.90" y2="172.5" stroke="#111" stroke-width="0.8"/><line x1="111.18" y1="170" x2="111.18" y2="172.5" stroke="#111" stroke-width="0.8"/><line x1="113.15" y1="170" x2="113.15" y2="172.5" stroke="#111" stroke-width="0.8"/><line x1="114.89" y1="170" x2="114.89" y2="172.5" stroke="#111" stroke-width="0.8"/><line x1="116.45" y1="170" x2="116.45" y2="174" stroke="#111" stroke-width="0.8"/><line x1="126.70" y1="170" x2="126.70" y2="172.5" stroke="#111" stroke-width="0.8"/><line x1="132.70" y1="170" x2="132.70" y2="172.5" stroke="#111" stroke-width="0.8"/><line x1="136.95" y1="170" x2="136.95" y2="172.5" stroke="#111" stroke-width="0.8"/><line x1="140.25" y1="170" x2="140.25" y2="172.5" stroke="#111" stroke-width="0.8"/><line x1="142.95" y1="170" x2="142.95" y2="172.5" stroke="#111" stroke-width="0.8"/><line x1="145.23" y1="170" x2="145.23" y2="172.5" stroke="#111" stroke-width="0.8"/><line x1="147.20" y1="170" x2="147.20" y2="172.5" stroke="#111" stroke-width="0.8"/><line x1="148.94" y1="170" x2="148.94" y2="172.5" stroke="#111" stroke-width="0.8"/><line x1="150.50" y1="170" x2="150.50" y2="174" stroke="#111" stroke-width="0.8"/><line x1="9.0" y1="168.50" x2="12.3" y2="168.50" stroke="#222" stroke-width="0.9"/><line x1="9.0" y1="164.62" x2="12.3" y2="164.62" stroke="#222" stroke-width="0.9"/><line x1="9.0" y1="160.73" x2="12.3" y2="160.73" stroke="#222" stroke-width="0.9"/><line x1="9.0" y1="156.85" x2="12.3" y2="156.85" stroke="#222" stroke-width="0.9"/><line x1="9.0" y1="152.97" x2="12.3" y2="152.97" stroke="#222" stroke-width="0.9"/><line x1="9.0" y1="149.08" x2="12.3" y2="149.08" stroke="#222" stroke-width="0.9"/><line x1="9.0" y1="145.20" x2="12.3" y2="145.20" stroke="#222" stroke-width="0.9"/><line x1="9.0" y1="141.32" x2="12.3" y2="141.32" stroke="#222" stroke-width="0.9"/><line x1="9.0" y1="137.43" x2="12.3" y2="137.43" stroke="#222" stroke-width="0.9"/><line x1="9.0" y1="133.55" x2="12.3" y2="133.55" stroke="#222" stroke-width="0.9"/><line x1="9.0" y1="129.67" x2="12.3" y2="129.67" stroke="#222" stroke-width="0.9"/><line x1="9.0" y1="125.78" x2="12.3" y2="125.78" stroke="#222" stroke-width="0.9"/><line x1="9.0" y1="121.90" x2="12.3" y2="121.90" stroke="#222" stroke-width="0.9"/><line x1="9.0" y1="118.02" x2="12.3" y2="118.02" stroke="#222" stroke-width="0.9"/><line x1="9.0" y1="114.13" x2="12.3" y2="114.13" stroke="#222" stroke-width="0.9"/><line x1="9.0" y1="110.25" x2="12.3" y2="110.25" stroke="#222" stroke-width="0.9"/><line x1="9.0" y1="106.37" x2="12.3" y2="106.37" stroke="#222" stroke-width="0.9"/><line x1="9.0" y1="102.48" x2="12.3" y2="102.48" stroke="#222" stroke-width="0.9"/><line x1="9.0" y1="98.60" x2="12.3" y2="98.60" stroke="#222" stroke-width="0.9"/><line x1="9.0" y1="94.72" x2="12.3" y2="94.72" stroke="#222" stroke-width="0.9"/><line x1="9.0" y1="90.83" x2="12.3" y2="90.83" stroke="#222" stroke-width="0.9"/><line x1="9.0" y1="86.95" x2="12.3" y2="86.95" stroke="#222" stroke-width="0.9"/><line x1="9.0" y1="83.07" x2="12.3" y2="83.07" stroke="#222" stroke-width="0.9"/><line x1="9.0" y1="79.18" x2="12.3" y2="79.18" stroke="#222" stroke-width="0.9"/><line x1="9.0" y1="75.30" x2="12.3" y2="75.30" stroke="#222" stroke-width="0.9"/><line x1="9.0" y1="71.42" x2="12.3" y2="71.42" stroke="#222" stroke-width="0.9"/><line x1="9.0" y1="67.53" x2="12.3" y2="67.53" stroke="#222" stroke-width="0.9"/><line x1="9.0" y1="63.65" x2="12.3" y2="63.65" stroke="#222" stroke-width="0.9"/><line x1="9.0" y1="59.77" x2="12.3" y2="59.77" stroke="#222" stroke-width="0.9"/><line x1="9.0" y1="55.88" x2="12.3" y2="55.88" stroke="#222" stroke-width="0.9"/><line x1="9.0" y1="52.00" x2="12.3" y2="52.00" stroke="#222" stroke-width="0.9"/><path d="M12.5,329.8 L15.4,329.8 L19.5,329.7 L24.2,329.6 L29.2,329.5 L33.8,329.2 L38.3,328.8 L42.9,328.3 L47.5,327.7 L51.8,327.1 L55.4,326.5 L58.3,326.0 L60.7,325.5 L62.7,324.9 L64.4,324.5 L66.0,324.0 L67.4,323.7 L68.6,323.5 L69.5,323.3 L70.4,322.9 L71.2,322.2 L72.0,321.1 L72.8,319.8 L73.4,318.3 L74.1,316.7 L74.7,315.2 L75.3,313.8 L75.9,312.4 L76.4,311.0 L76.9,309.6 L77.5,308.0 L78.1,306.3 L78.7,304.6 L79.3,302.8 L79.9,300.8 L80.5,298.8 L81.2,296.6 L81.9,294.3 L82.6,291.8 L83.3,289.4 L84.0,287.0 L84.7,284.8 L85.5,282.9 L86.2,280.8 L86.9,278.4 L87.6,275.3 L88.2,271.4 L88.9,266.8 L89.4,261.8 L90.0,256.8 L90.6,251.9 L91.2,247.0 L91.8,241.9 L92.3,236.9 L92.9,232.3 L93.4,228.4 L93.9,225.4 L94.3,223.1 L94.7,221.2 L95.1,219.6 L95.5,218.0 L95.8,216.4 L96.1,214.8 L96.4,213.5 L96.7,212.6 L97.0,212.3 L97.3,212.6 L97.6,213.5 L97.9,214.8 L98.2,216.4 L98.5,218.0 L98.8,219.6 L99.0,221.2 L99.3,223.1 L99.6,225.4 L100.0,228.4 L100.5,232.3 L101.0,236.9 L101.6,241.9 L102.2,247.0 L102.8,251.9 L103.5,256.7 L104.1,261.6 L104.9,266.4 L105.6,271.1 L106.3,275.3 L107.0,279.2 L107.8,282.8 L108.5,286.1 L109.2,289.1 L109.8,291.7 L110.3,293.6 L110.7,295.0 L111.1,296.1 L111.6,297.2 L112.2,298.8 L113.0,300.9 L113.9,303.3 L114.8,305.8 L115.9,308.2 L116.9,310.5 L118.0,312.6 L119.0,314.5 L120.2,316.4 L121.4,318.2 L122.7,319.9 L124.2,321.5 L125.7,323.1 L127.4,324.6 L129.1,325.9 L130.9,326.9 L132.7,327.7 L134.4,328.2 L136.3,328.5 L138.2,328.7 L140.3,329.0 L142.7,329.3 L145.5,329.5 L148.2,329.6 L150.6,329.7 L152.3,329.8 Z" fill="#7f7f7f" stroke="#333" stroke-width="0.8" stroke-linejoin="round"/><rect x="12.3" y="211.7" width="140.2" height="118.10000000000002" fill="none" stroke="#222" stroke-width="1"/><line x1="72.4" y1="211.7" x2="72.4" y2="329.8" stroke="#555" stroke-width="1"/><line x1="12.3" y1="299" x2="72.4" y2="299" stroke="#777" stroke-width="1"/><line x1="14.30" y1="329.8" x2="14.30" y2="333.8" stroke="#111" stroke-width="0.8"/><line x1="24.55" y1="329.8" x2="24.55" y2="332.3" stroke="#111" stroke-width="0.8"/><line x1="30.55" y1="329.8" x2="30.55" y2="332.3" stroke="#111" stroke-width="0.8"/><line x1="34.80" y1="329.8" x2="34.80" y2="332.3" stroke="#111" stroke-width="0.8"/><line x1="38.10" y1="329.8" x2="38.10" y2="332.3" stroke="#111" stroke-width="0.8"/><line x1="40.80" y1="329.8" x2="40.80" y2="332.3" stroke="#111" stroke-width="0.8"/><line x1="43.08" y1="329.8" x2="43.08" y2="332.3" stroke="#111" stroke-width="0.8"/><line x1="45.05" y1="329.8" x2="45.05" y2="332.3" stroke="#111" stroke-width="0.8"/><line x1="46.79" y1="329.8" x2="46.79" y2="332.3" stroke="#111" stroke-width="0.8"/><line x1="48.35" y1="329.8" x2="48.35" y2="333.8" stroke="#111" stroke-width="0.8"/><line x1="58.60" y1="329.8" x2="58.60" y2="332.3" stroke="#111" stroke-width="0.8"/><line x1="64.60" y1="329.8" x2="64.60" y2="332.3" stroke="#111" stroke-width="0.8"/><line x1="68.85" y1="329.8" x2="68.85" y2="332.3" stroke="#111" stroke-width="0.8"/><line x1="72.15" y1="329.8" x2="72.15" y2="332.3" stroke="#111" stroke-width="0.8"/><line x1="74.85" y1="329.8" x2="74.85" y2="332.3" stroke="#111" stroke-width="0.8"/><line x1="77.13" y1="329.8" x2="77.13" y2="332.3" stroke="#111" stroke-width="0.8"/><line x1="79.10" y1="329.8" x2="79.10" y2="332.3" stroke="#111" stroke-width="0.8"/><line x1="80.84" y1="329.8" x2="80.84" y2="332.3" stroke="#111" stroke-width="0.8"/><line x1="82.40" y1="329.8" x2="82.40" y2="333.8" stroke="#111" stroke-width="0.8"/><line x1="92.65" y1="329.8" x2="92.65" y2="332.3" stroke="#111" stroke-width="0.8"/><line x1="98.65" y1="329.8" x2="98.65" y2="332.3" stroke="#111" stroke-width="0.8"/><line x1="102.90" y1="329.8" x2="102.90" y2="332.3" stroke="#111" stroke-width="0.8"/><line x1="106.20" y1="329.8" x2="106.20" y2="332.3" stroke="#111" stroke-width="0.8"/><line x1="108.90" y1="329.8" x2="108.90" y2="332.3" stroke="#111" stroke-width="0.8"/><line x1="111.18" y1="329.8" x2="111.18" y2="332.3" stroke="#111" stroke-width="0.8"/><line x1="113.15" y1="329.8" x2="113.15" y2="332.3" stroke="#111" stroke-width="0.8"/><line x1="114.89" y1="329.8" x2="114.89" y2="332.3" stroke="#111" stroke-width="0.8"/><line x1="116.45" y1="329.8" x2="116.45" y2="333.8" stroke="#111" stroke-width="0.8"/><line x1="126.70" y1="329.8" x2="126.70" y2="332.3" stroke="#111" stroke-width="0.8"/><line x1="132.70" y1="329.8" x2="132.70" y2="332.3" stroke="#111" stroke-width="0.8"/><line x1="136.95" y1="329.8" x2="136.95" y2="332.3" stroke="#111" stroke-width="0.8"/><line x1="140.25" y1="329.8" x2="140.25" y2="332.3" stroke="#111" stroke-width="0.8"/><line x1="142.95" y1="329.8" x2="142.95" y2="332.3" stroke="#111" stroke-width="0.8"/><line x1="145.23" y1="329.8" x2="145.23" y2="332.3" stroke="#111" stroke-width="0.8"/><line x1="147.20" y1="329.8" x2="147.20" y2="332.3" stroke="#111" stroke-width="0.8"/><line x1="148.94" y1="329.8" x2="148.94" y2="332.3" stroke="#111" stroke-width="0.8"/><line x1="150.50" y1="329.8" x2="150.50" y2="333.8" stroke="#111" stroke-width="0.8"/><line x1="9.0" y1="328.30" x2="12.3" y2="328.30" stroke="#222" stroke-width="0.9"/><line x1="9.0" y1="324.46" x2="12.3" y2="324.46" stroke="#222" stroke-width="0.9"/><line x1="9.0" y1="320.63" x2="12.3" y2="320.63" stroke="#222" stroke-width="0.9"/><line x1="9.0" y1="316.79" x2="12.3" y2="316.79" stroke="#222" stroke-width="0.9"/><line x1="9.0" y1="312.95" x2="12.3" y2="312.95" stroke="#222" stroke-width="0.9"/><line x1="9.0" y1="309.12" x2="12.3" y2="309.12" stroke="#222" stroke-width="0.9"/><line x1="9.0" y1="305.28" x2="12.3" y2="305.28" stroke="#222" stroke-width="0.9"/><line x1="9.0" y1="301.44" x2="12.3" y2="301.44" stroke="#222" stroke-width="0.9"/><line x1="9.0" y1="297.61" x2="12.3" y2="297.61" stroke="#222" stroke-width="0.9"/><line x1="9.0" y1="293.77" x2="12.3" y2="293.77" stroke="#222" stroke-width="0.9"/><line x1="9.0" y1="289.93" x2="12.3" y2="289.93" stroke="#222" stroke-width="0.9"/><line x1="9.0" y1="286.10" x2="12.3" y2="286.10" stroke="#222" stroke-width="0.9"/><line x1="9.0" y1="282.26" x2="12.3" y2="282.26" stroke="#222" stroke-width="0.9"/><line x1="9.0" y1="278.42" x2="12.3" y2="278.42" stroke="#222" stroke-width="0.9"/><line x1="9.0" y1="274.59" x2="12.3" y2="274.59" stroke="#222" stroke-width="0.9"/><line x1="9.0" y1="270.75" x2="12.3" y2="270.75" stroke="#222" stroke-width="0.9"/><line x1="9.0" y1="266.91" x2="12.3" y2="266.91" stroke="#222" stroke-width="0.9"/><line x1="9.0" y1="263.08" x2="12.3" y2="263.08" stroke="#222" stroke-width="0.9"/><line x1="9.0" y1="259.24" x2="12.3" y2="259.24" stroke="#222" stroke-width="0.9"/><line x1="9.0" y1="255.40" x2="12.3" y2="255.40" stroke="#222" stroke-width="0.9"/><line x1="9.0" y1="251.57" x2="12.3" y2="251.57" stroke="#222" stroke-width="0.9"/><line x1="9.0" y1="247.73" x2="12.3" y2="247.73" stroke="#222" stroke-width="0.9"/><line x1="9.0" y1="243.89" x2="12.3" y2="243.89" stroke="#222" stroke-width="0.9"/><line x1="9.0" y1="240.06" x2="12.3" y2="240.06" stroke="#222" stroke-width="0.9"/><line x1="9.0" y1="236.22" x2="12.3" y2="236.22" stroke="#222" stroke-width="0.9"/><line x1="9.0" y1="232.38" x2="12.3" y2="232.38" stroke="#222" stroke-width="0.9"/><line x1="9.0" y1="228.55" x2="12.3" y2="228.55" stroke="#222" stroke-width="0.9"/><line x1="9.0" y1="224.71" x2="12.3" y2="224.71" stroke="#222" stroke-width="0.9"/><line x1="9.0" y1="220.87" x2="12.3" y2="220.87" stroke="#222" stroke-width="0.9"/><line x1="9.0" y1="217.04" x2="12.3" y2="217.04" stroke="#222" stroke-width="0.9"/><line x1="9.0" y1="213.20" x2="12.3" y2="213.20" stroke="#222" stroke-width="0.9"/><text transform="translate(26.93,137.42) scale(1.0285,1)" font-size="16.64" font-weight="bold" letter-spacing="0.773" fill="#000" stroke="#000" stroke-width="0.35" xml:space="preserve">Lin</text><line x1="55.8" y1="126.8" x2="58.7" y2="126.8" stroke="#000" stroke-width="1.3"/><text transform="translate(16.29,162.49) scale(1.1312,1)" font-size="14.19" font-weight="bold" letter-spacing="0.000" fill="#000" stroke="#000" stroke-width="0.35" xml:space="preserve">6.5 %</text><text transform="translate(26.91,292.02) scale(1.0205,1)" font-size="17.08" font-weight="bold" letter-spacing="0.569" fill="#000" stroke="#000" stroke-width="0.35" xml:space="preserve">Lin</text><line x1="55.8" y1="281.1" x2="58.7" y2="281.1" stroke="#000" stroke-width="1.3"/><text transform="translate(19.79,319.08) scale(1.0563,1)" font-size="14.98" font-weight="bold" letter-spacing="0.000" fill="#000" stroke="#000" stroke-width="0.35" xml:space="preserve">5.4 %</text><line x1="24.3" y1="348.9" x2="53.7" y2="348.9" stroke="#000" stroke-width="2"/><text transform="translate(63.64,354.02) scale(1.0229,1)" font-size="15.19" font-weight="bold" letter-spacing="0.565" fill="#000" stroke="#000" stroke-width="0.35" xml:space="preserve">Lin</text><line x1="97.4" y1="348.9" x2="127.5" y2="348.9" stroke="#000" stroke-width="2.1"/><path d="M125.5,344.7 L139,348.9 L125.5,353.09999999999997 L128.5,348.9 Z" fill="#000"/><text transform="translate(193.65,30.84) scale(1.0358,1)" font-size="16.39" font-weight="normal" letter-spacing="0.759" fill="#000" stroke="#000" stroke-width="0.12" xml:space="preserve">gated on</text><text transform="translate(270.48,31.14) scale(1.0162,1)" font-size="17.70" font-weight="normal" letter-spacing="0.402" fill="#000" stroke="#000" stroke-width="0.12" xml:space="preserve">Lin</text><line x1="296.5" y1="20.3" x2="299.2" y2="20.3" stroke="#000" stroke-width="1"/><text transform="translate(303.53,30.98) scale(1.0379,1)" font-size="16.59" font-weight="normal" letter-spacing="0.722" fill="#000" stroke="#000" stroke-width="0.12" xml:space="preserve">cells</text><rect x="194.5" y="37.3" width="145.5" height="131.7" fill="none" stroke="#222" stroke-width="1"/><rect x="252.8" y="61.4" width="64.39999999999998" height="37.4" fill="none" stroke="#333" stroke-width="1"/><line x1="196.50" y1="169" x2="196.50" y2="173" stroke="#111" stroke-width="0.8"/><line x1="207.15" y1="169" x2="207.15" y2="171.5" stroke="#111" stroke-width="0.8"/><line x1="213.38" y1="169" x2="213.38" y2="171.5" stroke="#111" stroke-width="0.8"/><line x1="217.80" y1="169" x2="217.80" y2="171.5" stroke="#111" stroke-width="0.8"/><line x1="221.23" y1="169" x2="221.23" y2="171.5" stroke="#111" stroke-width="0.8"/><line x1="224.03" y1="169" x2="224.03" y2="171.5" stroke="#111" stroke-width="0.8"/><line x1="226.40" y1="169" x2="226.40" y2="171.5" stroke="#111" stroke-width="0.8"/><line x1="228.45" y1="169" x2="228.45" y2="171.5" stroke="#111" stroke-width="0.8"/><line x1="230.26" y1="169" x2="230.26" y2="171.5" stroke="#111" stroke-width="0.8"/><line x1="231.88" y1="169" x2="231.88" y2="173" stroke="#111" stroke-width="0.8"/><line x1="242.52" y1="169" x2="242.52" y2="171.5" stroke="#111" stroke-width="0.8"/><line x1="248.75" y1="169" x2="248.75" y2="171.5" stroke="#111" stroke-width="0.8"/><line x1="253.17" y1="169" x2="253.17" y2="171.5" stroke="#111" stroke-width="0.8"/><line x1="256.60" y1="169" x2="256.60" y2="171.5" stroke="#111" stroke-width="0.8"/><line x1="259.40" y1="169" x2="259.40" y2="171.5" stroke="#111" stroke-width="0.8"/><line x1="261.77" y1="169" x2="261.77" y2="171.5" stroke="#111" stroke-width="0.8"/><line x1="263.82" y1="169" x2="263.82" y2="171.5" stroke="#111" stroke-width="0.8"/><line x1="265.63" y1="169" x2="265.63" y2="171.5" stroke="#111" stroke-width="0.8"/><line x1="267.25" y1="169" x2="267.25" y2="173" stroke="#111" stroke-width="0.8"/><line x1="277.90" y1="169" x2="277.90" y2="171.5" stroke="#111" stroke-width="0.8"/><line x1="284.13" y1="169" x2="284.13" y2="171.5" stroke="#111" stroke-width="0.8"/><line x1="288.55" y1="169" x2="288.55" y2="171.5" stroke="#111" stroke-width="0.8"/><line x1="291.98" y1="169" x2="291.98" y2="171.5" stroke="#111" stroke-width="0.8"/><line x1="294.78" y1="169" x2="294.78" y2="171.5" stroke="#111" stroke-width="0.8"/><line x1="297.15" y1="169" x2="297.15" y2="171.5" stroke="#111" stroke-width="0.8"/><line x1="299.20" y1="169" x2="299.20" y2="171.5" stroke="#111" stroke-width="0.8"/><line x1="301.01" y1="169" x2="301.01" y2="171.5" stroke="#111" stroke-width="0.8"/><line x1="302.62" y1="169" x2="302.62" y2="173" stroke="#111" stroke-width="0.8"/><line x1="313.27" y1="169" x2="313.27" y2="171.5" stroke="#111" stroke-width="0.8"/><line x1="319.50" y1="169" x2="319.50" y2="171.5" stroke="#111" stroke-width="0.8"/><line x1="323.92" y1="169" x2="323.92" y2="171.5" stroke="#111" stroke-width="0.8"/><line x1="327.35" y1="169" x2="327.35" y2="171.5" stroke="#111" stroke-width="0.8"/><line x1="330.15" y1="169" x2="330.15" y2="171.5" stroke="#111" stroke-width="0.8"/><line x1="332.52" y1="169" x2="332.52" y2="171.5" stroke="#111" stroke-width="0.8"/><line x1="334.57" y1="169" x2="334.57" y2="171.5" stroke="#111" stroke-width="0.8"/><line x1="336.38" y1="169" x2="336.38" y2="171.5" stroke="#111" stroke-width="0.8"/><line x1="338.00" y1="169" x2="338.00" y2="173" stroke="#111" stroke-width="0.8"/><line x1="190.5" y1="167.00" x2="194.5" y2="167.00" stroke="#111" stroke-width="0.8"/><line x1="192.0" y1="157.39" x2="194.5" y2="157.39" stroke="#111" stroke-width="0.8"/><line x1="192.0" y1="151.77" x2="194.5" y2="151.77" stroke="#111" stroke-width="0.8"/><line x1="192.0" y1="147.78" x2="194.5" y2="147.78" stroke="#111" stroke-width="0.8"/><line x1="192.0" y1="144.69" x2="194.5" y2="144.69" stroke="#111" stroke-width="0.8"/><line x1="192.0" y1="142.16" x2="194.5" y2="142.16" stroke="#111" stroke-width="0.8"/><line x1="192.0" y1="140.02" x2="194.5" y2="140.02" stroke="#111" stroke-width="0.8"/><line x1="192.0" y1="138.17" x2="194.5" y2="138.17" stroke="#111" stroke-width="0.8"/><line x1="192.0" y1="136.54" x2="194.5" y2="136.54" stroke="#111" stroke-width="0.8"/><line x1="190.5" y1="135.07" x2="194.5" y2="135.07" stroke="#111" stroke-width="0.8"/><line x1="192.0" y1="125.46" x2="194.5" y2="125.46" stroke="#111" stroke-width="0.8"/><line x1="192.0" y1="119.84" x2="194.5" y2="119.84" stroke="#111" stroke-width="0.8"/><line x1="192.0" y1="115.85" x2="194.5" y2="115.85" stroke="#111" stroke-width="0.8"/><line x1="192.0" y1="112.76" x2="194.5" y2="112.76" stroke="#111" stroke-width="0.8"/><line x1="192.0" y1="110.23" x2="194.5" y2="110.23" stroke="#111" stroke-width="0.8"/><line x1="192.0" y1="108.10" x2="194.5" y2="108.10" stroke="#111" stroke-width="0.8"/><line x1="192.0" y1="106.24" x2="194.5" y2="106.24" stroke="#111" stroke-width="0.8"/><line x1="192.0" y1="104.61" x2="194.5" y2="104.61" stroke="#111" stroke-width="0.8"/><line x1="190.5" y1="103.15" x2="194.5" y2="103.15" stroke="#111" stroke-width="0.8"/><line x1="192.0" y1="93.54" x2="194.5" y2="93.54" stroke="#111" stroke-width="0.8"/><line x1="192.0" y1="87.92" x2="194.5" y2="87.92" stroke="#111" stroke-width="0.8"/><line x1="192.0" y1="83.93" x2="194.5" y2="83.93" stroke="#111" stroke-width="0.8"/><line x1="192.0" y1="80.84" x2="194.5" y2="80.84" stroke="#111" stroke-width="0.8"/><line x1="192.0" y1="78.31" x2="194.5" y2="78.31" stroke="#111" stroke-width="0.8"/><line x1="192.0" y1="76.17" x2="194.5" y2="76.17" stroke="#111" stroke-width="0.8"/><line x1="192.0" y1="74.32" x2="194.5" y2="74.32" stroke="#111" stroke-width="0.8"/><line x1="192.0" y1="72.69" x2="194.5" y2="72.69" stroke="#111" stroke-width="0.8"/><line x1="190.5" y1="71.22" x2="194.5" y2="71.22" stroke="#111" stroke-width="0.8"/><line x1="192.0" y1="61.61" x2="194.5" y2="61.61" stroke="#111" stroke-width="0.8"/><line x1="192.0" y1="55.99" x2="194.5" y2="55.99" stroke="#111" stroke-width="0.8"/><line x1="192.0" y1="52.00" x2="194.5" y2="52.00" stroke="#111" stroke-width="0.8"/><line x1="192.0" y1="48.91" x2="194.5" y2="48.91" stroke="#111" stroke-width="0.8"/><line x1="192.0" y1="46.38" x2="194.5" y2="46.38" stroke="#111" stroke-width="0.8"/><line x1="192.0" y1="44.25" x2="194.5" y2="44.25" stroke="#111" stroke-width="0.8"/><line x1="192.0" y1="42.39" x2="194.5" y2="42.39" stroke="#111" stroke-width="0.8"/><line x1="192.0" y1="40.76" x2="194.5" y2="40.76" stroke="#111" stroke-width="0.8"/><line x1="190.5" y1="39.30" x2="194.5" y2="39.30" stroke="#111" stroke-width="0.8"/><rect x="194.5" y="199.9" width="145.5" height="130.1" fill="none" stroke="#222" stroke-width="1"/><rect x="252.8" y="223.8" width="64.39999999999998" height="36.69999999999999" fill="none" stroke="#333" stroke-width="1"/><line x1="196.50" y1="330" x2="196.50" y2="334" stroke="#111" stroke-width="0.8"/><line x1="207.15" y1="330" x2="207.15" y2="332.5" stroke="#111" stroke-width="0.8"/><line x1="213.38" y1="330" x2="213.38" y2="332.5" stroke="#111" stroke-width="0.8"/><line x1="217.80" y1="330" x2="217.80" y2="332.5" stroke="#111" stroke-width="0.8"/><line x1="221.23" y1="330" x2="221.23" y2="332.5" stroke="#111" stroke-width="0.8"/><line x1="224.03" y1="330" x2="224.03" y2="332.5" stroke="#111" stroke-width="0.8"/><line x1="226.40" y1="330" x2="226.40" y2="332.5" stroke="#111" stroke-width="0.8"/><line x1="228.45" y1="330" x2="228.45" y2="332.5" stroke="#111" stroke-width="0.8"/><line x1="230.26" y1="330" x2="230.26" y2="332.5" stroke="#111" stroke-width="0.8"/><line x1="231.88" y1="330" x2="231.88" y2="334" stroke="#111" stroke-width="0.8"/><line x1="242.52" y1="330" x2="242.52" y2="332.5" stroke="#111" stroke-width="0.8"/><line x1="248.75" y1="330" x2="248.75" y2="332.5" stroke="#111" stroke-width="0.8"/><line x1="253.17" y1="330" x2="253.17" y2="332.5" stroke="#111" stroke-width="0.8"/><line x1="256.60" y1="330" x2="256.60" y2="332.5" stroke="#111" stroke-width="0.8"/><line x1="259.40" y1="330" x2="259.40" y2="332.5" stroke="#111" stroke-width="0.8"/><line x1="261.77" y1="330" x2="261.77" y2="332.5" stroke="#111" stroke-width="0.8"/><line x1="263.82" y1="330" x2="263.82" y2="332.5" stroke="#111" stroke-width="0.8"/><line x1="265.63" y1="330" x2="265.63" y2="332.5" stroke="#111" stroke-width="0.8"/><line x1="267.25" y1="330" x2="267.25" y2="334" stroke="#111" stroke-width="0.8"/><line x1="277.90" y1="330" x2="277.90" y2="332.5" stroke="#111" stroke-width="0.8"/><line x1="284.13" y1="330" x2="284.13" y2="332.5" stroke="#111" stroke-width="0.8"/><line x1="288.55" y1="330" x2="288.55" y2="332.5" stroke="#111" stroke-width="0.8"/><line x1="291.98" y1="330" x2="291.98" y2="332.5" stroke="#111" stroke-width="0.8"/><line x1="294.78" y1="330" x2="294.78" y2="332.5" stroke="#111" stroke-width="0.8"/><line x1="297.15" y1="330" x2="297.15" y2="332.5" stroke="#111" stroke-width="0.8"/><line x1="299.20" y1="330" x2="299.20" y2="332.5" stroke="#111" stroke-width="0.8"/><line x1="301.01" y1="330" x2="301.01" y2="332.5" stroke="#111" stroke-width="0.8"/><line x1="302.62" y1="330" x2="302.62" y2="334" stroke="#111" stroke-width="0.8"/><line x1="313.27" y1="330" x2="313.27" y2="332.5" stroke="#111" stroke-width="0.8"/><line x1="319.50" y1="330" x2="319.50" y2="332.5" stroke="#111" stroke-width="0.8"/><line x1="323.92" y1="330" x2="323.92" y2="332.5" stroke="#111" stroke-width="0.8"/><line x1="327.35" y1="330" x2="327.35" y2="332.5" stroke="#111" stroke-width="0.8"/><line x1="330.15" y1="330" x2="330.15" y2="332.5" stroke="#111" stroke-width="0.8"/><line x1="332.52" y1="330" x2="332.52" y2="332.5" stroke="#111" stroke-width="0.8"/><line x1="334.57" y1="330" x2="334.57" y2="332.5" stroke="#111" stroke-width="0.8"/><line x1="336.38" y1="330" x2="336.38" y2="332.5" stroke="#111" stroke-width="0.8"/><line x1="338.00" y1="330" x2="338.00" y2="334" stroke="#111" stroke-width="0.8"/><line x1="190.5" y1="328.00" x2="194.5" y2="328.00" stroke="#111" stroke-width="0.8"/><line x1="192.0" y1="318.51" x2="194.5" y2="318.51" stroke="#111" stroke-width="0.8"/><line x1="192.0" y1="312.96" x2="194.5" y2="312.96" stroke="#111" stroke-width="0.8"/><line x1="192.0" y1="309.02" x2="194.5" y2="309.02" stroke="#111" stroke-width="0.8"/><line x1="192.0" y1="305.96" x2="194.5" y2="305.96" stroke="#111" stroke-width="0.8"/><line x1="192.0" y1="303.47" x2="194.5" y2="303.47" stroke="#111" stroke-width="0.8"/><line x1="192.0" y1="301.36" x2="194.5" y2="301.36" stroke="#111" stroke-width="0.8"/><line x1="192.0" y1="299.53" x2="194.5" y2="299.53" stroke="#111" stroke-width="0.8"/><line x1="192.0" y1="297.92" x2="194.5" y2="297.92" stroke="#111" stroke-width="0.8"/><line x1="190.5" y1="296.48" x2="194.5" y2="296.48" stroke="#111" stroke-width="0.8"/><line x1="192.0" y1="286.99" x2="194.5" y2="286.99" stroke="#111" stroke-width="0.8"/><line x1="192.0" y1="281.43" x2="194.5" y2="281.43" stroke="#111" stroke-width="0.8"/><line x1="192.0" y1="277.50" x2="194.5" y2="277.50" stroke="#111" stroke-width="0.8"/><line x1="192.0" y1="274.44" x2="194.5" y2="274.44" stroke="#111" stroke-width="0.8"/><line x1="192.0" y1="271.94" x2="194.5" y2="271.94" stroke="#111" stroke-width="0.8"/><line x1="192.0" y1="269.83" x2="194.5" y2="269.83" stroke="#111" stroke-width="0.8"/><line x1="192.0" y1="268.01" x2="194.5" y2="268.01" stroke="#111" stroke-width="0.8"/><line x1="192.0" y1="266.39" x2="194.5" y2="266.39" stroke="#111" stroke-width="0.8"/><line x1="190.5" y1="264.95" x2="194.5" y2="264.95" stroke="#111" stroke-width="0.8"/><line x1="192.0" y1="255.46" x2="194.5" y2="255.46" stroke="#111" stroke-width="0.8"/><line x1="192.0" y1="249.91" x2="194.5" y2="249.91" stroke="#111" stroke-width="0.8"/><line x1="192.0" y1="245.97" x2="194.5" y2="245.97" stroke="#111" stroke-width="0.8"/><line x1="192.0" y1="242.91" x2="194.5" y2="242.91" stroke="#111" stroke-width="0.8"/><line x1="192.0" y1="240.42" x2="194.5" y2="240.42" stroke="#111" stroke-width="0.8"/><line x1="192.0" y1="238.31" x2="194.5" y2="238.31" stroke="#111" stroke-width="0.8"/><line x1="192.0" y1="236.48" x2="194.5" y2="236.48" stroke="#111" stroke-width="0.8"/><line x1="192.0" y1="234.87" x2="194.5" y2="234.87" stroke="#111" stroke-width="0.8"/><line x1="190.5" y1="233.43" x2="194.5" y2="233.43" stroke="#111" stroke-width="0.8"/><line x1="192.0" y1="223.94" x2="194.5" y2="223.94" stroke="#111" stroke-width="0.8"/><line x1="192.0" y1="218.38" x2="194.5" y2="218.38" stroke="#111" stroke-width="0.8"/><line x1="192.0" y1="214.45" x2="194.5" y2="214.45" stroke="#111" stroke-width="0.8"/><line x1="192.0" y1="211.39" x2="194.5" y2="211.39" stroke="#111" stroke-width="0.8"/><line x1="192.0" y1="208.89" x2="194.5" y2="208.89" stroke="#111" stroke-width="0.8"/><line x1="192.0" y1="206.78" x2="194.5" y2="206.78" stroke="#111" stroke-width="0.8"/><line x1="192.0" y1="204.96" x2="194.5" y2="204.96" stroke="#111" stroke-width="0.8"/><line x1="192.0" y1="203.34" x2="194.5" y2="203.34" stroke="#111" stroke-width="0.8"/><line x1="190.5" y1="201.90" x2="194.5" y2="201.90" stroke="#111" stroke-width="0.8"/><text transform="translate(262.84,56.49) scale(1.1597,1)" font-size="13.77" font-weight="bold" letter-spacing="0.000" fill="#000" stroke="#000" stroke-width="0.35" xml:space="preserve">0.079 %</text><text transform="translate(263.25,217.19) scale(1.1882,1)" font-size="13.35" font-weight="bold" letter-spacing="0.000" fill="#000" stroke="#000" stroke-width="0.35" xml:space="preserve">0.026 %</text><line x1="179.6" y1="76" x2="179.6" y2="159.1" stroke="#000" stroke-width="2"/><path d="M175.29999999999998,78 L179.6,64 L183.9,78 L179.6,75 Z" fill="#000"/><line x1="179.6" y1="210.6" x2="179.6" y2="307.5" stroke="#000" stroke-width="2"/><text transform="translate(183.22,194.67) rotate(-90) scale(0.9851,1)" font-size="18.82" font-weight="bold" letter-spacing="-0.406" stroke="#000" stroke-width="0.35" xml:space="preserve">Kit</text><line x1="209" y1="349.1" x2="242.3" y2="349.1" stroke="#000" stroke-width="2"/><text transform="translate(251.22,353.77) scale(0.9963,1)" font-size="15.75" font-weight="bold" letter-spacing="-0.102" fill="#000" stroke="#000" stroke-width="0.35" xml:space="preserve">Sca1</text><line x1="291.7" y1="349.1" x2="316.0" y2="349.1" stroke="#000" stroke-width="2.1"/><path d="M314.0,344.90000000000003 L327.5,349.1 L314.0,353.3 L317.0,349.1 Z" fill="#000"/><text transform="translate(407.85,14.24) scale(1.0385,1)" font-size="16.39" font-weight="normal" letter-spacing="0.817" fill="#000" stroke="#000" stroke-width="0.12" xml:space="preserve">gated on</text><text transform="translate(383.29,32.54) scale(1.0368,1)" font-size="16.10" font-weight="normal" letter-spacing="0.764" fill="#000" stroke="#000" stroke-width="0.12" xml:space="preserve">Kit</text><line x1="404.9" y1="25.2" x2="410" y2="25.2" stroke="#000" stroke-width="0.9"/><line x1="407.45" y1="22.9" x2="407.45" y2="27.5" stroke="#000" stroke-width="0.9"/><text transform="translate(414.42,32.39) scale(1.0385,1)" font-size="15.65" font-weight="normal" letter-spacing="1.049" fill="#000" stroke="#000" stroke-width="0.12" xml:space="preserve">Sca1</text><line x1="457.2" y1="25.2" x2="461.2" y2="25.2" stroke="#000" stroke-width="0.9"/><line x1="459.2" y1="22.9" x2="459.2" y2="27.5" stroke="#000" stroke-width="0.9"/><text transform="translate(467.08,32.39) scale(1.0606,1)" font-size="15.09" font-weight="normal" letter-spacing="1.067" fill="#000" stroke="#000" stroke-width="0.12" xml:space="preserve">cells</text><rect x="375.5" y="39.1" width="142.79999999999995" height="129.9" fill="none" stroke="#333" stroke-width="1"/><line x1="427.6" y1="39.1" x2="427.6" y2="169" stroke="#444" stroke-width="1"/><line x1="375.5" y1="112.4" x2="518.3" y2="112.4" stroke="#444" stroke-width="1"/><line x1="377.50" y1="169" x2="377.50" y2="172" stroke="#333" stroke-width="0.8"/><line x1="387.92" y1="169" x2="387.92" y2="170.8" stroke="#333" stroke-width="0.8"/><line x1="394.02" y1="169" x2="394.02" y2="170.8" stroke="#333" stroke-width="0.8"/><line x1="398.35" y1="169" x2="398.35" y2="170.8" stroke="#333" stroke-width="0.8"/><line x1="401.70" y1="169" x2="401.70" y2="170.8" stroke="#333" stroke-width="0.8"/><line x1="404.44" y1="169" x2="404.44" y2="170.8" stroke="#333" stroke-width="0.8"/><line x1="406.76" y1="169" x2="406.76" y2="170.8" stroke="#333" stroke-width="0.8"/><line x1="408.77" y1="169" x2="408.77" y2="170.8" stroke="#333" stroke-width="0.8"/><line x1="410.54" y1="169" x2="410.54" y2="170.8" stroke="#333" stroke-width="0.8"/><line x1="412.12" y1="169" x2="412.12" y2="172" stroke="#333" stroke-width="0.8"/><line x1="422.55" y1="169" x2="422.55" y2="170.8" stroke="#333" stroke-width="0.8"/><line x1="428.65" y1="169" x2="428.65" y2="170.8" stroke="#333" stroke-width="0.8"/><line x1="432.97" y1="169" x2="432.97" y2="170.8" stroke="#333" stroke-width="0.8"/><line x1="436.33" y1="169" x2="436.33" y2="170.8" stroke="#333" stroke-width="0.8"/><line x1="439.07" y1="169" x2="439.07" y2="170.8" stroke="#333" stroke-width="0.8"/><line x1="441.39" y1="169" x2="441.39" y2="170.8" stroke="#333" stroke-width="0.8"/><line x1="443.39" y1="169" x2="443.39" y2="170.8" stroke="#333" stroke-width="0.8"/><line x1="445.17" y1="169" x2="445.17" y2="170.8" stroke="#333" stroke-width="0.8"/><line x1="446.75" y1="169" x2="446.75" y2="172" stroke="#333" stroke-width="0.8"/><line x1="457.17" y1="169" x2="457.17" y2="170.8" stroke="#333" stroke-width="0.8"/><line x1="463.27" y1="169" x2="463.27" y2="170.8" stroke="#333" stroke-width="0.8"/><line x1="467.60" y1="169" x2="467.60" y2="170.8" stroke="#333" stroke-width="0.8"/><line x1="470.95" y1="169" x2="470.95" y2="170.8" stroke="#333" stroke-width="0.8"/><line x1="473.69" y1="169" x2="473.69" y2="170.8" stroke="#333" stroke-width="0.8"/><line x1="476.01" y1="169" x2="476.01" y2="170.8" stroke="#333" stroke-width="0.8"/><line x1="478.02" y1="169" x2="478.02" y2="170.8" stroke="#333" stroke-width="0.8"/><line x1="479.79" y1="169" x2="479.79" y2="170.8" stroke="#333" stroke-width="0.8"/><line x1="481.38" y1="169" x2="481.38" y2="172" stroke="#333" stroke-width="0.8"/><line x1="491.80" y1="169" x2="491.80" y2="170.8" stroke="#333" stroke-width="0.8"/><line x1="497.90" y1="169" x2="497.90" y2="170.8" stroke="#333" stroke-width="0.8"/><line x1="502.22" y1="169" x2="502.22" y2="170.8" stroke="#333" stroke-width="0.8"/><line x1="505.58" y1="169" x2="505.58" y2="170.8" stroke="#333" stroke-width="0.8"/><line x1="508.32" y1="169" x2="508.32" y2="170.8" stroke="#333" stroke-width="0.8"/><line x1="510.64" y1="169" x2="510.64" y2="170.8" stroke="#333" stroke-width="0.8"/><line x1="512.64" y1="169" x2="512.64" y2="170.8" stroke="#333" stroke-width="0.8"/><line x1="514.42" y1="169" x2="514.42" y2="170.8" stroke="#333" stroke-width="0.8"/><line x1="516.00" y1="169" x2="516.00" y2="172" stroke="#333" stroke-width="0.8"/><line x1="372.5" y1="167.00" x2="375.5" y2="167.00" stroke="#333" stroke-width="0.8"/><line x1="373.7" y1="157.53" x2="375.5" y2="157.53" stroke="#333" stroke-width="0.8"/><line x1="373.7" y1="151.98" x2="375.5" y2="151.98" stroke="#333" stroke-width="0.8"/><line x1="373.7" y1="148.05" x2="375.5" y2="148.05" stroke="#333" stroke-width="0.8"/><line x1="373.7" y1="145.00" x2="375.5" y2="145.00" stroke="#333" stroke-width="0.8"/><line x1="373.7" y1="142.51" x2="375.5" y2="142.51" stroke="#333" stroke-width="0.8"/><line x1="373.7" y1="140.40" x2="375.5" y2="140.40" stroke="#333" stroke-width="0.8"/><line x1="373.7" y1="138.58" x2="375.5" y2="138.58" stroke="#333" stroke-width="0.8"/><line x1="373.7" y1="136.97" x2="375.5" y2="136.97" stroke="#333" stroke-width="0.8"/><line x1="372.5" y1="135.53" x2="375.5" y2="135.53" stroke="#333" stroke-width="0.8"/><line x1="373.7" y1="126.05" x2="375.5" y2="126.05" stroke="#333" stroke-width="0.8"/><line x1="373.7" y1="120.51" x2="375.5" y2="120.51" stroke="#333" stroke-width="0.8"/><line x1="373.7" y1="116.58" x2="375.5" y2="116.58" stroke="#333" stroke-width="0.8"/><line x1="373.7" y1="113.52" x2="375.5" y2="113.52" stroke="#333" stroke-width="0.8"/><line x1="373.7" y1="111.03" x2="375.5" y2="111.03" stroke="#333" stroke-width="0.8"/><line x1="373.7" y1="108.93" x2="375.5" y2="108.93" stroke="#333" stroke-width="0.8"/><line x1="373.7" y1="107.10" x2="375.5" y2="107.10" stroke="#333" stroke-width="0.8"/><line x1="373.7" y1="105.49" x2="375.5" y2="105.49" stroke="#333" stroke-width="0.8"/><line x1="372.5" y1="104.05" x2="375.5" y2="104.05" stroke="#333" stroke-width="0.8"/><line x1="373.7" y1="94.58" x2="375.5" y2="94.58" stroke="#333" stroke-width="0.8"/><line x1="373.7" y1="89.03" x2="375.5" y2="89.03" stroke="#333" stroke-width="0.8"/><line x1="373.7" y1="85.10" x2="375.5" y2="85.10" stroke="#333" stroke-width="0.8"/><line x1="373.7" y1="82.05" x2="375.5" y2="82.05" stroke="#333" stroke-width="0.8"/><line x1="373.7" y1="79.56" x2="375.5" y2="79.56" stroke="#333" stroke-width="0.8"/><line x1="373.7" y1="77.45" x2="375.5" y2="77.45" stroke="#333" stroke-width="0.8"/><line x1="373.7" y1="75.63" x2="375.5" y2="75.63" stroke="#333" stroke-width="0.8"/><line x1="373.7" y1="74.02" x2="375.5" y2="74.02" stroke="#333" stroke-width="0.8"/><line x1="372.5" y1="72.57" x2="375.5" y2="72.57" stroke="#333" stroke-width="0.8"/><line x1="373.7" y1="63.10" x2="375.5" y2="63.10" stroke="#333" stroke-width="0.8"/><line x1="373.7" y1="57.56" x2="375.5" y2="57.56" stroke="#333" stroke-width="0.8"/><line x1="373.7" y1="53.63" x2="375.5" y2="53.63" stroke="#333" stroke-width="0.8"/><line x1="373.7" y1="50.57" x2="375.5" y2="50.57" stroke="#333" stroke-width="0.8"/><line x1="373.7" y1="48.08" x2="375.5" y2="48.08" stroke="#333" stroke-width="0.8"/><line x1="373.7" y1="45.98" x2="375.5" y2="45.98" stroke="#333" stroke-width="0.8"/><line x1="373.7" y1="44.15" x2="375.5" y2="44.15" stroke="#333" stroke-width="0.8"/><line x1="373.7" y1="42.54" x2="375.5" y2="42.54" stroke="#333" stroke-width="0.8"/><line x1="372.5" y1="41.10" x2="375.5" y2="41.10" stroke="#333" stroke-width="0.8"/><rect x="374" y="199.3" width="144.29999999999995" height="129.5" fill="none" stroke="#333" stroke-width="1"/><line x1="426.3" y1="199.3" x2="426.3" y2="328.8" stroke="#444" stroke-width="1"/><line x1="374" y1="272.5" x2="518.3" y2="272.5" stroke="#444" stroke-width="1"/><line x1="376.00" y1="328.8" x2="376.00" y2="331.8" stroke="#333" stroke-width="0.8"/><line x1="386.54" y1="328.8" x2="386.54" y2="330.6" stroke="#333" stroke-width="0.8"/><line x1="392.70" y1="328.8" x2="392.70" y2="330.6" stroke="#333" stroke-width="0.8"/><line x1="397.07" y1="328.8" x2="397.07" y2="330.6" stroke="#333" stroke-width="0.8"/><line x1="400.46" y1="328.8" x2="400.46" y2="330.6" stroke="#333" stroke-width="0.8"/><line x1="403.24" y1="328.8" x2="403.24" y2="330.6" stroke="#333" stroke-width="0.8"/><line x1="405.58" y1="328.8" x2="405.58" y2="330.6" stroke="#333" stroke-width="0.8"/><line x1="407.61" y1="328.8" x2="407.61" y2="330.6" stroke="#333" stroke-width="0.8"/><line x1="409.40" y1="328.8" x2="409.40" y2="330.6" stroke="#333" stroke-width="0.8"/><line x1="411.00" y1="328.8" x2="411.00" y2="331.8" stroke="#333" stroke-width="0.8"/><line x1="421.54" y1="328.8" x2="421.54" y2="330.6" stroke="#333" stroke-width="0.8"/><line x1="427.70" y1="328.8" x2="427.70" y2="330.6" stroke="#333" stroke-width="0.8"/><line x1="432.07" y1="328.8" x2="432.07" y2="330.6" stroke="#333" stroke-width="0.8"/><line x1="435.46" y1="328.8" x2="435.46" y2="330.6" stroke="#333" stroke-width="0.8"/><line x1="438.24" y1="328.8" x2="438.24" y2="330.6" stroke="#333" stroke-width="0.8"/><line x1="440.58" y1="328.8" x2="440.58" y2="330.6" stroke="#333" stroke-width="0.8"/><line x1="442.61" y1="328.8" x2="442.61" y2="330.6" stroke="#333" stroke-width="0.8"/><line x1="444.40" y1="328.8" x2="444.40" y2="330.6" stroke="#333" stroke-width="0.8"/><line x1="446.00" y1="328.8" x2="446.00" y2="331.8" stroke="#333" stroke-width="0.8"/><line x1="456.54" y1="328.8" x2="456.54" y2="330.6" stroke="#333" stroke-width="0.8"/><line x1="462.70" y1="328.8" x2="462.70" y2="330.6" stroke="#333" stroke-width="0.8"/><line x1="467.07" y1="328.8" x2="467.07" y2="330.6" stroke="#333" stroke-width="0.8"/><line x1="470.46" y1="328.8" x2="470.46" y2="330.6" stroke="#333" stroke-width="0.8"/><line x1="473.24" y1="328.8" x2="473.24" y2="330.6" stroke="#333" stroke-width="0.8"/><line x1="475.58" y1="328.8" x2="475.58" y2="330.6" stroke="#333" stroke-width="0.8"/><line x1="477.61" y1="328.8" x2="477.61" y2="330.6" stroke="#333" stroke-width="0.8"/><line x1="479.40" y1="328.8" x2="479.40" y2="330.6" stroke="#333" stroke-width="0.8"/><line x1="481.00" y1="328.8" x2="481.00" y2="331.8" stroke="#333" stroke-width="0.8"/><line x1="491.54" y1="328.8" x2="491.54" y2="330.6" stroke="#333" stroke-width="0.8"/><line x1="497.70" y1="328.8" x2="497.70" y2="330.6" stroke="#333" stroke-width="0.8"/><line x1="502.07" y1="328.8" x2="502.07" y2="330.6" stroke="#333" stroke-width="0.8"/><line x1="505.46" y1="328.8" x2="505.46" y2="330.6" stroke="#333" stroke-width="0.8"/><line x1="508.24" y1="328.8" x2="508.24" y2="330.6" stroke="#333" stroke-width="0.8"/><line x1="510.58" y1="328.8" x2="510.58" y2="330.6" stroke="#333" stroke-width="0.8"/><line x1="512.61" y1="328.8" x2="512.61" y2="330.6" stroke="#333" stroke-width="0.8"/><line x1="514.40" y1="328.8" x2="514.40" y2="330.6" stroke="#333" stroke-width="0.8"/><line x1="516.00" y1="328.8" x2="516.00" y2="331.8" stroke="#333" stroke-width="0.8"/><line x1="371" y1="326.80" x2="374" y2="326.80" stroke="#333" stroke-width="0.8"/><line x1="372.2" y1="317.36" x2="374" y2="317.36" stroke="#333" stroke-width="0.8"/><line x1="372.2" y1="311.83" x2="374" y2="311.83" stroke="#333" stroke-width="0.8"/><line x1="372.2" y1="307.91" x2="374" y2="307.91" stroke="#333" stroke-width="0.8"/><line x1="372.2" y1="304.87" x2="374" y2="304.87" stroke="#333" stroke-width="0.8"/><line x1="372.2" y1="302.39" x2="374" y2="302.39" stroke="#333" stroke-width="0.8"/><line x1="372.2" y1="300.29" x2="374" y2="300.29" stroke="#333" stroke-width="0.8"/><line x1="372.2" y1="298.47" x2="374" y2="298.47" stroke="#333" stroke-width="0.8"/><line x1="372.2" y1="296.86" x2="374" y2="296.86" stroke="#333" stroke-width="0.8"/><line x1="371" y1="295.43" x2="374" y2="295.43" stroke="#333" stroke-width="0.8"/><line x1="372.2" y1="285.98" x2="374" y2="285.98" stroke="#333" stroke-width="0.8"/><line x1="372.2" y1="280.46" x2="374" y2="280.46" stroke="#333" stroke-width="0.8"/><line x1="372.2" y1="276.54" x2="374" y2="276.54" stroke="#333" stroke-width="0.8"/><line x1="372.2" y1="273.49" x2="374" y2="273.49" stroke="#333" stroke-width="0.8"/><line x1="372.2" y1="271.01" x2="374" y2="271.01" stroke="#333" stroke-width="0.8"/><line x1="372.2" y1="268.91" x2="374" y2="268.91" stroke="#333" stroke-width="0.8"/><line x1="372.2" y1="267.09" x2="374" y2="267.09" stroke="#333" stroke-width="0.8"/><line x1="372.2" y1="265.49" x2="374" y2="265.49" stroke="#333" stroke-width="0.8"/><line x1="371" y1="264.05" x2="374" y2="264.05" stroke="#333" stroke-width="0.8"/><line x1="372.2" y1="254.61" x2="374" y2="254.61" stroke="#333" stroke-width="0.8"/><line x1="372.2" y1="249.08" x2="374" y2="249.08" stroke="#333" stroke-width="0.8"/><line x1="372.2" y1="245.16" x2="374" y2="245.16" stroke="#333" stroke-width="0.8"/><line x1="372.2" y1="242.12" x2="374" y2="242.12" stroke="#333" stroke-width="0.8"/><line x1="372.2" y1="239.64" x2="374" y2="239.64" stroke="#333" stroke-width="0.8"/><line x1="372.2" y1="237.54" x2="374" y2="237.54" stroke="#333" stroke-width="0.8"/><line x1="372.2" y1="235.72" x2="374" y2="235.72" stroke="#333" stroke-width="0.8"/><line x1="372.2" y1="234.11" x2="374" y2="234.11" stroke="#333" stroke-width="0.8"/><line x1="371" y1="232.68" x2="374" y2="232.68" stroke="#333" stroke-width="0.8"/><line x1="372.2" y1="223.23" x2="374" y2="223.23" stroke="#333" stroke-width="0.8"/><line x1="372.2" y1="217.71" x2="374" y2="217.71" stroke="#333" stroke-width="0.8"/><line x1="372.2" y1="213.79" x2="374" y2="213.79" stroke="#333" stroke-width="0.8"/><line x1="372.2" y1="210.74" x2="374" y2="210.74" stroke="#333" stroke-width="0.8"/><line x1="372.2" y1="208.26" x2="374" y2="208.26" stroke="#333" stroke-width="0.8"/><line x1="372.2" y1="206.16" x2="374" y2="206.16" stroke="#333" stroke-width="0.8"/><line x1="372.2" y1="204.34" x2="374" y2="204.34" stroke="#333" stroke-width="0.8"/><line x1="372.2" y1="202.74" x2="374" y2="202.74" stroke="#333" stroke-width="0.8"/><line x1="371" y1="201.30" x2="374" y2="201.30" stroke="#333" stroke-width="0.8"/><text transform="translate(468.63,55.28) scale(1.2810,1)" font-size="12.62" font-weight="bold" letter-spacing="0.000" fill="#000" stroke="#000" stroke-width="0.35" xml:space="preserve">45.3%</text><ellipse cx="419.2" cy="98.2" rx="2.5" ry="2.0" fill="none" stroke="#1a1a1a" stroke-width="0.8"/><ellipse cx="467.2" cy="88.1" rx="1.1" ry="1.1" fill="none" stroke="#1a1a1a" stroke-width="0.8"/><ellipse cx="462.1" cy="110.3" rx="1.2" ry="1.2" fill="none" stroke="#1a1a1a" stroke-width="0.8"/><ellipse cx="426.5" cy="160" rx="0.9" ry="0.9" fill="none" stroke="#1a1a1a" stroke-width="0.8"/><text transform="translate(377.67,165.58) scale(1.0963,1)" font-size="15.04" font-weight="bold" letter-spacing="0.000" fill="#000" stroke="#000" stroke-width="0.35" xml:space="preserve">6.4%</text><text transform="translate(468.93,164.08) scale(1.1088,1)" font-size="14.48" font-weight="bold" letter-spacing="0.000" fill="#000" stroke="#000" stroke-width="0.35" xml:space="preserve">48.2%</text><text transform="translate(466.94,218.18) scale(1.1035,1)" font-size="14.83" font-weight="bold" letter-spacing="0.000" fill="#000" stroke="#000" stroke-width="0.35" xml:space="preserve">15.1%</text><text transform="translate(376.27,326.17) scale(1.0721,1)" font-size="15.47" font-weight="bold" letter-spacing="0.000" fill="#000" stroke="#000" stroke-width="0.35" xml:space="preserve">6.4%</text><text transform="translate(466.17,323.79) scale(1.1692,1)" font-size="14.05" font-weight="bold" letter-spacing="0.000" fill="#000" stroke="#000" stroke-width="0.35" xml:space="preserve">78.1%</text><line x1="360" y1="73.3" x2="360" y2="153.8" stroke="#000" stroke-width="2"/><path d="M355.7,75.3 L360,61.3 L364.3,75.3 L360,72.3 Z" fill="#000"/><line x1="360" y1="208.7" x2="360" y2="310" stroke="#000" stroke-width="2"/><text transform="translate(363.66,201.12) rotate(-90) scale(1.0182,1)" font-size="14.59" font-weight="bold" letter-spacing="0.351" stroke="#000" stroke-width="0.35" xml:space="preserve">Flt3</text><line x1="384.5" y1="349.2" x2="407.5" y2="349.2" stroke="#000" stroke-width="2"/><text transform="translate(420.79,355.15) scale(1.0083,1)" font-size="15.36" font-weight="bold" letter-spacing="0.252" fill="#000" stroke="#000" stroke-width="0.35" xml:space="preserve">CD34</text><line x1="473.75" y1="349.2" x2="492.25" y2="349.2" stroke="#000" stroke-width="2.1"/><path d="M490.25,345.0 L503.75,349.2 L490.25,353.4 L493.25,349.2 Z" fill="#000"/><text transform="translate(0.03,394.43) scale(0.9520,1)" font-size="19.55" font-weight="bold" letter-spacing="0.000" fill="#000" stroke="#000" stroke-width="0.35" xml:space="preserve">B</text><text transform="translate(40.42,398.52) scale(1.0367,1)" font-size="14.03" font-weight="bold" letter-spacing="0.676" fill="#000" stroke="#000" stroke-width="0.35" xml:space="preserve">n = 7</text><text transform="translate(27.67,534.26) rotate(-90) scale(0.9790,1)" font-size="15.75" font-weight="bold" letter-spacing="-0.404" stroke="#000" stroke-width="0.35" xml:space="preserve">Cell number (x10</text><text x="0" y="0" transform="translate(20.4,417.2) rotate(-90)" font-size="8.5" font-weight="bold">3</text><text transform="translate(27.16,411.74) rotate(-90) scale(1.1901,1)" font-size="13.79" font-weight="bold" letter-spacing="0.000" stroke="#000" stroke-width="0.35" xml:space="preserve">)</text><line x1="56.7" y1="419.59999999999997" x2="56.7" y2="533.8" stroke="#000" stroke-width="1.7"/><line x1="55.85" y1="532.8" x2="145.6" y2="532.8" stroke="#000" stroke-width="2"/><line x1="53.5" y1="421.2" x2="56.7" y2="421.2" stroke="#000" stroke-width="1.5"/><text transform="translate(34.49,424.97) scale(1.1298,1)" font-size="12.99" font-weight="normal" letter-spacing="0.000" fill="#000" stroke="#000" stroke-width="0.1" xml:space="preserve">50</text><line x1="53.5" y1="443.52" x2="56.7" y2="443.52" stroke="#000" stroke-width="1.5"/><text transform="translate(34.49,447.29) scale(1.1299,1)" font-size="12.99" font-weight="normal" letter-spacing="0.000" fill="#000" stroke="#000" stroke-width="0.1" xml:space="preserve">40</text><line x1="53.5" y1="465.84" x2="56.7" y2="465.84" stroke="#000" stroke-width="1.5"/><text transform="translate(34.49,469.61) scale(1.1298,1)" font-size="12.99" font-weight="normal" letter-spacing="0.000" fill="#000" stroke="#000" stroke-width="0.1" xml:space="preserve">30</text><line x1="53.5" y1="488.15999999999997" x2="56.7" y2="488.15999999999997" stroke="#000" stroke-width="1.5"/><text transform="translate(34.50,491.93) scale(1.1297,1)" font-size="12.99" font-weight="normal" letter-spacing="0.000" fill="#000" stroke="#000" stroke-width="0.1" xml:space="preserve">20</text><line x1="53.5" y1="510.47999999999996" x2="56.7" y2="510.47999999999996" stroke="#000" stroke-width="1.5"/><text transform="translate(34.50,514.25) scale(1.1295,1)" font-size="12.99" font-weight="normal" letter-spacing="0.000" fill="#000" stroke="#000" stroke-width="0.1" xml:space="preserve">10</text><line x1="53.5" y1="532.8" x2="56.7" y2="532.8" stroke="#000" stroke-width="1.5"/><text transform="translate(42.72,536.57) scale(1.1211,1)" font-size="12.99" font-weight="normal" letter-spacing="0.000" fill="#000" stroke="#000" stroke-width="0.1" xml:space="preserve">0</text><rect x="64.6" y="447.7" width="30.0" height="85.09999999999997" fill="#000" stroke="none" stroke-width="1"/><line x1="79.6" y1="431.1" x2="79.6" y2="447.7" stroke="#000" stroke-width="1.5"/><line x1="71.89999999999999" y1="431.1" x2="87.3" y2="431.1" stroke="#000" stroke-width="1.6"/><rect x="106.2" y="495.4" width="30.39999999999999" height="37.39999999999998" fill="#a3a3a3" stroke="none" stroke-width="1"/><line x1="121.4" y1="478.8" x2="121.4" y2="495.4" stroke="#a3a3a3" stroke-width="1.5"/><line x1="113.7" y1="478.8" x2="129.1" y2="478.8" stroke="#a3a3a3" stroke-width="1.6"/><text transform="translate(80.47,552.85) scale(0.9960,1)" font-size="18.15" font-weight="bold" letter-spacing="-0.164" fill="#000" stroke="#000" stroke-width="0.35" xml:space="preserve">LSK</text><line x1="179.7" y1="419.59999999999997" x2="179.7" y2="533.8" stroke="#000" stroke-width="1.7"/><line x1="178.85" y1="532.8" x2="268" y2="532.8" stroke="#000" stroke-width="2"/><line x1="176.5" y1="421.2" x2="179.7" y2="421.2" stroke="#000" stroke-width="1.5"/><text transform="translate(165.39,424.97) scale(1.1210,1)" font-size="12.99" font-weight="normal" letter-spacing="0.000" fill="#000" stroke="#000" stroke-width="0.1" xml:space="preserve">3</text><line x1="176.5" y1="458.4" x2="179.7" y2="458.4" stroke="#000" stroke-width="1.5"/><text transform="translate(165.38,462.30) scale(1.1206,1)" font-size="13.18" font-weight="normal" letter-spacing="0.000" fill="#000" stroke="#000" stroke-width="0.1" xml:space="preserve">2</text><line x1="176.5" y1="495.59999999999997" x2="179.7" y2="495.59999999999997" stroke="#000" stroke-width="1.5"/><text transform="translate(165.25,499.50) scale(1.1199,1)" font-size="13.37" font-weight="normal" letter-spacing="0.000" fill="#000" stroke="#000" stroke-width="0.1" xml:space="preserve">1</text><line x1="176.5" y1="532.8" x2="179.7" y2="532.8" stroke="#000" stroke-width="1.5"/><text transform="translate(165.32,536.57) scale(1.1211,1)" font-size="12.99" font-weight="normal" letter-spacing="0.000" fill="#000" stroke="#000" stroke-width="0.1" xml:space="preserve">0</text><line x1="176.5" y1="514.1999999999999" x2="179.7" y2="514.1999999999999" stroke="#000" stroke-width="1.5"/><line x1="176.5" y1="477.0" x2="179.7" y2="477.0" stroke="#000" stroke-width="1.5"/><line x1="176.5" y1="439.79999999999995" x2="179.7" y2="439.79999999999995" stroke="#000" stroke-width="1.5"/><rect x="191.3" y="452.9" width="27.599999999999994" height="79.89999999999998" fill="#000" stroke="none" stroke-width="1"/><line x1="205.10000000000002" y1="424" x2="205.10000000000002" y2="452.9" stroke="#000" stroke-width="1.5"/><line x1="197.40000000000003" y1="424" x2="212.8" y2="424" stroke="#000" stroke-width="1.6"/><rect x="232.8" y="508.9" width="28.0" height="23.899999999999977" fill="#a3a3a3" stroke="none" stroke-width="1"/><line x1="246.8" y1="498.4" x2="246.8" y2="508.9" stroke="#a3a3a3" stroke-width="1.5"/><line x1="239.10000000000002" y1="498.4" x2="254.5" y2="498.4" stroke="#a3a3a3" stroke-width="1.6"/><text transform="translate(191.68,553.65) scale(0.9940,1)" font-size="18.01" font-weight="bold" letter-spacing="-0.179" fill="#000" stroke="#000" stroke-width="0.35" xml:space="preserve">LT-HSC</text><line x1="303.2" y1="419.59999999999997" x2="303.2" y2="533.8" stroke="#000" stroke-width="1.7"/><line x1="302.34999999999997" y1="532.8" x2="392" y2="532.8" stroke="#000" stroke-width="2"/><line x1="300.0" y1="421.2" x2="303.2" y2="421.2" stroke="#000" stroke-width="1.5"/><text transform="translate(280.59,424.97) scale(1.1298,1)" font-size="12.99" font-weight="normal" letter-spacing="0.000" fill="#000" stroke="#000" stroke-width="0.1" xml:space="preserve">30</text><line x1="300.0" y1="458.4" x2="303.2" y2="458.4" stroke="#000" stroke-width="1.5"/><text transform="translate(280.60,462.17) scale(1.1297,1)" font-size="12.99" font-weight="normal" letter-spacing="-0.000" fill="#000" stroke="#000" stroke-width="0.1" xml:space="preserve">20</text><line x1="300.0" y1="495.59999999999997" x2="303.2" y2="495.59999999999997" stroke="#000" stroke-width="1.5"/><text transform="translate(280.60,499.37) scale(1.1295,1)" font-size="12.99" font-weight="normal" letter-spacing="0.000" fill="#000" stroke="#000" stroke-width="0.1" xml:space="preserve">10</text><line x1="300.0" y1="532.8" x2="303.2" y2="532.8" stroke="#000" stroke-width="1.5"/><text transform="translate(288.82,536.57) scale(1.1211,1)" font-size="12.99" font-weight="normal" letter-spacing="0.000" fill="#000" stroke="#000" stroke-width="0.1" xml:space="preserve">0</text><line x1="300.0" y1="514.1999999999999" x2="303.2" y2="514.1999999999999" stroke="#000" stroke-width="1.5"/><line x1="300.0" y1="477.0" x2="303.2" y2="477.0" stroke="#000" stroke-width="1.5"/><line x1="300.0" y1="439.79999999999995" x2="303.2" y2="439.79999999999995" stroke="#000" stroke-width="1.5"/><rect x="314.3" y="450" width="28.5" height="82.79999999999995" fill="#000" stroke="none" stroke-width="1"/><line x1="328.55" y1="431.4" x2="328.55" y2="450" stroke="#000" stroke-width="1.5"/><line x1="320.85" y1="431.4" x2="336.25" y2="431.4" stroke="#000" stroke-width="1.6"/><rect x="357" y="483.9" width="28.30000000000001" height="48.89999999999998" fill="#a3a3a3" stroke="none" stroke-width="1"/><line x1="371.15" y1="459.7" x2="371.15" y2="483.9" stroke="#a3a3a3" stroke-width="1.5"/><line x1="363.45" y1="459.7" x2="378.84999999999997" y2="459.7" stroke="#a3a3a3" stroke-width="1.6"/><text transform="translate(315.16,554.05) scale(0.9993,1)" font-size="17.87" font-weight="bold" letter-spacing="-0.021" fill="#000" stroke="#000" stroke-width="0.35" xml:space="preserve">ST-HSC</text><line x1="428" y1="419.59999999999997" x2="428" y2="533.8" stroke="#000" stroke-width="1.7"/><line x1="427.15" y1="532.8" x2="519" y2="532.8" stroke="#000" stroke-width="2"/><line x1="424.8" y1="421.2" x2="428" y2="421.2" stroke="#000" stroke-width="1.5"/><text transform="translate(405.40,424.97) scale(1.1297,1)" font-size="12.99" font-weight="normal" letter-spacing="-0.000" fill="#000" stroke="#000" stroke-width="0.1" xml:space="preserve">20</text><line x1="424.8" y1="449.09999999999997" x2="428" y2="449.09999999999997" stroke="#000" stroke-width="1.5"/><text transform="translate(405.21,452.87) scale(1.1296,1)" font-size="13.19" font-weight="normal" letter-spacing="-0.000" fill="#000" stroke="#000" stroke-width="0.1" xml:space="preserve">15</text><line x1="424.8" y1="477.0" x2="428" y2="477.0" stroke="#000" stroke-width="1.5"/><text transform="translate(405.40,480.77) scale(1.1295,1)" font-size="12.99" font-weight="normal" letter-spacing="0.000" fill="#000" stroke="#000" stroke-width="0.1" xml:space="preserve">10</text><line x1="424.8" y1="504.9" x2="428" y2="504.9" stroke="#000" stroke-width="1.5"/><text transform="translate(413.55,508.67) scale(1.1212,1)" font-size="13.19" font-weight="normal" letter-spacing="0.000" fill="#000" stroke="#000" stroke-width="0.1" xml:space="preserve">5</text><line x1="424.8" y1="532.8" x2="428" y2="532.8" stroke="#000" stroke-width="1.5"/><text transform="translate(413.62,536.57) scale(1.1211,1)" font-size="12.99" font-weight="normal" letter-spacing="0.000" fill="#000" stroke="#000" stroke-width="0.1" xml:space="preserve">0</text><line x1="424.8" y1="518.8499999999999" x2="428" y2="518.8499999999999" stroke="#000" stroke-width="1.5"/><line x1="424.8" y1="490.95" x2="428" y2="490.95" stroke="#000" stroke-width="1.5"/><line x1="424.8" y1="463.04999999999995" x2="428" y2="463.04999999999995" stroke="#000" stroke-width="1.5"/><line x1="424.8" y1="435.15" x2="428" y2="435.15" stroke="#000" stroke-width="1.5"/><rect x="439.2" y="455.6" width="28.600000000000023" height="77.19999999999993" fill="#000" stroke="none" stroke-width="1"/><line x1="453.5" y1="423.6" x2="453.5" y2="455.6" stroke="#000" stroke-width="1.5"/><line x1="445.8" y1="423.6" x2="461.2" y2="423.6" stroke="#000" stroke-width="1.6"/><rect x="481.7" y="516.7" width="27.69999999999999" height="16.09999999999991" fill="#a3a3a3" stroke="none" stroke-width="1"/><line x1="495.54999999999995" y1="507" x2="495.54999999999995" y2="516.7" stroke="#a3a3a3" stroke-width="1.5"/><line x1="487.84999999999997" y1="507" x2="503.24999999999994" y2="507" stroke="#a3a3a3" stroke-width="1.6"/><text transform="translate(449.73,553.73) scale(0.9836,1)" font-size="18.97" font-weight="bold" letter-spacing="-0.641" fill="#000" stroke="#000" stroke-width="0.35" xml:space="preserve">LMPP</text><text transform="translate(75.42,416.65) scale(1.0174,1)" font-size="10.61" font-weight="normal" font-style="italic" letter-spacing="0.000" fill="#000" stroke="#000" stroke-width="0.1" xml:space="preserve">P</text><text transform="translate(85.28,416.93) scale(1.0503,1)" font-size="11.17" font-weight="normal" letter-spacing="0.000" fill="#000" stroke="#000" stroke-width="0.1" xml:space="preserve">=</text><text transform="translate(95.29,416.75) scale(1.1750,1)" font-size="9.89" font-weight="normal" letter-spacing="0.000" fill="#000" stroke="#000" stroke-width="0.1" xml:space="preserve">.0003</text><text transform="translate(198.22,416.45) scale(1.0454,1)" font-size="10.17" font-weight="normal" font-style="italic" letter-spacing="0.000" fill="#000" stroke="#000" stroke-width="0.1" xml:space="preserve">P</text><text transform="translate(205.24,417.23) scale(1.2394,1)" font-size="11.79" font-weight="normal" letter-spacing="0.000" fill="#000" stroke="#000" stroke-width="0.1" xml:space="preserve">=</text><text transform="translate(222.78,416.75) scale(1.1207,1)" font-size="10.45" font-weight="normal" letter-spacing="0.000" fill="#000" stroke="#000" stroke-width="0.1" xml:space="preserve">.0004</text><text transform="translate(330.80,416.65) scale(1.0340,1)" font-size="10.90" font-weight="normal" font-style="italic" letter-spacing="0.000" fill="#000" stroke="#000" stroke-width="0.1" xml:space="preserve">P</text><text transform="translate(340.60,417.07) scale(1.3065,1)" font-size="10.24" font-weight="normal" letter-spacing="0.000" fill="#000" stroke="#000" stroke-width="0.1" xml:space="preserve">=</text><text transform="translate(350.87,416.75) scale(1.0397,1)" font-size="10.31" font-weight="normal" letter-spacing="0.000" fill="#000" stroke="#000" stroke-width="0.1" xml:space="preserve">.01</text><text transform="translate(447.80,416.35) scale(1.0922,1)" font-size="10.32" font-weight="normal" font-style="italic" letter-spacing="0.000" fill="#000" stroke="#000" stroke-width="0.1" xml:space="preserve">P</text><text transform="translate(457.25,417.02) scale(1.1706,1)" font-size="10.55" font-weight="normal" letter-spacing="0.000" fill="#000" stroke="#000" stroke-width="0.1" xml:space="preserve">=</text><text transform="translate(467.51,416.55) scale(1.1188,1)" font-size="10.17" font-weight="normal" letter-spacing="-0.000" fill="#000" stroke="#000" stroke-width="0.1" xml:space="preserve">.0004</text>
</svg></body></html>
